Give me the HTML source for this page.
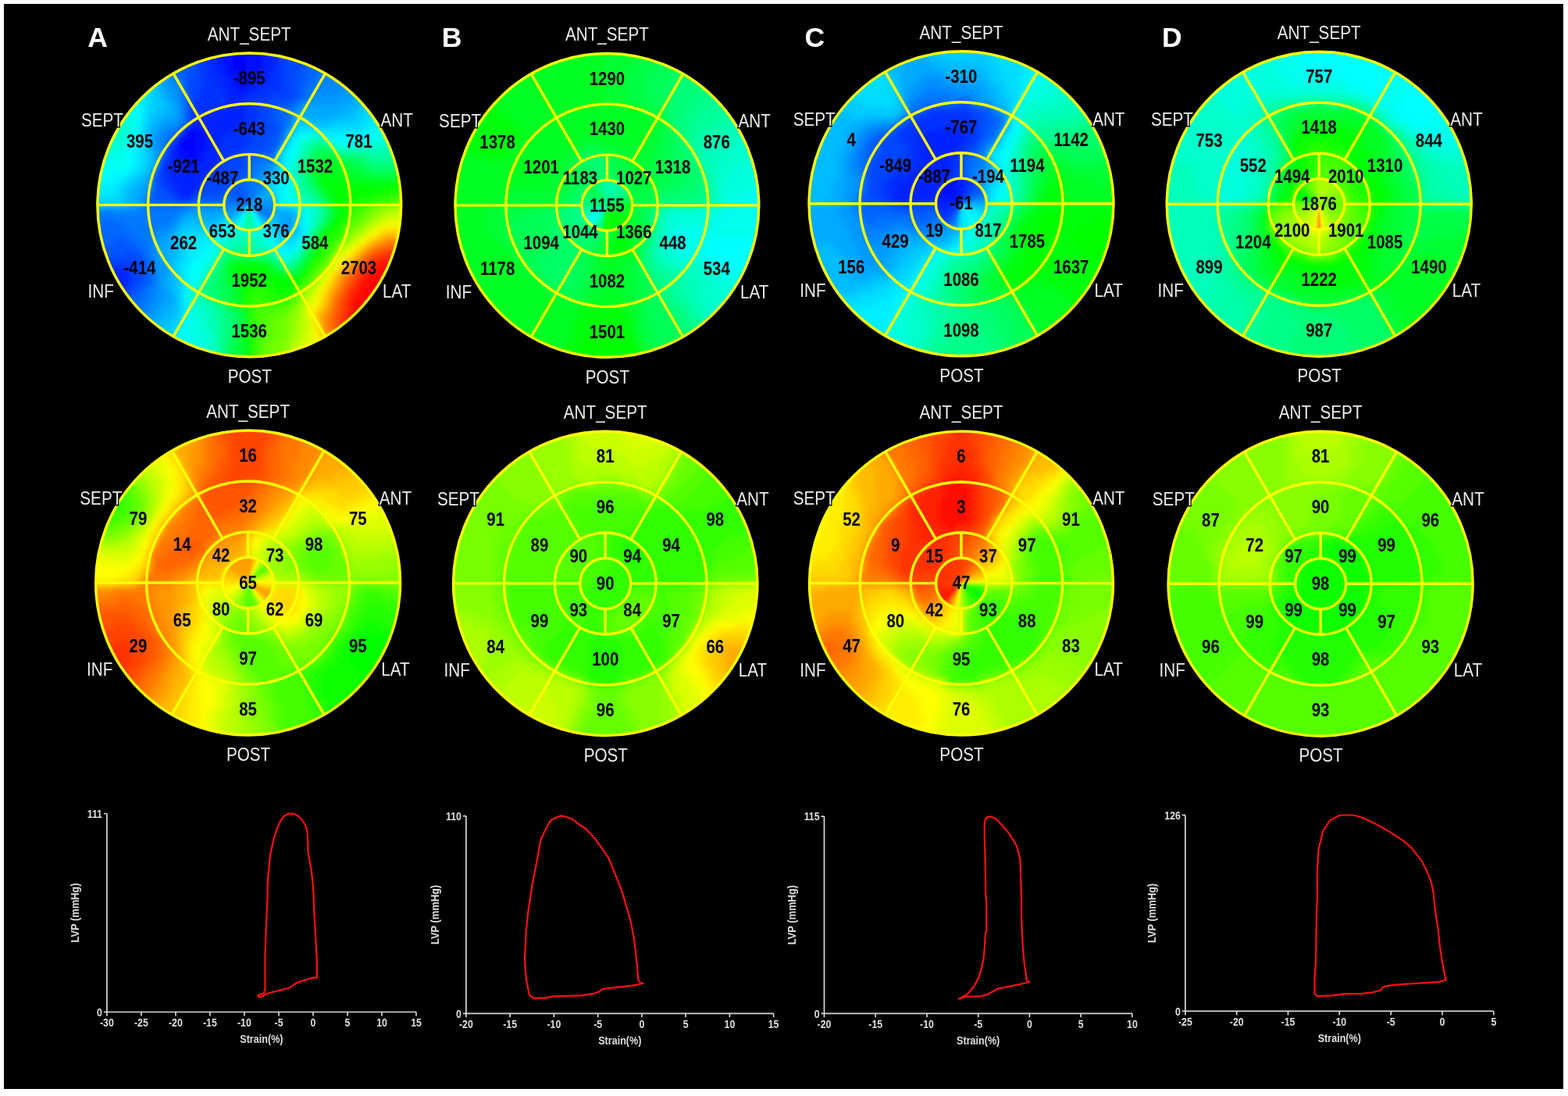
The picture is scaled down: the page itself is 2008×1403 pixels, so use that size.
<!DOCTYPE html><html><head><meta charset="utf-8"><title>Bullseye</title><style>html,body{margin:0;padding:0;background:#fff;}svg{display:block;}</style></head><body>
<svg width="2008" height="1403" viewBox="0 0 2008 1403">
<defs><filter id="bl" x="-10%" y="-10%" width="120%" height="120%"><feGaussianBlur stdDeviation="4"/></filter><filter id="bl2"><feGaussianBlur stdDeviation="1.2"/></filter></defs>
<rect x="0" y="0" width="2008" height="1403" fill="#fff"/>
<rect x="5" y="5" width="1997" height="1389" fill="#000"/>
<g fill="none"><clipPath id="cA1"><circle cx="319.25" cy="262.40" r="194.40"/></clipPath><g clip-path="url(#cA1)"><g filter="url(#bl)" stroke-width="9"><path stroke="#02f" d="M274 61h8M338 61h24M266 69h16M338 69h16M266 77h16M338 77h16M274 85h16M338 85h16M274 93h16M330 93h16M282 101h16M330 101h16M282 109h16M322 109h16M290 117h16M314 117h16M290 125h24M290 133h24M274 141h40M258 149h56M242 157h72M258 165h48M226 173h8M266 173h24M266 181h16M218 189h8M266 189h16M218 197h8M258 197h24M218 205h16M258 205h24M218 213h24M250 213h24M218 221h48M218 229h40M226 237h32M226 245h24M234 253h8M130 349h32M138 357h24M138 365h24M146 373h8"/><path stroke="#01f" d="M282 61h8M314 61h24M282 69h8M314 69h24M282 77h16M314 77h24M290 85h8M314 85h24M290 93h16M314 93h16M298 101h32M298 109h24M306 117h8M234 165h24M234 173h8M250 173h16M226 181h8M250 181h16M226 189h8M250 189h16M226 197h16M250 197h8M234 205h24M242 213h8"/><path stroke="#00f" d="M290 61h24M290 69h24M298 77h16M298 85h16M306 93h8M242 173h8M234 181h16M234 189h16M242 197h8"/><path stroke="#03f" d="M250 69h16M354 69h8M250 77h16M354 77h8M258 85h16M354 85h8M258 93h16M346 93h16M258 101h24M346 101h16M258 109h24M338 109h24M258 117h32M330 117h32M250 125h40M314 125h32M242 133h48M314 133h16M242 141h32M314 141h16M242 149h16M314 149h16M314 157h16M306 165h24M290 173h32M218 181h8M282 181h40M282 189h32M210 197h8M282 197h24M210 205h8M282 205h8M202 213h16M274 213h8M202 221h16M266 221h16M210 229h8M258 229h8M210 237h16M218 245h8M250 245h8M226 253h8M242 253h8M130 341h40M162 349h8M162 357h8M162 365h8M154 373h8"/><path stroke="#04f" d="M362 69h24M362 77h24M250 85h8M362 85h24M250 93h8M362 93h16M242 101h16M362 101h16M242 109h16M362 109h16M242 117h16M362 117h16M242 125h8M346 125h32M330 133h32M330 141h16M330 149h16M330 157h16M330 165h24M322 173h24M322 181h24M210 189h8M314 189h24M306 197h24M202 205h8M290 205h24M282 213h32M282 221h24M202 229h8M266 229h40M202 237h8M258 237h40M210 245h8M258 245h32M218 253h8M250 253h8M226 261h16M162 325h8M130 333h48M170 341h16M170 349h16M170 357h16M170 365h8M162 373h8M154 381h8"/><path stroke="#05f" d="M386 69h8M234 77h16M386 77h8M234 85h16M386 85h8M234 93h16M378 93h16M234 101h8M378 101h16M234 109h8M378 109h8M234 117h8M378 117h8M378 125h8M362 133h16M346 141h8M346 149h8M346 157h16M354 165h8M346 173h16M346 181h8M338 189h16M330 197h24M314 205h8M314 213h8M194 221h8M306 221h16M194 229h8M306 229h8M194 237h8M194 245h16M194 253h24M258 253h32M202 261h24M242 261h8M146 309h16M122 317h48M122 325h40M170 325h16M122 333h8M178 333h8M186 357h8M178 365h8M170 373h8M162 381h8M154 389h8"/><path stroke="#06f" d="M226 77h8M394 77h16M218 85h16M394 85h16M218 93h16M394 93h16M226 101h8M394 101h8M386 109h16M386 117h8M234 125h8M386 125h8M234 133h8M234 141h8M354 141h16M234 149h8M354 149h16M234 157h8M362 157h8M226 165h8M218 173h8M354 181h8M354 189h8M322 205h8M346 205h8M314 229h8M298 237h16M290 245h16M186 253h8M186 261h16M258 261h24M130 285h24M114 293h48M114 301h56M122 309h24M162 309h16M170 317h16M186 333h8M186 341h8M186 349h8M186 365h8M178 373h8M170 381h16M162 389h16M162 397h16"/><path stroke="#07f" d="M210 85h8M410 85h16M210 93h8M410 93h8M426 93h8M402 101h16M402 109h8M394 117h8M394 125h8M378 133h8M370 141h8M370 149h8M362 165h8M210 173h8M210 181h8M330 205h16M322 213h16M322 221h8M314 237h8M306 245h16M290 253h24M250 261h8M282 261h8M130 269h16M178 269h56M122 277h104M114 285h16M154 285h64M162 293h40M170 301h24M178 309h16M186 317h8M186 325h8M194 349h8M194 357h8M194 365h8M186 373h8M186 381h8M178 389h8M178 397h8M170 405h8"/><path stroke="#09f" d="M202 93h8M202 101h16M210 109h8M210 117h16M434 117h24M218 125h8M402 125h48M394 133h40M226 141h8M226 149h8M210 157h16M202 165h8M370 165h8M194 173h8M194 181h8M194 189h8M346 213h8M338 221h8M330 229h8M186 237h8M330 237h8M330 245h8M178 253h8M338 253h8M178 261h8M298 261h48M114 269h8M242 269h48M330 269h24M226 285h8M362 285h16M218 293h8M370 293h8M202 301h16M202 309h8M202 333h8M202 341h16M202 349h16M202 357h8M202 365h8M202 373h16M202 381h16M202 389h8M194 397h8M186 405h16M186 413h8"/><path stroke="#08f" d="M418 93h8M218 101h8M418 101h32M218 109h16M410 109h48M226 117h8M402 117h32M226 125h8M226 133h8M386 133h8M378 141h8M226 157h8M370 157h8M210 165h16M202 173h8M362 173h8M202 181h8M362 181h8M202 189h8M202 197h8M338 213h8M330 221h8M322 229h8M322 237h8M186 245h8M322 245h8M314 253h24M290 261h8M122 269h8M146 269h32M234 269h8M114 277h8M226 277h8M218 285h8M202 293h16M194 301h8M194 309h8M194 317h8M194 325h8M194 333h8M194 341h8M194 373h8M194 381h8M186 389h16M186 397h8M178 405h8M178 413h8"/><path stroke="#0df" d="M194 101h8M186 117h8M186 125h8M186 133h8M186 141h8M474 141h16M466 149h16M458 157h16M178 165h8M378 165h24M418 165h48M178 173h8M370 173h8M178 181h8M178 189h8M362 189h8M178 197h8M178 205h8M178 213h8M170 221h8M354 221h8M162 229h8M154 237h8M346 237h8M114 245h8M146 245h8M346 245h8M114 253h40M378 269h8M282 285h8M298 285h24M378 285h8M274 293h8M346 293h8M234 301h40M234 309h16M354 309h24M234 317h8M234 325h8M234 333h8M226 341h8M226 349h8M234 397h8M210 437h8"/><path stroke="#0fe" d="M178 109h8M170 117h16M162 125h16M162 133h8M162 141h8M170 157h8M170 165h8M394 173h8M482 173h16M162 181h8M378 181h8M418 181h8M458 181h16M162 189h8M122 197h16M146 197h16M122 205h40M370 205h8M122 213h40M370 229h8M362 245h16M370 253h8M370 261h16M386 269h8M386 277h8M290 293h8M330 293h8M282 301h8M338 301h8M274 309h8M346 317h8M378 317h8M266 325h8M370 325h8M258 333h8M258 341h8M250 349h8M250 357h8M234 405h8M242 413h8M234 421h16M234 429h16M226 437h24M234 445h8"/><path stroke="#0ff" d="M186 109h8M170 133h8M170 141h8M170 149h8M490 157h8M482 165h16M170 173h8M386 173h8M466 173h16M170 181h8M426 181h32M370 189h8M162 197h8M370 197h8M162 205h8M162 213h8M362 213h8M114 221h48M362 221h8M122 229h24M362 229h8M362 237h8M362 253h8M362 261h8M386 285h8M282 293h8M274 301h8M386 301h8M346 309h8M266 317h8M258 325h8M354 325h16M250 333h8M242 341h16M242 349h8M242 357h8M242 365h8M234 381h8M234 413h8M226 421h8M226 429h8M226 445h8"/><path stroke="#0bf" d="M194 109h8M202 117h8M202 125h8M466 125h8M210 133h8M458 133h8M202 141h16M450 141h8M194 149h16M434 149h16M194 157h8M394 157h32M186 165h8M186 173h8M186 181h8M186 189h8M354 197h8M354 213h8M186 221h8M178 229h8M162 237h16M338 237h8M162 245h8M162 253h8M346 253h8M114 261h8M154 261h8M370 269h8M282 277h8M314 277h16M346 277h8M378 277h8M234 285h24M266 285h16M330 285h16M226 293h8M354 293h8M226 317h8M218 325h8M218 333h8M218 357h8M218 365h8M218 373h8M218 397h8M210 405h16M202 413h16M194 421h16M194 429h8"/><path stroke="#0af" d="M202 109h8M458 117h8M210 125h8M450 125h16M218 133h8M434 133h24M218 141h8M386 141h64M210 149h16M378 149h56M202 157h8M194 165h8M194 197h8M194 205h8M194 213h8M346 221h8M186 229h8M338 229h8M178 237h8M170 245h16M338 245h8M170 253h8M162 261h16M346 261h8M290 269h40M354 269h16M234 277h48M330 277h16M354 277h24M258 285h8M354 285h8M362 293h8M218 301h8M362 301h8M210 309h16M202 317h24M202 325h16M210 333h8M218 349h8M210 357h8M210 365h8M218 381h8M210 389h16M202 397h16M202 405h8M194 413h8M186 421h8"/><path stroke="#0cf" d="M194 117h8M194 125h8M194 133h16M466 133h16M194 141h8M458 141h16M186 149h8M450 149h16M186 157h8M378 157h16M426 157h32M402 165h16M186 197h8M186 205h8M354 205h8M186 213h8M178 221h8M170 229h8M346 229h8M154 245h8M154 253h8M122 261h32M290 277h24M322 285h8M346 285h8M234 293h40M378 293h8M226 301h8M354 301h8M370 301h16M226 309h8M226 325h8M226 333h8M218 341h8M226 357h8M226 365h8M226 373h8M226 381h8M226 389h8M226 397h8M226 405h8M218 413h16M210 421h16M202 429h24"/><path stroke="#0ef" d="M178 125h8M178 133h8M178 141h8M178 149h8M482 149h8M178 157h8M474 157h16M466 165h16M378 173h8M410 173h56M370 181h8M170 189h8M170 197h8M362 197h8M170 205h8M362 205h8M170 213h8M162 221h8M114 229h8M146 229h16M354 229h8M114 237h40M354 237h8M122 245h24M354 245h8M354 253h8M354 261h8M290 285h8M306 293h24M338 293h8M386 293h8M346 301h8M250 309h24M378 309h8M242 317h24M354 317h24M242 325h16M242 333h8M234 341h8M234 349h8M234 357h8M234 365h8M234 373h8M234 389h8M218 437h8"/><path stroke="#0fd" d="M154 141h8M146 149h24M162 157h8M162 165h8M162 173h8M402 173h8M498 173h8M154 181h8M386 181h8M474 181h24M130 189h32M378 189h8M434 189h16M138 197h8M378 197h8M370 213h8M370 237h8M378 253h8M394 269h8M394 277h8M394 285h8M298 293h8M290 301h8M330 301h8M282 309h8M338 309h8M386 309h8M274 317h8M274 325h8M266 333h8M362 333h8M266 341h8M258 349h8M250 365h8M242 373h8M242 389h8M242 397h8M242 405h16M250 413h8M250 421h8M250 429h16M250 437h16M242 445h24M242 453h24"/><path stroke="#0fc" d="M138 157h24M138 165h24M130 173h32M130 181h24M498 181h8M426 189h8M450 189h32M378 205h8M370 221h8M402 269h8M394 293h8M298 301h8M314 301h16M290 309h8M330 309h8M282 317h8M338 317h8M274 333h8M258 357h8M250 373h8M242 381h8M250 389h8M250 397h16M258 405h8M258 413h8M258 421h8M266 429h8M266 437h8M266 445h8M266 453h8M266 461h16"/><path stroke="#0fb" d="M394 181h8M386 189h8M482 189h32M378 213h8M386 261h16M402 277h8M306 301h8M298 309h8M322 309h8M290 317h8M330 317h8M378 325h8M370 333h8M258 389h8M266 397h8M266 405h8M266 413h8M266 421h8M274 445h8M274 453h8"/><path stroke="#0f9" d="M402 181h16M394 189h8M458 197h16M506 197h8M482 205h16M386 237h8M386 245h8M410 269h8M394 301h8M306 317h16M386 317h8M322 325h8M354 333h8M258 381h8M274 397h8"/><path stroke="#0f7" d="M402 189h8M394 197h8M466 205h8M386 213h8M474 213h24M386 221h8M394 237h8M402 293h8M274 341h8M274 349h8M266 357h8M266 365h8M258 373h16M266 381h8M290 405h8M290 421h8M290 429h8"/><path stroke="#0f6" d="M410 189h16M394 205h8M458 205h8M466 213h8M498 213h24M410 261h8M410 285h8M394 309h8M290 325h16M386 325h8M282 333h8M346 333h8M274 357h8M274 365h8M274 373h8M274 381h8M282 389h8M290 397h8M298 405h8M298 413h8M298 421h8M290 437h8"/><path stroke="#0fa" d="M386 197h8M474 197h32M378 221h8M378 229h8M378 237h8M378 245h8M386 253h16M402 261h8M402 285h8M306 309h16M298 317h8M322 317h8M330 325h8M346 325h8M362 341h8M250 381h8M266 389h8M274 405h8M274 413h8M274 421h8M274 429h8M274 437h8"/><path stroke="#0f5" d="M402 197h8M434 205h24M458 213h8M474 221h32M394 229h8M402 245h8M418 269h8M282 341h8M354 341h8M282 349h8M282 357h8M282 365h8M282 373h8M282 381h8M298 397h8M298 429h8M290 445h8M290 453h8M290 461h8"/><path stroke="#0f4" d="M410 197h24M402 205h8M394 213h8M450 213h8M394 221h8M466 221h8M506 221h16M410 253h8M418 277h8M394 317h8M290 333h8M338 333h8M386 333h8M378 341h8M370 349h8M290 365h8M290 373h8M290 381h8M290 389h8M306 405h8M306 413h8M298 437h8M298 445h8M298 453h8M298 461h8"/><path stroke="#0f8" d="M434 197h24M386 205h8M474 205h8M498 205h16M386 229h8M394 245h8M402 253h8M410 277h8M282 325h8M306 325h16M338 325h8M378 333h8M370 341h8M266 349h8M258 365h8M274 389h8M282 397h8M282 405h8M282 413h16M282 421h8M282 429h8M282 437h8M282 445h8M282 453h8M282 461h8"/><path stroke="#0f3" d="M410 205h24M402 213h8M442 213h8M442 221h24M490 229h8M402 237h8M418 261h8M402 301h8M298 333h8M346 341h8M290 357h8M298 373h8M298 381h8M298 389h8M306 397h8M306 421h8M306 429h8M306 437h8M306 445h8M306 453h8M306 461h8"/><path stroke="#0f2" d="M410 213h32M402 221h40M402 229h8M442 229h48M498 229h16M410 245h8M418 253h8M426 269h8M418 285h8M410 293h8M394 325h8M306 333h32M290 341h8M290 349h8M354 349h16M378 349h8M298 365h8"/><path stroke="#0f1" d="M410 229h32M514 229h8M410 237h88M418 245h8M426 261h8M426 277h8M402 309h8M394 333h8M298 341h48M386 341h8M298 349h8M346 349h8M298 357h8M362 357h16M306 365h8M306 373h8M306 381h8M306 389h8M314 437h8M314 445h8M314 453h8M314 461h8"/><path stroke="#0f0" d="M498 237h16M426 245h64M426 253h32M434 261h8M434 269h8M434 277h8M426 285h8M418 293h8M402 317h8M306 349h40M386 349h8M306 357h56M378 357h8M354 365h24M314 421h8M314 429h8"/><path stroke="#1f0" d="M514 237h8M490 245h24M458 253h24M442 261h16M442 269h8M442 277h8M434 285h8M426 293h8M410 301h16M402 325h8M394 341h8M314 365h40M378 365h8M314 373h8M346 373h32M354 381h16M314 397h8M314 405h8M314 413h8"/><path stroke="#3f0" d="M514 245h8M498 253h16M474 261h8M450 269h8M426 309h8M418 317h8M410 333h8M402 341h8M386 365h8M322 381h16M370 381h8M322 389h48M322 397h8M322 405h8M322 413h8M322 421h8"/><path stroke="#2f0" d="M482 253h16M458 261h16M442 285h8M434 293h8M426 301h16M410 309h16M410 317h8M410 325h8M402 333h8M394 349h8M386 357h8M322 373h24M378 373h8M314 381h8M338 381h16M314 389h8M322 429h8M322 437h8M322 445h8M322 453h8M322 461h8"/><path stroke="#5f0" d="M514 253h8M498 261h16M466 269h8M458 277h8M450 285h8M442 293h8M426 325h8M418 333h8M410 341h8M402 349h8M394 365h8M378 381h8M370 389h8M354 397h16M338 405h16M338 413h8M338 421h8M338 429h8M330 453h8M330 461h8"/><path stroke="#4f0" d="M482 261h16M458 269h8M450 277h8M434 309h8M426 317h8M418 325h8M394 357h8M330 397h24M330 405h8M330 413h8M330 421h8M330 429h8M330 437h8M330 445h8"/><path stroke="#8f0" d="M514 261h8M482 269h8M474 277h8M466 285h8M458 293h8M386 373h8M370 405h8M370 413h8M370 421h8M362 445h8M362 453h8M362 461h8"/><path stroke="#7f0" d="M474 269h8M458 285h8M450 293h8M442 301h8M418 341h8M410 349h8M378 389h8M370 397h8M362 413h8M362 421h8M362 429h8M354 437h16M346 445h16M346 453h16M338 461h24"/><path stroke="#9f0" d="M490 269h8M482 277h8M450 301h8M442 309h8M378 397h8M378 405h8M370 429h8M370 437h8"/><path stroke="#af0" d="M498 269h8M514 269h8M474 285h8M466 293h8M434 317h8M386 381h8M386 389h8M378 413h8M378 421h8M378 429h8M370 445h8M370 453h8M370 461h8"/><path stroke="#bf0" d="M506 269h8M490 277h16M458 301h8M450 309h8M394 373h8M386 397h8M386 405h8M386 413h8M386 421h8M378 437h8"/><path stroke="#6f0" d="M466 277h8M402 357h8M354 405h16M346 413h16M346 421h16M346 429h16M338 437h16M338 445h8M338 453h8"/><path stroke="#cf0" d="M506 277h16M482 285h8M442 317h8M402 365h8M394 381h8M386 429h8M386 437h8M378 445h8M378 453h8"/><path stroke="#df0" d="M490 285h8M474 293h8M466 301h8M434 325h8M426 333h8M410 357h8M402 373h8M394 389h8M394 413h8M394 421h8M394 429h8M394 437h8M386 445h8M386 453h16"/><path stroke="#ef0" d="M498 285h24M482 293h8M458 309h8M450 317h8M410 365h8M402 381h8M394 405h8M402 437h8M394 445h8"/><path stroke="#fe0" d="M490 293h32M466 309h8M418 357h8M410 373h8M402 421h8"/><path stroke="#ff0" d="M474 301h8M442 325h8M434 333h8M426 341h8M418 349h8M402 389h8M394 397h8M402 429h8M402 445h8"/><path stroke="#fd0" d="M482 301h8M458 317h8M450 325h8M426 349h8M418 365h8M410 381h8M402 397h8M402 413h8"/><path stroke="#fb0" d="M490 301h32M474 309h8M426 357h8M418 373h8M410 397h8M402 405h8M410 437h8"/><path stroke="#fa0" d="M482 309h8M466 317h8M458 325h8M450 333h8M442 341h8M434 349h8M426 365h8M418 381h8"/><path stroke="#f80" d="M490 309h32M474 317h8M442 349h8M434 357h8M426 373h8M418 397h8M410 421h8M418 437h8"/><path stroke="#f70" d="M482 317h8M466 325h8M458 333h8M450 341h8M434 365h8M426 381h8M418 405h8M418 413h8M418 421h8M418 429h8"/><path stroke="#f60" d="M490 317h8M506 317h16M442 357h8M434 373h8M426 389h8M426 397h8M426 429h8"/><path stroke="#f50" d="M498 317h8M474 325h8M466 333h8M458 341h8M450 349h8M442 365h8M434 381h8M426 405h8M426 413h8M426 421h8"/><path stroke="#f40" d="M482 325h8M450 357h8M434 389h8M434 397h8M434 413h8M434 421h8M434 429h8"/><path stroke="#f30" d="M490 325h24M474 333h8M466 341h8M458 349h8M450 365h8M442 373h8M442 381h8M434 405h8"/><path stroke="#fc0" d="M442 333h8M434 341h8M410 389h8M410 429h8M410 445h8"/><path stroke="#f20" d="M482 333h16M506 333h8M474 341h8M466 349h8M458 357h8M450 373h8M442 389h8M442 397h8M442 405h8M442 413h8M442 421h8"/><path stroke="#f10" d="M498 333h8M482 341h32M474 349h16M466 357h16M458 365h16M458 373h8M450 381h16M450 389h8M450 397h8M450 405h8M450 413h8"/><path stroke="#f00" d="M490 349h16M482 357h24M474 365h24M466 373h24M466 381h24M458 389h24M458 397h16M458 405h8"/><path stroke="#f90" d="M418 389h8M410 405h8M410 413h8"/></g></g></g>
<clipPath id="ccA1"><circle cx="319.25" cy="262.40" r="32.40"/></clipPath><g clip-path="url(#ccA1)"><g filter="url(#bl2)"><path fill="#0090ff" d="M319.2 262.4L354.6 262.8L354.6 260.2Z"/><path fill="#0093ff" d="M319.2 262.4L354.6 260.9L354.4 258.3Z"/><path fill="#0096ff" d="M319.2 262.4L354.5 259.1L354.2 256.5Z"/><path fill="#009aff" d="M319.2 262.4L354.3 257.2L353.8 254.7Z"/><path fill="#009dff" d="M319.2 262.4L354.0 255.4L353.3 252.9Z"/><path fill="#00a0ff" d="M319.2 262.4L353.5 253.6L352.8 251.1Z"/><path fill="#00a3ff" d="M319.2 262.4L353.0 251.8L352.2 249.4Z"/><path fill="#00a6ff" d="M319.2 262.4L352.4 250.1L351.4 247.7Z"/><path fill="#00a9ff" d="M319.2 262.4L351.7 248.3L350.6 246.0Z"/><path fill="#00acff" d="M319.2 262.4L351.0 246.7L349.7 244.4Z"/><path fill="#00abff" d="M319.2 262.4L350.1 245.0L348.7 242.8Z"/><path fill="#00a7ff" d="M319.2 262.4L349.1 243.4L347.7 241.3Z"/><path fill="#00a3ff" d="M319.2 262.4L348.1 241.9L346.5 239.8Z"/><path fill="#009fff" d="M319.2 262.4L347.0 240.4L345.3 238.4Z"/><path fill="#009bff" d="M319.2 262.4L345.8 239.0L344.0 237.1Z"/><path fill="#0097ff" d="M319.2 262.4L344.5 237.6L342.7 235.8Z"/><path fill="#0093ff" d="M319.2 262.4L343.2 236.3L341.2 234.7Z"/><path fill="#008fff" d="M319.2 262.4L341.8 235.1L339.8 233.5Z"/><path fill="#008bff" d="M319.2 262.4L340.4 234.0L338.2 232.5Z"/><path fill="#0087ff" d="M319.2 262.4L338.8 232.9L336.6 231.6Z"/><path fill="#0084ff" d="M319.2 262.4L337.3 231.9L335.0 230.7Z"/><path fill="#0082ff" d="M319.2 262.4L335.7 231.0L333.3 229.9Z"/><path fill="#0080ff" d="M319.2 262.4L334.0 230.2L331.6 229.2Z"/><path fill="#007dff" d="M319.2 262.4L332.3 229.5L329.8 228.6Z"/><path fill="#007bff" d="M319.2 262.4L330.5 228.8L328.1 228.1Z"/><path fill="#0079ff" d="M319.2 262.4L328.8 228.3L326.2 227.7Z"/><path fill="#0077ff" d="M319.2 262.4L327.0 227.9L324.4 227.4Z"/><path fill="#0075ff" d="M319.2 262.4L325.2 227.5L322.6 227.2Z"/><path fill="#0073ff" d="M319.2 262.4L323.3 227.2L320.7 227.0Z"/><path fill="#0071ff" d="M319.2 262.4L321.5 227.1L318.9 227.0Z"/><path fill="#006fff" d="M319.2 262.4L319.6 227.0L317.0 227.1Z"/><path fill="#006dff" d="M319.2 262.4L317.8 227.0L315.2 227.2Z"/><path fill="#006bff" d="M319.2 262.4L315.9 227.2L313.3 227.5Z"/><path fill="#0069ff" d="M319.2 262.4L314.1 227.4L311.5 227.9Z"/><path fill="#0067ff" d="M319.2 262.4L312.3 227.7L309.7 228.3Z"/><path fill="#0065ff" d="M319.2 262.4L310.4 228.1L308.0 228.8Z"/><path fill="#0063ff" d="M319.2 262.4L308.7 228.6L306.2 229.5Z"/><path fill="#0061ff" d="M319.2 262.4L306.9 229.2L304.5 230.2Z"/><path fill="#005fff" d="M319.2 262.4L305.2 229.9L302.8 231.0Z"/><path fill="#005dff" d="M319.2 262.4L303.5 230.7L301.2 231.9Z"/><path fill="#005bff" d="M319.2 262.4L301.9 231.6L299.7 232.9Z"/><path fill="#0059ff" d="M319.2 262.4L300.3 232.5L298.1 234.0Z"/><path fill="#0057ff" d="M319.2 262.4L298.7 233.5L296.7 235.1Z"/><path fill="#0055ff" d="M319.2 262.4L297.3 234.7L295.3 236.3Z"/><path fill="#0053ff" d="M319.2 262.4L295.8 235.8L294.0 237.6Z"/><path fill="#0053ff" d="M319.2 262.4L294.5 237.1L292.7 239.0Z"/><path fill="#0056ff" d="M319.2 262.4L293.2 238.4L291.5 240.4Z"/><path fill="#0058ff" d="M319.2 262.4L292.0 239.8L290.4 241.9Z"/><path fill="#005bff" d="M319.2 262.4L290.8 241.3L289.4 243.4Z"/><path fill="#005eff" d="M319.2 262.4L289.8 242.8L288.4 245.0Z"/><path fill="#0061ff" d="M319.2 262.4L288.8 244.4L287.5 246.7Z"/><path fill="#0063ff" d="M319.2 262.4L287.9 246.0L286.8 248.3Z"/><path fill="#0066ff" d="M319.2 262.4L287.1 247.7L286.1 250.1Z"/><path fill="#0069ff" d="M319.2 262.4L286.3 249.4L285.5 251.8Z"/><path fill="#006bff" d="M319.2 262.4L285.7 251.1L285.0 253.6Z"/><path fill="#006eff" d="M319.2 262.4L285.2 252.9L284.5 255.4Z"/><path fill="#0071ff" d="M319.2 262.4L284.7 254.7L284.2 257.2Z"/><path fill="#0074ff" d="M319.2 262.4L284.3 256.5L284.0 259.1Z"/><path fill="#0076ff" d="M319.2 262.4L284.1 258.3L283.9 260.9Z"/><path fill="#0079ff" d="M319.2 262.4L283.9 260.2L283.9 262.8Z"/><path fill="#007dff" d="M319.2 262.4L283.9 262.0L283.9 264.6Z"/><path fill="#0081ff" d="M319.2 262.4L283.9 263.9L284.1 266.5Z"/><path fill="#0085ff" d="M319.2 262.4L284.0 265.7L284.3 268.3Z"/><path fill="#008aff" d="M319.2 262.4L284.2 267.6L284.7 270.1Z"/><path fill="#008eff" d="M319.2 262.4L284.5 269.4L285.2 271.9Z"/><path fill="#0092ff" d="M319.2 262.4L285.0 271.2L285.7 273.7Z"/><path fill="#0097ff" d="M319.2 262.4L285.5 273.0L286.3 275.4Z"/><path fill="#009bff" d="M319.2 262.4L286.1 274.7L287.1 277.1Z"/><path fill="#00a0ff" d="M319.2 262.4L286.8 276.5L287.9 278.8Z"/><path fill="#00a4ff" d="M319.2 262.4L287.5 278.1L288.8 280.4Z"/><path fill="#00a8ff" d="M319.2 262.4L288.4 279.8L289.8 282.0Z"/><path fill="#00adff" d="M319.2 262.4L289.4 281.4L290.8 283.5Z"/><path fill="#00b5ff" d="M319.2 262.4L290.4 282.9L292.0 285.0Z"/><path fill="#00bdff" d="M319.2 262.4L291.5 284.4L293.2 286.4Z"/><path fill="#00c6ff" d="M319.2 262.4L292.7 285.8L294.5 287.7Z"/><path fill="#00ceff" d="M319.2 262.4L294.0 287.2L295.8 289.0Z"/><path fill="#00d7ff" d="M319.2 262.4L295.3 288.5L297.3 290.1Z"/><path fill="#00dfff" d="M319.2 262.4L296.7 289.7L298.7 291.3Z"/><path fill="#00e8ff" d="M319.2 262.4L298.1 290.8L300.3 292.3Z"/><path fill="#00f1ff" d="M319.2 262.4L299.7 291.9L301.9 293.2Z"/><path fill="#00fbff" d="M319.2 262.4L301.2 292.9L303.5 294.1Z"/><path fill="#00fff7" d="M319.2 262.4L302.8 293.8L305.2 294.9Z"/><path fill="#00ffeb" d="M319.2 262.4L304.5 294.6L306.9 295.6Z"/><path fill="#00ffde" d="M319.2 262.4L306.2 295.3L308.7 296.2Z"/><path fill="#00ffd2" d="M319.2 262.4L308.0 296.0L310.4 296.7Z"/><path fill="#00ffc6" d="M319.2 262.4L309.7 296.5L312.3 297.1Z"/><path fill="#00ffba" d="M319.2 262.4L311.5 296.9L314.1 297.4Z"/><path fill="#00ffad" d="M319.2 262.4L313.3 297.3L315.9 297.6Z"/><path fill="#00ffa1" d="M319.2 262.4L315.2 297.6L317.8 297.8Z"/><path fill="#00ff95" d="M319.2 262.4L317.0 297.7L319.6 297.8Z"/><path fill="#00ff95" d="M319.2 262.4L318.9 297.8L321.5 297.7Z"/><path fill="#00ffa1" d="M319.2 262.4L320.7 297.8L323.3 297.6Z"/><path fill="#00ffad" d="M319.2 262.4L322.6 297.6L325.2 297.3Z"/><path fill="#00ffba" d="M319.2 262.4L324.4 297.4L327.0 296.9Z"/><path fill="#00ffc6" d="M319.2 262.4L326.2 297.1L328.8 296.5Z"/><path fill="#00ffd2" d="M319.2 262.4L328.1 296.7L330.5 296.0Z"/><path fill="#00ffde" d="M319.2 262.4L329.8 296.2L332.3 295.3Z"/><path fill="#00ffeb" d="M319.2 262.4L331.6 295.6L334.0 294.6Z"/><path fill="#00fff7" d="M319.2 262.4L333.3 294.9L335.7 293.8Z"/><path fill="#00fbff" d="M319.2 262.4L335.0 294.1L337.3 292.9Z"/><path fill="#00efff" d="M319.2 262.4L336.6 293.2L338.8 291.9Z"/><path fill="#00e2ff" d="M319.2 262.4L338.2 292.3L340.4 290.8Z"/><path fill="#00d6ff" d="M319.2 262.4L339.8 291.3L341.8 289.7Z"/><path fill="#00caff" d="M319.2 262.4L341.2 290.1L343.2 288.5Z"/><path fill="#00beff" d="M319.2 262.4L342.7 289.0L344.5 287.2Z"/><path fill="#00b1ff" d="M319.2 262.4L344.0 287.7L345.8 285.8Z"/><path fill="#00a5ff" d="M319.2 262.4L345.3 286.4L347.0 284.4Z"/><path fill="#0099ff" d="M319.2 262.4L346.5 285.0L348.1 282.9Z"/><path fill="#008dff" d="M319.2 262.4L347.7 283.5L349.1 281.4Z"/><path fill="#0081ff" d="M319.2 262.4L348.7 282.0L350.1 279.8Z"/><path fill="#007bff" d="M319.2 262.4L349.7 280.4L351.0 278.1Z"/><path fill="#007dff" d="M319.2 262.4L350.6 278.8L351.7 276.5Z"/><path fill="#0080ff" d="M319.2 262.4L351.4 277.1L352.4 274.7Z"/><path fill="#0082ff" d="M319.2 262.4L352.2 275.4L353.0 273.0Z"/><path fill="#0084ff" d="M319.2 262.4L352.8 273.7L353.5 271.2Z"/><path fill="#0086ff" d="M319.2 262.4L353.3 271.9L354.0 269.4Z"/><path fill="#0088ff" d="M319.2 262.4L353.8 270.1L354.3 267.6Z"/><path fill="#008aff" d="M319.2 262.4L354.2 268.3L354.5 265.7Z"/><path fill="#008cff" d="M319.2 262.4L354.4 266.5L354.6 263.9Z"/><path fill="#008eff" d="M319.2 262.4L354.6 264.6L354.6 262.0Z"/></g></g>
<g fill="none" stroke="#ffff00" stroke-width="3.4"><circle cx="319.25" cy="262.40" r="194.40"/><circle cx="319.25" cy="262.40" r="129.60"/><circle cx="319.25" cy="262.40" r="64.80"/><circle cx="319.25" cy="262.40" r="32.40"/><path d="M124.85 262.40H286.85M351.65 262.40H513.65M319.25 197.60V230.00M319.25 294.80V327.20M351.65 206.28L416.45 94.04M286.85 206.28L222.05 94.04M286.85 318.52L222.05 430.76M351.65 318.52L416.45 430.76"/></g>
<g font-family="Liberation Sans, Arial, sans-serif" font-weight="bold" font-size="23.5" fill="#000" text-anchor="middle"><text transform="translate(319.2 108.0) scale(0.87 1)">-895</text><text transform="translate(179.0 189.0) scale(0.87 1)">395</text><text transform="translate(459.5 189.0) scale(0.87 1)">781</text><text transform="translate(179.0 351.0) scale(0.87 1)">-414</text><text transform="translate(459.5 351.0) scale(0.87 1)">2703</text><text transform="translate(319.2 432.0) scale(0.87 1)">1536</text><text transform="translate(319.2 172.8) scale(0.87 1)">-643</text><text transform="translate(235.1 221.4) scale(0.87 1)">-921</text><text transform="translate(403.4 221.4) scale(0.87 1)">1532</text><text transform="translate(235.1 318.6) scale(0.87 1)">262</text><text transform="translate(403.4 318.6) scale(0.87 1)">584</text><text transform="translate(319.2 367.2) scale(0.87 1)">1952</text><text transform="translate(284.9 235.6) scale(0.87 1)">-487</text><text transform="translate(353.6 235.6) scale(0.87 1)">330</text><text transform="translate(284.9 304.4) scale(0.87 1)">653</text><text transform="translate(353.6 304.4) scale(0.87 1)">376</text><text transform="translate(319.2 270.0) scale(0.87 1)">218</text></g>
<g font-family="Liberation Sans, Arial, sans-serif" font-size="23.5" fill="#ececec" text-anchor="middle" stroke="#000" stroke-width="3" paint-order="stroke"><text transform="translate(319.2 51.6) scale(0.88 1)">ANT_SEPT</text><text transform="translate(319.8 490.1) scale(0.88 1)">POST</text><text transform="translate(130.9 162.2) scale(0.88 1)">SEPT</text><text transform="translate(508.1 162.2) scale(0.88 1)">ANT</text><text transform="translate(129.2 381.4) scale(0.88 1)">INF</text><text transform="translate(508.1 381.2) scale(0.88 1)">LAT</text></g>
<g fill="none"><clipPath id="cB1"><circle cx="777.40" cy="262.90" r="194.40"/></clipPath><g clip-path="url(#cB1)"><g filter="url(#bl)" stroke-width="9"><path stroke="#0f2" d="M733 62h40M701 70h72M685 78h88M669 86h104M661 94h112M645 102h128M637 110h136M629 118h144M629 126h144M637 134h152M645 142h176M653 150h176M661 158h176M669 166h160M669 174h160M661 182h80M773 182h48M581 190h8M653 190h80M581 198h24M653 198h72M581 206h48M637 206h80M573 214h144M573 222h136M573 230h128M573 238h128M573 246h72M573 254h64M573 262h56M573 270h48M573 278h48M573 286h48M797 286h8M573 294h48M789 294h24M573 302h56M781 302h8M797 302h16M573 310h64M805 310h8M581 318h64M805 318h8M581 326h72M773 326h8M789 326h24M581 334h80M773 334h32M589 342h80M773 342h24M589 350h80M773 350h24M597 358h88M773 358h16M597 366h96M773 366h16M605 374h96M773 374h16M605 382h120M757 382h40M613 390h184M621 398h120M805 398h8M629 406h112M805 406h8M637 414h96M645 422h88M653 430h80M813 430h8M669 438h56M813 438h8M685 446h40M701 454h16M821 454h8M821 462h8"/><path stroke="#0f3" d="M773 62h40M773 70h40M773 78h40M773 86h40M773 94h32M773 102h32M773 110h32M773 118h32M773 126h32M789 134h32M821 142h8M829 150h16M837 158h16M829 166h16M829 174h16M741 182h32M821 182h24M733 190h16M765 190h72M725 198h16M789 198h48M717 206h16M797 206h40M717 214h16M805 214h24M709 222h16M805 222h24M701 230h24M813 230h24M701 238h16M821 238h8M645 246h72M637 254h72M629 262h72M621 270h24M805 270h8M621 278h24M797 278h16M621 286h24M789 286h8M805 286h16M621 294h24M781 294h8M813 294h8M629 302h16M813 302h8M637 310h16M773 310h8M813 310h8M645 318h16M773 318h8M653 326h8M757 326h16M661 334h8M757 334h16M805 334h16M669 342h8M757 342h16M797 342h16M669 350h16M757 350h16M797 350h16M685 358h8M757 358h16M789 358h24M693 366h8M757 366h16M789 366h24M701 374h8M749 374h24M789 374h24M749 382h8M797 382h16M797 390h16M813 398h8M813 406h8M813 414h8M813 422h8M821 438h8M821 446h8"/><path stroke="#0f4" d="M813 62h8M813 70h24M813 78h24M813 86h24M805 94h24M805 102h24M805 110h24M805 118h24M805 126h24M821 134h16M829 142h16M845 150h8M845 166h16M845 174h8M845 182h8M749 190h16M837 190h16M741 198h8M773 198h16M837 198h16M733 206h8M781 206h16M837 206h16M781 214h24M829 214h24M725 222h8M789 222h16M829 222h24M725 230h8M789 230h24M837 230h16M717 238h16M797 238h24M829 238h16M717 246h16M805 246h32M709 254h16M805 254h32M701 262h16M797 262h32M645 270h40M797 270h8M813 270h8M645 278h24M789 278h8M813 278h8M645 286h8M781 286h8M821 286h8M645 294h8M821 294h8M645 302h16M773 302h8M821 302h8M653 310h8M765 310h8M661 318h8M765 318h8M813 318h8M661 326h8M749 326h8M813 326h8M669 334h8M749 334h8M749 342h8M813 342h8M749 350h8M813 350h16M749 358h8M813 358h16M741 366h16M813 366h16M709 374h8M741 374h8M813 374h16M725 382h24M813 382h16M813 390h16M821 398h8M821 406h8M821 414h8M821 422h16M821 430h16M829 438h8M829 446h8M829 454h8"/><path stroke="#0f5" d="M837 70h16M837 78h32M837 86h32M829 94h32M829 102h32M829 110h24M829 118h24M829 126h24M837 134h16M845 142h8M853 158h8M853 174h16M853 182h16M853 190h16M749 198h24M853 198h16M741 206h8M853 206h16M733 214h16M853 214h24M733 222h16M781 222h8M853 222h24M733 230h16M781 230h8M853 230h24M733 238h16M845 238h24M733 246h8M797 246h8M837 246h16M725 254h8M797 254h8M837 254h8M717 262h8M789 262h8M829 262h8M685 270h24M789 270h8M821 270h8M669 278h40M781 278h8M821 278h8M653 286h56M653 294h48M773 294h8M829 294h8M661 302h40M765 302h8M661 310h40M821 310h8M669 318h32M757 318h8M669 326h32M741 326h8M677 334h16M733 334h16M677 342h16M733 342h16M685 350h8M733 350h16M693 358h8M733 358h16M701 366h40M829 366h8M717 374h24M829 374h8M829 382h8M829 390h24M829 398h24M829 406h32M829 414h32M837 422h32M837 430h40M837 438h32M837 446h16M837 454h16"/><path stroke="#0f6" d="M869 86h16M861 94h32M861 102h16M853 110h16M853 118h16M853 126h8M853 134h8M853 142h8M853 150h8M861 166h8M869 182h8M869 190h8M869 198h16M749 206h8M773 206h8M869 206h16M749 214h16M773 214h8M877 214h16M749 222h32M877 222h16M749 230h32M877 230h24M749 238h8M781 238h16M869 238h24M741 246h8M781 246h16M853 246h24M733 254h16M781 254h16M845 254h8M725 262h8M781 262h8M837 262h8M709 270h8M781 270h8M829 270h8M709 278h8M773 278h8M829 278h8M709 286h8M773 286h8M829 286h8M701 294h16M765 294h8M701 302h24M757 302h8M701 310h64M701 318h56M821 318h8M701 326h40M821 326h8M693 334h40M693 342h40M693 350h40M701 358h32M837 374h8M837 382h8M869 438h16M853 446h16"/><path stroke="#0f7" d="M877 102h32M869 110h40M869 118h32M861 126h32M861 134h24M861 142h16M861 150h16M861 158h8M869 166h8M869 174h8M877 190h8M885 198h8M757 206h16M885 206h8M765 214h8M893 214h8M893 222h8M757 238h24M893 238h8M749 246h32M877 246h32M765 254h16M853 254h40M733 262h16M773 262h8M717 270h16M773 270h8M837 270h8M717 278h16M765 278h8M717 286h24M765 286h8M717 294h48M725 302h32M829 302h8M821 334h8M821 342h8M829 350h8M829 358h8M837 366h8M845 382h8M853 390h8M853 398h16M861 406h16M861 414h16M869 422h16M877 430h16"/><path stroke="#0f8" d="M909 110h8M901 118h24M893 126h24M885 134h24M877 142h24M877 150h16M869 158h16M877 166h8M877 174h8M877 182h8M749 254h16M893 254h16M749 262h24M845 262h48M733 270h16M757 270h16M733 278h16M757 278h8M741 286h24M829 310h8M829 318h8M829 334h8M829 342h8M837 350h8M837 358h16M845 366h8M845 374h16M853 382h8M861 390h8M869 398h8M877 406h8M877 414h16M885 422h16M893 430h8"/><path stroke="#0f1" d="M621 126h8M613 134h24M613 142h32M605 150h48M597 158h64M597 166h72M589 174h80M589 182h72M589 190h64M605 198h48M629 206h8M789 302h8M781 310h24M781 318h24M781 326h8M741 398h64M741 406h64M733 414h24M797 414h16M733 422h24M797 422h16M733 430h16M805 430h8M725 438h24M805 438h8M725 446h16M813 446h8M717 454h24M813 454h8M725 462h8M813 462h8"/><path stroke="#0f9" d="M917 126h16M909 134h32M901 142h40M893 150h40M885 158h32M885 166h16M885 174h8M885 182h8M885 190h8M901 230h8M901 238h8M893 262h16M749 270h8M749 278h8M837 278h8M837 286h8M837 294h8M829 326h8M837 342h8M845 350h16M853 358h16M853 366h16M861 374h8M861 382h16M869 390h16M877 398h8M885 406h8M893 414h8"/><path stroke="#0fa" d="M933 150h16M917 158h40M901 166h32M893 174h24M893 182h16M893 190h8M893 198h8M893 206h8M901 214h8M901 222h8M909 238h8M909 246h8M845 270h8M837 302h8M837 310h8M837 334h8M845 342h16M861 350h16M869 358h8M869 366h8M869 374h16M877 382h8M885 390h8M885 398h8M893 406h8M901 422h8"/><path stroke="#0fb" d="M933 166h24M917 174h32M909 182h32M901 190h32M901 198h24M901 206h16M909 214h8M909 222h8M909 230h8M909 254h8M909 262h8M845 278h8M845 286h8M845 294h8M837 318h8M837 326h8M845 334h8M861 342h8M877 342h16M877 350h16M877 358h24M877 366h24M885 374h8M885 382h16M893 390h8M893 398h8M901 406h8M901 414h16"/><path stroke="#0fc" d="M949 174h16M941 182h24M933 190h40M925 198h40M917 206h40M917 214h24M917 222h16M917 230h16M917 238h8M917 246h8M917 254h8M917 262h8M853 270h48M853 278h8M845 302h8M845 310h8M845 318h8M845 326h16M853 334h16M885 334h8M869 342h8M893 342h8M893 350h16M901 358h16M901 366h16M893 374h32M901 382h24M901 390h24M901 398h32M909 406h16"/><path stroke="#0fd" d="M965 198h8M957 206h16M941 214h40M933 222h48M933 230h48M925 238h48M925 246h32M925 254h16M925 262h8M901 270h24M861 278h56M853 286h56M853 294h16M853 302h8M853 310h8M853 318h16M861 326h16M869 334h16M893 334h8M901 342h16M909 350h16M917 358h16M917 366h32M925 374h24M925 382h24M925 390h16"/><path stroke="#0fe" d="M973 238h8M957 246h24M941 254h40M933 262h48M925 270h56M917 278h64M909 286h72M869 294h112M861 302h120M861 310h48M965 310h16M869 318h40M877 326h32M901 334h16M917 342h16M925 350h16M933 358h24M949 366h8"/><path stroke="#0ff" d="M909 310h56M909 318h64M909 326h64M917 334h56M933 342h32M941 350h24"/><path stroke="#0f0" d="M757 414h40M757 422h40M749 430h56M749 438h56M741 446h72M741 454h72M733 462h80"/></g></g></g>
<clipPath id="ccB1"><circle cx="777.40" cy="262.90" r="32.40"/></clipPath><g clip-path="url(#ccB1)"><g filter="url(#bl2)"><path fill="#00ff2d" d="M777.4 262.9L812.8 263.3L812.7 260.7Z"/><path fill="#00ff34" d="M777.4 262.9L812.8 261.4L812.6 258.8Z"/><path fill="#00ff3c" d="M777.4 262.9L812.6 259.6L812.3 257.0Z"/><path fill="#00ff43" d="M777.4 262.9L812.4 257.7L811.9 255.2Z"/><path fill="#00ff4a" d="M777.4 262.9L812.1 255.9L811.5 253.4Z"/><path fill="#00ff52" d="M777.4 262.9L811.7 254.1L811.0 251.6Z"/><path fill="#00ff59" d="M777.4 262.9L811.2 252.3L810.3 249.9Z"/><path fill="#00ff61" d="M777.4 262.9L810.6 250.6L809.6 248.2Z"/><path fill="#00ff68" d="M777.4 262.9L809.9 248.8L808.8 246.5Z"/><path fill="#00ff70" d="M777.4 262.9L809.1 247.2L807.9 244.9Z"/><path fill="#00ff77" d="M777.4 262.9L808.2 245.5L806.9 243.3Z"/><path fill="#00ff7f" d="M777.4 262.9L807.3 243.9L805.8 241.8Z"/><path fill="#00ff86" d="M777.4 262.9L806.3 242.4L804.7 240.3Z"/><path fill="#00ff8e" d="M777.4 262.9L805.1 240.9L803.5 238.9Z"/><path fill="#00ff95" d="M777.4 262.9L804.0 239.5L802.2 237.6Z"/><path fill="#00ff9a" d="M777.4 262.9L802.7 238.1L800.8 236.3Z"/><path fill="#00ff9b" d="M777.4 262.9L801.4 236.8L799.4 235.2Z"/><path fill="#00ff9c" d="M777.4 262.9L800.0 235.6L797.9 234.0Z"/><path fill="#00ff9e" d="M777.4 262.9L798.5 234.5L796.4 233.0Z"/><path fill="#00ff9f" d="M777.4 262.9L797.0 233.4L794.8 232.1Z"/><path fill="#00ffa0" d="M777.4 262.9L795.4 232.4L793.1 231.2Z"/><path fill="#00ffa2" d="M777.4 262.9L793.8 231.5L791.5 230.4Z"/><path fill="#00ffa3" d="M777.4 262.9L792.1 230.7L789.7 229.7Z"/><path fill="#00ffa5" d="M777.4 262.9L790.4 230.0L788.0 229.1Z"/><path fill="#00ffa6" d="M777.4 262.9L788.7 229.3L786.2 228.6Z"/><path fill="#00ffa7" d="M777.4 262.9L786.9 228.8L784.4 228.2Z"/><path fill="#00ffa9" d="M777.4 262.9L785.1 228.4L782.6 227.9Z"/><path fill="#00ffaa" d="M777.4 262.9L783.3 228.0L780.7 227.7Z"/><path fill="#00ffab" d="M777.4 262.9L781.5 227.7L778.9 227.5Z"/><path fill="#00ffad" d="M777.4 262.9L779.6 227.6L777.0 227.5Z"/><path fill="#00ffaa" d="M777.4 262.9L777.8 227.5L775.2 227.6Z"/><path fill="#00ffa4" d="M777.4 262.9L775.9 227.5L773.3 227.7Z"/><path fill="#00ff9e" d="M777.4 262.9L774.1 227.7L771.5 228.0Z"/><path fill="#00ff98" d="M777.4 262.9L772.2 227.9L769.7 228.4Z"/><path fill="#00ff92" d="M777.4 262.9L770.4 228.2L767.9 228.8Z"/><path fill="#00ff8c" d="M777.4 262.9L768.6 228.6L766.1 229.3Z"/><path fill="#00ff86" d="M777.4 262.9L766.8 229.1L764.4 230.0Z"/><path fill="#00ff80" d="M777.4 262.9L765.1 229.7L762.7 230.7Z"/><path fill="#00ff79" d="M777.4 262.9L763.3 230.4L761.0 231.5Z"/><path fill="#00ff73" d="M777.4 262.9L761.7 231.2L759.4 232.4Z"/><path fill="#00ff6d" d="M777.4 262.9L760.0 232.1L757.8 233.4Z"/><path fill="#00ff67" d="M777.4 262.9L758.4 233.0L756.3 234.5Z"/><path fill="#00ff61" d="M777.4 262.9L756.9 234.0L754.8 235.6Z"/><path fill="#00ff5b" d="M777.4 262.9L755.4 235.2L753.4 236.8Z"/><path fill="#00ff55" d="M777.4 262.9L754.0 236.3L752.1 238.1Z"/><path fill="#00ff53" d="M777.4 262.9L752.6 237.6L750.8 239.5Z"/><path fill="#00ff56" d="M777.4 262.9L751.3 238.9L749.7 240.9Z"/><path fill="#00ff58" d="M777.4 262.9L750.1 240.3L748.5 242.4Z"/><path fill="#00ff5b" d="M777.4 262.9L749.0 241.8L747.5 243.9Z"/><path fill="#00ff5e" d="M777.4 262.9L747.9 243.3L746.6 245.5Z"/><path fill="#00ff61" d="M777.4 262.9L746.9 244.9L745.7 247.2Z"/><path fill="#00ff63" d="M777.4 262.9L746.0 246.5L744.9 248.8Z"/><path fill="#00ff66" d="M777.4 262.9L745.2 248.2L744.2 250.6Z"/><path fill="#00ff69" d="M777.4 262.9L744.5 249.9L743.6 252.3Z"/><path fill="#00ff6b" d="M777.4 262.9L743.8 251.6L743.1 254.1Z"/><path fill="#00ff6e" d="M777.4 262.9L743.3 253.4L742.7 255.9Z"/><path fill="#00ff71" d="M777.4 262.9L742.9 255.2L742.4 257.7Z"/><path fill="#00ff74" d="M777.4 262.9L742.5 257.0L742.2 259.6Z"/><path fill="#00ff76" d="M777.4 262.9L742.2 258.8L742.0 261.4Z"/><path fill="#00ff79" d="M777.4 262.9L742.1 260.7L742.0 263.3Z"/><path fill="#00ff7e" d="M777.4 262.9L742.0 262.5L742.1 265.1Z"/><path fill="#00ff87" d="M777.4 262.9L742.0 264.4L742.2 267.0Z"/><path fill="#00ff8f" d="M777.4 262.9L742.2 266.2L742.5 268.8Z"/><path fill="#00ff97" d="M777.4 262.9L742.4 268.1L742.9 270.6Z"/><path fill="#00ff9f" d="M777.4 262.9L742.7 269.9L743.3 272.4Z"/><path fill="#00ffa7" d="M777.4 262.9L743.1 271.7L743.8 274.2Z"/><path fill="#00ffaf" d="M777.4 262.9L743.6 273.5L744.5 275.9Z"/><path fill="#00ffb8" d="M777.4 262.9L744.2 275.2L745.2 277.6Z"/><path fill="#00ffc0" d="M777.4 262.9L744.9 277.0L746.0 279.3Z"/><path fill="#00ffc8" d="M777.4 262.9L745.7 278.6L746.9 280.9Z"/><path fill="#00ffd0" d="M777.4 262.9L746.6 280.3L747.9 282.5Z"/><path fill="#00ffd8" d="M777.4 262.9L747.5 281.9L749.0 284.0Z"/><path fill="#00ffe0" d="M777.4 262.9L748.5 283.4L750.1 285.5Z"/><path fill="#00ffe9" d="M777.4 262.9L749.7 284.9L751.3 286.9Z"/><path fill="#00fff1" d="M777.4 262.9L750.8 286.3L752.6 288.2Z"/><path fill="#00ffef" d="M777.4 262.9L752.1 287.7L754.0 289.5Z"/><path fill="#00ffe2" d="M777.4 262.9L753.4 289.0L755.4 290.6Z"/><path fill="#00ffd6" d="M777.4 262.9L754.8 290.2L756.9 291.8Z"/><path fill="#00ffca" d="M777.4 262.9L756.3 291.3L758.4 292.8Z"/><path fill="#00ffbe" d="M777.4 262.9L757.8 292.4L760.0 293.7Z"/><path fill="#00ffb1" d="M777.4 262.9L759.4 293.4L761.7 294.6Z"/><path fill="#00ffa5" d="M777.4 262.9L761.0 294.3L763.3 295.4Z"/><path fill="#00ff99" d="M777.4 262.9L762.7 295.1L765.1 296.1Z"/><path fill="#00ff8b" d="M777.4 262.9L764.4 295.8L766.8 296.7Z"/><path fill="#00ff72" d="M777.4 262.9L766.1 296.5L768.6 297.2Z"/><path fill="#00ff5a" d="M777.4 262.9L767.9 297.0L770.4 297.6Z"/><path fill="#00ff41" d="M777.4 262.9L769.7 297.4L772.2 297.9Z"/><path fill="#00ff29" d="M777.4 262.9L771.5 297.8L774.1 298.1Z"/><path fill="#00ff10" d="M777.4 262.9L773.3 298.1L775.9 298.3Z"/><path fill="#08ff00" d="M777.4 262.9L775.2 298.2L777.8 298.3Z"/><path fill="#13ff00" d="M777.4 262.9L777.0 298.3L779.6 298.2Z"/><path fill="#10ff00" d="M777.4 262.9L778.9 298.3L781.5 298.1Z"/><path fill="#0eff00" d="M777.4 262.9L780.7 298.1L783.3 297.8Z"/><path fill="#0bff00" d="M777.4 262.9L782.6 297.9L785.1 297.4Z"/><path fill="#08ff00" d="M777.4 262.9L784.4 297.6L786.9 297.0Z"/><path fill="#05ff00" d="M777.4 262.9L786.2 297.2L788.7 296.5Z"/><path fill="#03ff00" d="M777.4 262.9L788.0 296.7L790.4 295.8Z"/><path fill="#00ff00" d="M777.4 262.9L789.7 296.1L792.1 295.1Z"/><path fill="#00ff03" d="M777.4 262.9L791.5 295.4L793.8 294.3Z"/><path fill="#00ff05" d="M777.4 262.9L793.1 294.6L795.4 293.4Z"/><path fill="#00ff08" d="M777.4 262.9L794.8 293.7L797.0 292.4Z"/><path fill="#00ff0b" d="M777.4 262.9L796.4 292.8L798.5 291.3Z"/><path fill="#00ff0e" d="M777.4 262.9L797.9 291.8L800.0 290.2Z"/><path fill="#00ff10" d="M777.4 262.9L799.4 290.6L801.4 289.0Z"/><path fill="#00ff13" d="M777.4 262.9L800.8 289.5L802.7 287.7Z"/><path fill="#00ff15" d="M777.4 262.9L802.2 288.2L804.0 286.3Z"/><path fill="#00ff16" d="M777.4 262.9L803.5 286.9L805.1 284.9Z"/><path fill="#00ff18" d="M777.4 262.9L804.7 285.5L806.3 283.4Z"/><path fill="#00ff19" d="M777.4 262.9L805.8 284.0L807.3 281.9Z"/><path fill="#00ff1b" d="M777.4 262.9L806.9 282.5L808.2 280.3Z"/><path fill="#00ff1c" d="M777.4 262.9L807.9 280.9L809.1 278.6Z"/><path fill="#00ff1d" d="M777.4 262.9L808.8 279.3L809.9 277.0Z"/><path fill="#00ff1f" d="M777.4 262.9L809.6 277.6L810.6 275.2Z"/><path fill="#00ff20" d="M777.4 262.9L810.3 275.9L811.2 273.5Z"/><path fill="#00ff21" d="M777.4 262.9L811.0 274.2L811.7 271.7Z"/><path fill="#00ff23" d="M777.4 262.9L811.5 272.4L812.1 269.9Z"/><path fill="#00ff24" d="M777.4 262.9L811.9 270.6L812.4 268.1Z"/><path fill="#00ff25" d="M777.4 262.9L812.3 268.8L812.6 266.2Z"/><path fill="#00ff27" d="M777.4 262.9L812.6 267.0L812.8 264.4Z"/><path fill="#00ff28" d="M777.4 262.9L812.7 265.1L812.8 262.5Z"/></g></g>
<g fill="none" stroke="#ffff00" stroke-width="3.4"><circle cx="777.40" cy="262.90" r="194.40"/><circle cx="777.40" cy="262.90" r="129.60"/><circle cx="777.40" cy="262.90" r="64.80"/><circle cx="777.40" cy="262.90" r="32.40"/><path d="M583.00 262.90H745.00M809.80 262.90H971.80M777.40 198.10V230.50M777.40 295.30V327.70M809.80 206.78L874.60 94.54M745.00 206.78L680.20 94.54M745.00 319.02L680.20 431.26M809.80 319.02L874.60 431.26"/></g>
<g font-family="Liberation Sans, Arial, sans-serif" font-weight="bold" font-size="23.5" fill="#000" text-anchor="middle"><text transform="translate(777.4 108.5) scale(0.87 1)">1290</text><text transform="translate(637.1 189.5) scale(0.87 1)">1378</text><text transform="translate(917.7 189.5) scale(0.87 1)">876</text><text transform="translate(637.1 351.5) scale(0.87 1)">1178</text><text transform="translate(917.7 351.5) scale(0.87 1)">534</text><text transform="translate(777.4 432.5) scale(0.87 1)">1501</text><text transform="translate(777.4 173.3) scale(0.87 1)">1430</text><text transform="translate(693.2 221.9) scale(0.87 1)">1201</text><text transform="translate(861.6 221.9) scale(0.87 1)">1318</text><text transform="translate(693.2 319.1) scale(0.87 1)">1094</text><text transform="translate(861.6 319.1) scale(0.87 1)">448</text><text transform="translate(777.4 367.7) scale(0.87 1)">1082</text><text transform="translate(743.0 236.1) scale(0.87 1)">1183</text><text transform="translate(811.8 236.1) scale(0.87 1)">1027</text><text transform="translate(743.0 304.9) scale(0.87 1)">1044</text><text transform="translate(811.8 304.9) scale(0.87 1)">1366</text><text transform="translate(777.4 270.5) scale(0.87 1)">1155</text></g>
<g font-family="Liberation Sans, Arial, sans-serif" font-size="23.5" fill="#ececec" text-anchor="middle" stroke="#000" stroke-width="3" paint-order="stroke"><text transform="translate(777.4 52.1) scale(0.88 1)">ANT_SEPT</text><text transform="translate(777.9 490.6) scale(0.88 1)">POST</text><text transform="translate(589.1 162.7) scale(0.88 1)">SEPT</text><text transform="translate(966.2 162.7) scale(0.88 1)">ANT</text><text transform="translate(587.4 381.9) scale(0.88 1)">INF</text><text transform="translate(966.2 381.7) scale(0.88 1)">LAT</text></g>
<g fill="none"><clipPath id="cC1"><circle cx="1231.00" cy="260.80" r="195.00"/></clipPath><g clip-path="url(#cC1)"><g filter="url(#bl)" stroke-width="9"><path stroke="#0bf" d="M1186 59h8M1178 67h16M1138 75h8M1186 75h24M1122 83h24M1194 83h64M1122 91h32M1210 91h56M1138 99h16M1258 99h8M1146 107h8M1266 107h8M1146 115h8M1266 115h16M1274 123h8M1274 131h16M1154 139h8M1282 139h8M1058 147h32M1146 147h8M1050 155h56M1050 163h40M1042 171h40M1042 179h40M1034 187h48M1034 195h40M1034 203h40M1034 211h40M1026 219h48M1026 227h48M1266 227h8M1026 235h40M1026 243h40M1258 243h8M1026 251h40M1034 259h24M1258 267h8M1250 275h8M1242 283h8M1234 291h8M1218 299h8M1178 307h8M1210 307h8M1034 315h32M1162 315h24M1194 315h16M1034 323h40M1154 323h16M1034 331h48M1146 331h16M1042 339h40M1146 339h8M1042 347h40M1138 347h8M1050 355h40M1114 355h24M1050 363h64M1058 371h40M1058 379h16"/><path stroke="#0cf" d="M1194 59h80M1194 67h80M1210 75h64M1258 83h16M1114 91h8M1266 91h16M1098 99h16M1266 99h16M1138 107h8M1274 107h16M1282 115h8M1074 123h16M1146 123h8M1282 123h16M1066 131h40M1146 131h8M1290 131h8M1066 139h88M1290 139h8M1090 147h56M1290 147h8M1274 219h8M1274 227h8M1266 235h8M1258 251h8M1226 299h8M1218 307h8M1186 315h8M1210 315h8M1170 323h24M1162 331h16M1154 339h16M1146 347h16M1138 355h16M1114 363h24M1098 371h24M1074 379h24M1066 387h16"/><path stroke="#0af" d="M1162 67h16M1146 75h40M1146 83h48M1154 91h56M1154 99h24M1210 99h48M1154 107h16M1242 107h24M1154 115h8M1258 115h8M1154 123h8M1258 123h16M1266 131h8M1274 139h8M1106 155h40M1090 163h16M1082 171h16M1082 179h8M1082 187h8M1074 195h16M1074 203h8M1074 211h8M1266 211h8M1074 219h8M1266 219h8M1074 227h8M1066 235h16M1258 235h8M1066 243h16M1066 251h16M1026 259h8M1058 259h24M1258 259h8M1026 267h48M1250 267h8M1026 275h48M1242 275h8M1026 283h56M1234 283h8M1026 291h56M1226 291h8M1026 299h64M1210 299h8M1026 307h64M1154 307h24M1194 307h16M1066 315h32M1146 315h16M1074 323h24M1138 323h16M1082 331h16M1130 331h16M1082 339h24M1130 339h16M1082 347h56M1090 355h24"/><path stroke="#0df" d="M1274 67h32M1274 75h48M1274 83h40M1282 91h32M1114 99h24M1282 99h24M1090 107h48M1290 107h16M1082 115h64M1290 115h16M1090 123h56M1298 123h8M1106 131h40M1298 131h8M1290 155h8M1290 163h8M1282 171h8M1274 187h8M1266 195h8M1266 203h8M1274 235h8M1266 243h8M1266 251h8M1250 283h8M1226 307h8M1218 315h8M1178 331h16M1170 339h16M1162 347h16M1154 355h16M1138 363h24M1122 371h24M1098 379h40M1082 387h40M1074 395h24"/><path stroke="#0ef" d="M1314 83h24M1314 91h16M1306 99h16M1306 107h16M1306 115h8M1306 123h8M1290 171h8M1282 179h8M1282 187h8M1274 195h8M1274 203h8M1274 211h8M1282 227h8M1274 243h8M1266 259h8M1210 323h8M1170 355h8M1162 363h8M1146 371h24M1138 379h16M1122 387h32M1098 395h48M1082 403h64M1090 411h48M1098 419h40M1106 427h32"/><path stroke="#0fe" d="M1330 91h8M1322 99h40M1322 107h16M1314 115h16M1298 139h8M1298 171h8M1290 187h8M1290 195h8M1282 211h8M1282 219h8M1282 251h8M1274 259h8M1242 291h8M1234 307h8M1202 323h8M1226 323h8M1194 331h8M1186 339h8M1178 347h8M1170 363h8M1138 443h8"/><path stroke="#0ff" d="M1338 91h8M1298 155h8M1298 163h8M1290 179h8M1282 195h8M1282 203h8M1282 235h8M1282 243h8M1274 251h8M1234 299h8M1226 315h8M1194 323h8M1218 323h8M1154 379h8M1154 387h8M1146 395h8M1138 411h8M1122 435h16M1130 443h8"/><path stroke="#09f" d="M1178 99h32M1170 107h16M1202 107h40M1162 115h16M1226 115h32M1162 123h8M1250 123h8M1154 131h8M1250 131h16M1154 147h8M1146 155h8M1106 163h16M1098 171h8M1090 179h8M1090 187h8M1082 203h8M1082 211h8M1082 219h8M1258 219h8M1082 227h16M1258 227h8M1082 235h16M1250 235h8M1082 243h16M1082 251h16M1082 259h8M1250 259h8M1074 267h16M1074 275h24M1234 275h8M1082 283h16M1226 283h8M1082 291h24M1210 291h16M1090 299h16M1146 299h32M1194 299h16M1090 307h16M1130 307h24M1186 307h8M1098 315h48M1098 323h40M1098 331h32M1106 339h24"/><path stroke="#08f" d="M1186 107h16M1178 115h48M1170 123h16M1218 123h32M1162 131h8M1242 131h8M1282 147h8M1122 163h16M1282 163h8M1106 171h8M1098 179h8M1274 179h8M1098 187h8M1266 187h8M1090 195h8M1258 195h8M1090 203h8M1258 203h8M1090 211h8M1258 211h8M1090 219h16M1250 219h8M1098 227h8M1250 227h8M1098 235h8M1098 243h8M1250 251h8M1090 259h8M1090 267h8M1242 267h8M1226 275h8M1098 283h8M1218 283h8M1138 291h32M1194 291h16M1114 299h32M1178 299h16M1106 307h24"/><path stroke="#0fd" d="M1338 107h32M1330 115h24M1314 123h32M1306 131h24M1306 139h8M1298 147h8M1306 163h8M1298 179h8M1290 203h8M1290 211h8M1290 251h8M1282 259h16M1242 299h8M1242 307h8M1234 315h8M1202 331h8M1194 339h8M1186 347h8M1178 355h16M1178 363h8M1170 371h16M1162 379h8M1162 387h8M1154 395h8M1146 403h16M1146 411h16M1138 419h24M1138 427h24M1138 435h24M1146 443h16M1146 451h16"/><path stroke="#0fc" d="M1354 115h24M1346 123h24M1330 131h32M1314 139h32M1306 147h16M1306 155h8M1306 171h8M1298 187h8M1290 219h8M1290 227h8M1290 235h8M1290 243h8M1266 267h8M1258 275h8M1258 283h8M1250 291h8M1250 299h8M1250 307h8M1242 315h16M1234 323h16M1202 339h8M1194 347h8M1194 355h8M1186 363h8M1186 371h8M1170 379h16M1170 387h8M1162 395h16M1162 403h16M1162 411h24M1162 419h24M1162 427h24M1162 435h16M1162 443h16M1162 451h16"/><path stroke="#07f" d="M1186 123h32M1170 131h56M1162 139h16M1274 147h8M1282 155h8M1138 163h8M1114 171h8M1274 171h8M1106 179h8M1266 179h8M1258 187h8M1098 195h8M1098 203h8M1250 203h8M1098 211h8M1242 211h16M1242 219h8M1242 227h8M1250 243h8M1242 251h8M1234 259h16M1226 267h16M1218 275h8M1122 283h48M1194 283h24M1106 291h32M1178 291h16M1106 299h8"/><path stroke="#0fb" d="M1370 123h16M1362 131h32M1346 139h40M1322 147h48M1314 155h16M1306 179h8M1298 195h8M1298 203h8M1298 211h8M1274 267h8M1266 275h8M1258 291h8M1258 299h8M1258 307h8M1258 315h8M1210 331h8M1202 347h8M1194 363h8M1194 371h8M1186 379h8M1178 387h16M1178 395h16M1178 403h16M1186 411h8M1186 419h8M1186 427h8M1178 435h8M1178 443h8M1170 459h8"/><path stroke="#04f" d="M1226 131h16M1186 139h64M1170 147h16M1242 147h16M1162 155h8M1250 155h8M1146 163h16M1250 163h8M1138 171h16M1250 171h8M1130 179h24M1250 179h8M1130 187h32M1242 187h8M1130 195h32M1234 195h8M1122 203h40M1114 211h40M1114 219h32M1226 219h8M1114 227h24M1226 227h8M1114 235h16M1218 235h16M1114 243h16M1218 243h8M1114 251h16M1210 251h16M1122 259h16M1202 259h8M1162 267h8"/><path stroke="#06f" d="M1178 139h8M1266 139h8M1162 147h8M1266 147h8M1274 155h8M1266 163h16M1122 171h16M1266 171h8M1114 179h8M1258 179h8M1106 187h8M1106 195h8M1250 195h8M1106 203h8M1234 203h16M1106 211h8M1234 211h8M1234 219h8M1234 227h8M1242 235h8M1242 243h8M1234 251h8M1098 259h8M1226 259h8M1098 267h48M1218 267h8M1098 275h72M1186 275h32M1106 283h16M1170 283h24M1170 291h8"/><path stroke="#05f" d="M1250 139h16M1258 147h8M1154 155h8M1258 155h16M1258 163h8M1258 171h8M1122 179h8M1114 187h16M1250 187h8M1114 195h16M1242 195h8M1114 203h8M1106 219h8M1106 227h8M1106 235h8M1234 235h8M1106 243h8M1226 243h16M1098 251h16M1226 251h8M1106 259h16M1210 259h16M1146 267h16M1170 267h48M1170 275h16"/><path stroke="#0fa" d="M1386 139h16M1370 147h24M1330 155h48M1314 163h16M1306 187h8M1298 219h8M1298 227h8M1298 235h8M1298 243h8M1298 251h8M1282 267h8M1274 275h8M1266 283h8M1266 291h8M1266 299h8M1266 307h8M1218 331h16M1210 339h8M1210 347h8M1202 355h8M1202 363h8M1194 379h8M1194 387h8M1194 395h24M1194 403h16M1194 411h16M1194 419h8M1194 427h8M1186 435h8M1186 443h8M1178 451h8M1178 459h8"/><path stroke="#03f" d="M1186 147h56M1170 155h80M1162 163h48M1226 163h24M1154 171h32M1234 171h16M1154 179h24M1234 179h16M1162 187h16M1226 187h16M1162 195h16M1226 195h8M1162 203h16M1218 203h16M1154 211h24M1218 211h16M1146 219h24M1218 219h8M1138 227h24M1218 227h8M1130 235h16M1210 235h8M1130 243h16M1202 243h16M1130 251h16M1202 251h8M1138 259h8M1178 259h24"/><path stroke="#0f9" d="M1394 147h8M1378 155h16M1330 163h48M1314 171h24M1346 171h8M1306 195h8M1306 203h8M1298 259h8M1290 267h8M1282 275h8M1274 283h8M1274 291h8M1274 299h8M1250 323h8M1234 331h16M1218 339h16M1210 355h8M1210 363h8M1202 371h8M1202 379h8M1202 387h8M1218 395h8M1210 403h16M1210 411h16M1202 419h24M1202 427h16M1194 435h24M1194 443h16M1186 451h16M1186 459h16"/><path stroke="#0f8" d="M1394 155h8M1378 163h16M1338 171h8M1354 171h24M1314 179h8M1330 179h24M1306 211h8M1306 219h8M1306 227h8M1306 235h8M1306 243h8M1306 251h8M1290 275h8M1282 283h8M1282 291h8M1258 323h8M1250 331h8M1234 339h16M1218 347h16M1218 355h8M1218 363h8M1210 371h8M1210 379h8M1210 387h16M1226 395h16M1226 403h24M1226 411h24M1226 419h32M1218 427h40M1218 435h48M1210 443h56M1202 451h72M1202 459h72M1210 467h40"/><path stroke="#0f7" d="M1402 155h8M1394 163h16M1378 171h16M1322 179h8M1354 179h32M1314 187h8M1338 187h8M1314 195h8M1314 203h8M1314 211h8M1314 219h8M1306 259h8M1258 331h8M1250 339h8M1234 347h16M1226 355h16M1226 363h8M1218 371h16M1218 379h16M1226 387h8M1242 395h24M1250 403h24M1250 411h24M1258 419h16M1258 427h24M1266 435h16M1266 443h16M1274 451h8M1274 459h16"/><path stroke="#02f" d="M1210 163h16M1186 171h48M1178 179h56M1178 187h48M1178 195h48M1178 203h40M1178 211h40M1170 219h48M1162 227h56M1146 235h64M1146 243h56M1146 251h56M1146 259h32"/><path stroke="#0f6" d="M1394 171h24M1386 179h32M1322 187h8M1346 187h72M1314 227h8M1314 235h8M1314 243h8M1298 267h8M1274 307h8M1266 315h8M1266 323h8M1266 331h8M1258 339h8M1250 347h8M1242 355h8M1234 363h16M1234 371h8M1234 379h8M1234 387h16M1266 387h16M1266 395h24M1274 403h16M1274 411h24M1274 419h24M1282 427h16M1282 435h16M1282 443h24M1282 451h16"/><path stroke="#0f5" d="M1330 187h8M1418 187h8M1322 195h8M1346 195h80M1322 203h8M1370 203h40M1322 211h8M1322 219h8M1322 227h8M1314 251h8M1314 259h8M1282 299h8M1274 315h8M1274 323h8M1266 339h8M1258 347h8M1250 355h8M1250 363h8M1242 371h16M1242 379h16M1282 379h8M1250 387h16M1282 387h24M1290 395h16M1290 403h24M1298 411h16M1298 419h24M1298 427h32M1298 435h32M1306 443h16M1298 451h16"/><path stroke="#0f4" d="M1330 195h16M1330 203h8M1346 203h24M1410 203h16M1330 211h8M1370 211h48M1330 219h8M1322 235h8M1322 243h8M1306 267h8M1298 275h8M1290 283h8M1290 291h8M1282 307h8M1282 315h8M1282 323h8M1274 331h8M1266 347h8M1258 355h8M1258 363h8M1258 371h8M1258 379h16M1290 379h8M1330 435h8M1322 443h8"/><path stroke="#0f3" d="M1338 203h8M1338 211h32M1418 211h16M1338 219h8M1362 219h72M1330 227h8M1378 227h56M1330 235h8M1402 235h16M1322 251h8M1314 267h8M1306 275h8M1298 283h8M1290 299h8M1290 307h8M1290 315h8M1282 331h8M1274 339h8M1274 347h8M1266 355h16M1266 363h16M1266 371h24M1274 379h8M1298 379h8M1306 387h8M1306 395h16M1314 403h8M1314 411h16M1322 419h8M1330 427h24M1338 435h8"/><path stroke="#0f2" d="M1346 219h16M1338 227h40M1338 235h8M1362 235h40M1418 235h16M1330 243h8M1362 243h72M1330 251h8M1362 251h72M1322 259h8M1370 259h64M1322 267h8M1314 275h8M1306 283h8M1298 291h8M1298 299h8M1298 307h8M1298 315h8M1290 323h16M1290 331h8M1282 339h8M1282 347h8M1282 363h8M1322 363h16M1290 371h64M1306 379h56M1314 387h56M1322 395h56M1322 403h56M1330 411h40M1330 419h32"/><path stroke="#0f1" d="M1346 235h16M1338 243h24M1338 251h24M1330 259h40M1330 267h104M1322 275h16M1354 275h80M1314 283h16M1362 283h40M1306 291h24M1362 291h16M1306 299h16M1362 299h8M1306 307h16M1354 307h16M1306 315h16M1346 315h32M1306 323h16M1346 323h40M1298 331h16M1338 331h56M1290 339h24M1338 339h64M1290 347h16M1330 347h80M1282 355h24M1322 355h96M1290 363h32M1338 363h72M1354 371h56M1362 379h40M1370 387h24M1378 395h8"/><path stroke="#0f0" d="M1338 275h16M1330 283h32M1402 283h32M1330 291h32M1378 291h56M1322 299h40M1370 299h64M1322 307h32M1370 307h64M1322 315h24M1378 315h56M1322 323h24M1386 323h40M1314 331h24M1394 331h32M1314 339h24M1402 339h24M1306 347h24M1410 347h8M1306 355h16"/></g></g></g>
<clipPath id="ccC1"><circle cx="1231.00" cy="260.80" r="32.50"/></clipPath><g clip-path="url(#ccC1)"><g filter="url(#bl2)"><path fill="#00aaff" d="M1231.0 260.8L1266.5 261.2L1266.4 258.6Z"/><path fill="#00a3ff" d="M1231.0 260.8L1266.5 259.3L1266.3 256.7Z"/><path fill="#009cff" d="M1231.0 260.8L1266.3 257.5L1266.0 254.9Z"/><path fill="#0094ff" d="M1231.0 260.8L1266.1 255.6L1265.6 253.1Z"/><path fill="#008dff" d="M1231.0 260.8L1265.8 253.8L1265.2 251.3Z"/><path fill="#0086ff" d="M1231.0 260.8L1265.4 252.0L1264.6 249.5Z"/><path fill="#007fff" d="M1231.0 260.8L1264.9 250.2L1264.0 247.7Z"/><path fill="#0078ff" d="M1231.0 260.8L1264.3 248.4L1263.3 246.0Z"/><path fill="#0071ff" d="M1231.0 260.8L1263.6 246.7L1262.5 244.4Z"/><path fill="#006aff" d="M1231.0 260.8L1262.8 245.0L1261.6 242.7Z"/><path fill="#0064ff" d="M1231.0 260.8L1261.9 243.4L1260.6 241.2Z"/><path fill="#0060ff" d="M1231.0 260.8L1261.0 241.8L1259.5 239.6Z"/><path fill="#005cff" d="M1231.0 260.8L1259.9 240.2L1258.4 238.2Z"/><path fill="#0058ff" d="M1231.0 260.8L1258.8 238.7L1257.1 236.8Z"/><path fill="#0054ff" d="M1231.0 260.8L1257.6 237.3L1255.8 235.4Z"/><path fill="#0050ff" d="M1231.0 260.8L1256.4 236.0L1254.5 234.2Z"/><path fill="#004bff" d="M1231.0 260.8L1255.0 234.7L1253.1 233.0Z"/><path fill="#0047ff" d="M1231.0 260.8L1253.6 233.4L1251.6 231.9Z"/><path fill="#0043ff" d="M1231.0 260.8L1252.2 232.3L1250.0 230.8Z"/><path fill="#003fff" d="M1231.0 260.8L1250.6 231.2L1248.4 229.9Z"/><path fill="#003cff" d="M1231.0 260.8L1249.1 230.2L1246.8 229.0Z"/><path fill="#0039ff" d="M1231.0 260.8L1247.4 229.3L1245.1 228.2Z"/><path fill="#0036ff" d="M1231.0 260.8L1245.8 228.5L1243.4 227.5Z"/><path fill="#0032ff" d="M1231.0 260.8L1244.1 227.8L1241.6 226.9Z"/><path fill="#002fff" d="M1231.0 260.8L1242.3 227.2L1239.8 226.4Z"/><path fill="#002cff" d="M1231.0 260.8L1240.5 226.6L1238.0 226.0Z"/><path fill="#0029ff" d="M1231.0 260.8L1238.7 226.2L1236.2 225.7Z"/><path fill="#0026ff" d="M1231.0 260.8L1236.9 225.8L1234.3 225.5Z"/><path fill="#0023ff" d="M1231.0 260.8L1235.1 225.5L1232.5 225.3Z"/><path fill="#0020ff" d="M1231.0 260.8L1233.2 225.4L1230.6 225.3Z"/><path fill="#001eff" d="M1231.0 260.8L1231.4 225.3L1228.8 225.4Z"/><path fill="#001dff" d="M1231.0 260.8L1229.5 225.3L1226.9 225.5Z"/><path fill="#001bff" d="M1231.0 260.8L1227.7 225.5L1225.1 225.8Z"/><path fill="#001aff" d="M1231.0 260.8L1225.8 225.7L1223.3 226.2Z"/><path fill="#0018ff" d="M1231.0 260.8L1224.0 226.0L1221.5 226.6Z"/><path fill="#0017ff" d="M1231.0 260.8L1222.2 226.4L1219.7 227.2Z"/><path fill="#0016ff" d="M1231.0 260.8L1220.4 226.9L1217.9 227.8Z"/><path fill="#0014ff" d="M1231.0 260.8L1218.6 227.5L1216.2 228.5Z"/><path fill="#0013ff" d="M1231.0 260.8L1216.9 228.2L1214.6 229.3Z"/><path fill="#0012ff" d="M1231.0 260.8L1215.2 229.0L1212.9 230.2Z"/><path fill="#0010ff" d="M1231.0 260.8L1213.6 229.9L1211.4 231.2Z"/><path fill="#000fff" d="M1231.0 260.8L1212.0 230.8L1209.8 232.3Z"/><path fill="#000eff" d="M1231.0 260.8L1210.4 231.9L1208.4 233.4Z"/><path fill="#000cff" d="M1231.0 260.8L1208.9 233.0L1207.0 234.7Z"/><path fill="#000bff" d="M1231.0 260.8L1207.5 234.2L1205.6 236.0Z"/><path fill="#000bff" d="M1231.0 260.8L1206.2 235.4L1204.4 237.3Z"/><path fill="#000cff" d="M1231.0 260.8L1204.9 236.8L1203.2 238.7Z"/><path fill="#000eff" d="M1231.0 260.8L1203.6 238.2L1202.1 240.2Z"/><path fill="#000fff" d="M1231.0 260.8L1202.5 239.6L1201.0 241.8Z"/><path fill="#0010ff" d="M1231.0 260.8L1201.4 241.2L1200.1 243.4Z"/><path fill="#0012ff" d="M1231.0 260.8L1200.4 242.7L1199.2 245.0Z"/><path fill="#0013ff" d="M1231.0 260.8L1199.5 244.4L1198.4 246.7Z"/><path fill="#0014ff" d="M1231.0 260.8L1198.7 246.0L1197.7 248.4Z"/><path fill="#0016ff" d="M1231.0 260.8L1198.0 247.7L1197.1 250.2Z"/><path fill="#0017ff" d="M1231.0 260.8L1197.4 249.5L1196.6 252.0Z"/><path fill="#0018ff" d="M1231.0 260.8L1196.8 251.3L1196.2 253.8Z"/><path fill="#001aff" d="M1231.0 260.8L1196.4 253.1L1195.9 255.6Z"/><path fill="#001bff" d="M1231.0 260.8L1196.0 254.9L1195.7 257.5Z"/><path fill="#001dff" d="M1231.0 260.8L1195.7 256.7L1195.5 259.3Z"/><path fill="#001eff" d="M1231.0 260.8L1195.6 258.6L1195.5 261.2Z"/><path fill="#0020ff" d="M1231.0 260.8L1195.5 260.4L1195.6 263.0Z"/><path fill="#0022ff" d="M1231.0 260.8L1195.5 262.3L1195.7 264.9Z"/><path fill="#0024ff" d="M1231.0 260.8L1195.7 264.1L1196.0 266.7Z"/><path fill="#0026ff" d="M1231.0 260.8L1195.9 266.0L1196.4 268.5Z"/><path fill="#0028ff" d="M1231.0 260.8L1196.2 267.8L1196.8 270.3Z"/><path fill="#002aff" d="M1231.0 260.8L1196.6 269.6L1197.4 272.1Z"/><path fill="#002cff" d="M1231.0 260.8L1197.1 271.4L1198.0 273.9Z"/><path fill="#002eff" d="M1231.0 260.8L1197.7 273.2L1198.7 275.6Z"/><path fill="#0030ff" d="M1231.0 260.8L1198.4 274.9L1199.5 277.2Z"/><path fill="#0032ff" d="M1231.0 260.8L1199.2 276.6L1200.4 278.9Z"/><path fill="#0034ff" d="M1231.0 260.8L1200.1 278.2L1201.4 280.4Z"/><path fill="#0036ff" d="M1231.0 260.8L1201.0 279.8L1202.5 282.0Z"/><path fill="#0038ff" d="M1231.0 260.8L1202.1 281.4L1203.6 283.4Z"/><path fill="#003aff" d="M1231.0 260.8L1203.2 282.9L1204.9 284.8Z"/><path fill="#003cff" d="M1231.0 260.8L1204.4 284.3L1206.2 286.2Z"/><path fill="#0041ff" d="M1231.0 260.8L1205.6 285.6L1207.5 287.4Z"/><path fill="#0048ff" d="M1231.0 260.8L1207.0 286.9L1208.9 288.6Z"/><path fill="#0050ff" d="M1231.0 260.8L1208.4 288.2L1210.4 289.7Z"/><path fill="#0057ff" d="M1231.0 260.8L1209.8 289.3L1212.0 290.8Z"/><path fill="#005eff" d="M1231.0 260.8L1211.4 290.4L1213.6 291.7Z"/><path fill="#0066ff" d="M1231.0 260.8L1212.9 291.4L1215.2 292.6Z"/><path fill="#006dff" d="M1231.0 260.8L1214.6 292.3L1216.9 293.4Z"/><path fill="#0074ff" d="M1231.0 260.8L1216.2 293.1L1218.6 294.1Z"/><path fill="#007dff" d="M1231.0 260.8L1217.9 293.8L1220.4 294.7Z"/><path fill="#008cff" d="M1231.0 260.8L1219.7 294.4L1222.2 295.2Z"/><path fill="#009cff" d="M1231.0 260.8L1221.5 295.0L1224.0 295.6Z"/><path fill="#00abff" d="M1231.0 260.8L1223.3 295.4L1225.8 295.9Z"/><path fill="#00baff" d="M1231.0 260.8L1225.1 295.8L1227.7 296.1Z"/><path fill="#00c9ff" d="M1231.0 260.8L1226.9 296.1L1229.5 296.3Z"/><path fill="#00d9ff" d="M1231.0 260.8L1228.8 296.2L1231.4 296.3Z"/><path fill="#00e2ff" d="M1231.0 260.8L1230.6 296.3L1233.2 296.2Z"/><path fill="#00e5ff" d="M1231.0 260.8L1232.5 296.3L1235.1 296.1Z"/><path fill="#00e8ff" d="M1231.0 260.8L1234.3 296.1L1236.9 295.8Z"/><path fill="#00ebff" d="M1231.0 260.8L1236.2 295.9L1238.7 295.4Z"/><path fill="#00eeff" d="M1231.0 260.8L1238.0 295.6L1240.5 295.0Z"/><path fill="#00f1ff" d="M1231.0 260.8L1239.8 295.2L1242.3 294.4Z"/><path fill="#00f4ff" d="M1231.0 260.8L1241.6 294.7L1244.1 293.8Z"/><path fill="#00f7ff" d="M1231.0 260.8L1243.4 294.1L1245.8 293.1Z"/><path fill="#00faff" d="M1231.0 260.8L1245.1 293.4L1247.4 292.3Z"/><path fill="#00fdff" d="M1231.0 260.8L1246.8 292.6L1249.1 291.4Z"/><path fill="#00feff" d="M1231.0 260.8L1248.4 291.7L1250.6 290.4Z"/><path fill="#00fcff" d="M1231.0 260.8L1250.0 290.8L1252.2 289.3Z"/><path fill="#00faff" d="M1231.0 260.8L1251.6 289.7L1253.6 288.2Z"/><path fill="#00f8ff" d="M1231.0 260.8L1253.1 288.6L1255.0 286.9Z"/><path fill="#00f6ff" d="M1231.0 260.8L1254.5 287.4L1256.4 285.6Z"/><path fill="#00f4ff" d="M1231.0 260.8L1255.8 286.2L1257.6 284.3Z"/><path fill="#00f2ff" d="M1231.0 260.8L1257.1 284.8L1258.8 282.9Z"/><path fill="#00f0ff" d="M1231.0 260.8L1258.4 283.4L1259.9 281.4Z"/><path fill="#00eeff" d="M1231.0 260.8L1259.5 282.0L1261.0 279.8Z"/><path fill="#00ecff" d="M1231.0 260.8L1260.6 280.4L1261.9 278.2Z"/><path fill="#00e8ff" d="M1231.0 260.8L1261.6 278.9L1262.8 276.6Z"/><path fill="#00e1ff" d="M1231.0 260.8L1262.5 277.2L1263.6 274.9Z"/><path fill="#00dbff" d="M1231.0 260.8L1263.3 275.6L1264.3 273.2Z"/><path fill="#00d5ff" d="M1231.0 260.8L1264.0 273.9L1264.9 271.4Z"/><path fill="#00cfff" d="M1231.0 260.8L1264.6 272.1L1265.4 269.6Z"/><path fill="#00c9ff" d="M1231.0 260.8L1265.2 270.3L1265.8 267.8Z"/><path fill="#00c3ff" d="M1231.0 260.8L1265.6 268.5L1266.1 266.0Z"/><path fill="#00bdff" d="M1231.0 260.8L1266.0 266.7L1266.3 264.1Z"/><path fill="#00b7ff" d="M1231.0 260.8L1266.3 264.9L1266.5 262.3Z"/><path fill="#00b0ff" d="M1231.0 260.8L1266.4 263.0L1266.5 260.4Z"/></g></g>
<g fill="none" stroke="#ffff00" stroke-width="3.4"><circle cx="1231.00" cy="260.80" r="195.00"/><circle cx="1231.00" cy="260.80" r="130.00"/><circle cx="1231.00" cy="260.80" r="65.00"/><circle cx="1231.00" cy="260.80" r="32.50"/><path d="M1036.00 260.80H1198.50M1263.50 260.80H1426.00M1231.00 195.80V228.30M1231.00 293.30V325.80M1263.50 204.51L1328.50 91.93M1198.50 204.51L1133.50 91.93M1198.50 317.09L1133.50 429.67M1263.50 317.09L1328.50 429.67"/></g>
<g font-family="Liberation Sans, Arial, sans-serif" font-weight="bold" font-size="23.5" fill="#000" text-anchor="middle"><text transform="translate(1231.0 105.9) scale(0.87 1)">-310</text><text transform="translate(1090.3 187.2) scale(0.87 1)">4</text><text transform="translate(1371.7 187.2) scale(0.87 1)">1142</text><text transform="translate(1090.3 349.7) scale(0.87 1)">156</text><text transform="translate(1371.7 349.7) scale(0.87 1)">1637</text><text transform="translate(1231.0 430.9) scale(0.87 1)">1098</text><text transform="translate(1231.0 170.9) scale(0.87 1)">-767</text><text transform="translate(1146.6 219.7) scale(0.87 1)">-849</text><text transform="translate(1315.4 219.7) scale(0.87 1)">1194</text><text transform="translate(1146.6 317.2) scale(0.87 1)">429</text><text transform="translate(1315.4 317.2) scale(0.87 1)">1785</text><text transform="translate(1231.0 365.9) scale(0.87 1)">1086</text><text transform="translate(1196.5 233.9) scale(0.87 1)">-887</text><text transform="translate(1265.5 233.9) scale(0.87 1)">-194</text><text transform="translate(1196.5 302.9) scale(0.87 1)">19</text><text transform="translate(1265.5 302.9) scale(0.87 1)">817</text><text transform="translate(1231.0 268.4) scale(0.87 1)">-61</text></g>
<g font-family="Liberation Sans, Arial, sans-serif" font-size="23.5" fill="#ececec" text-anchor="middle" stroke="#000" stroke-width="3" paint-order="stroke"><text transform="translate(1231.0 50.0) scale(0.88 1)">ANT_SEPT</text><text transform="translate(1231.5 488.5) scale(0.88 1)">POST</text><text transform="translate(1042.7 160.6) scale(0.88 1)">SEPT</text><text transform="translate(1419.8 160.6) scale(0.88 1)">ANT</text><text transform="translate(1041.0 379.8) scale(0.88 1)">INF</text><text transform="translate(1419.8 379.6) scale(0.88 1)">LAT</text></g>
<g fill="none"><clipPath id="cD1"><circle cx="1689.20" cy="261.20" r="195.00"/></clipPath><g clip-path="url(#cD1)"><g filter="url(#bl)" stroke-width="9"><path stroke="#0fe" d="M1644 60h8M1628 68h32M1628 76h32M1636 84h32M1636 92h64M1788 92h8M1644 100h72M1780 100h24M1652 108h24M1692 108h40M1780 108h24M1724 116h24M1772 116h32M1748 124h48M1764 132h32M1772 140h16M1780 148h16M1844 148h16M1788 156h16M1828 156h40M1804 164h64M1820 172h56M1836 180h40"/><path stroke="#0ff" d="M1652 60h88M1660 68h104M1660 76h120M1668 84h128M1700 92h88M1796 92h16M1716 100h64M1804 100h16M1732 108h48M1804 108h24M1748 116h24M1804 116h32M1796 124h48M1796 132h56M1788 140h72M1796 148h48M1804 156h24"/><path stroke="#0fd" d="M1612 68h16M1596 76h32M1580 84h56M1572 92h64M1556 100h88M1548 108h104M1676 108h16M1548 116h176M1556 124h48M1732 124h16M1564 132h32M1756 132h8M1572 140h24M1764 140h8M1580 148h8M1772 148h8M1780 156h8M1796 164h8M1804 172h16M1588 180h8M1820 180h16M1580 188h16M1828 188h56M1580 196h16M1844 196h24M1572 204h24M1572 212h24M1564 220h32M1564 228h32M1564 236h32M1564 244h32M1556 252h40M1564 260h16"/><path stroke="#0fc" d="M1540 116h8M1532 124h24M1604 124h128M1524 132h40M1596 132h24M1748 132h8M1524 140h48M1596 140h16M1516 148h64M1588 148h24M1508 156h96M1508 164h96M1788 164h8M1500 172h104M1500 180h88M1596 180h16M1812 180h8M1492 188h88M1596 188h16M1820 188h8M1492 196h88M1596 196h16M1828 196h16M1868 196h16M1508 204h64M1596 204h16M1844 204h32M1524 212h48M1596 212h16M1532 220h32M1596 220h16M1532 228h32M1596 228h16M1532 236h32M1596 236h16M1532 244h32M1596 244h16M1540 252h16M1596 252h8M1556 260h8M1580 260h16"/><path stroke="#0fb" d="M1620 132h16M1740 132h8M1612 140h8M1756 140h8M1612 148h8M1764 148h8M1604 156h8M1772 156h8M1604 164h8M1604 172h8M1796 172h8M1612 180h8M1804 180h8M1612 188h8M1812 188h8M1612 196h16M1820 196h8M1492 204h16M1612 204h16M1828 204h16M1876 204h16M1492 212h32M1612 212h16M1836 212h56M1484 220h48M1612 220h8M1844 220h48M1484 228h48M1612 228h8M1852 228h40M1484 236h48M1612 236h8M1852 236h40M1484 244h48M1612 244h8M1860 244h32M1484 252h56M1604 252h8M1876 252h8M1484 260h72M1596 260h8M1484 268h72M1484 276h80M1484 284h72M1484 292h72M1484 300h80M1484 308h80M1492 316h64M1492 324h64M1492 332h64M1500 340h56M1500 348h64M1508 356h48M1508 364h48M1516 372h32M1516 380h32M1524 388h16"/><path stroke="#0fa" d="M1636 132h40M1700 132h16M1732 132h8M1620 140h8M1748 140h8M1612 156h8M1612 164h8M1780 164h8M1612 172h16M1620 180h8M1620 188h8M1804 188h8M1628 196h8M1812 196h8M1820 204h8M1820 212h16M1620 220h8M1828 220h16M1620 228h8M1828 228h24M1620 236h8M1828 236h24M1828 244h32M1612 252h8M1836 252h40M1884 252h8M1604 260h8M1860 260h40M1556 268h8M1556 284h8M1556 292h8M1556 316h16M1556 324h16M1556 332h16M1556 340h16M1564 348h8M1556 356h16M1556 364h24M1548 372h32M1548 380h40M1540 388h56M1532 396h64M1540 404h56M1548 412h48M1556 420h32M1564 428h24"/><path stroke="#0f6" d="M1676 132h8M1628 148h8M1628 156h8M1788 188h8M1644 196h8M1644 204h8M1796 204h8M1796 212h16M1804 220h8M1812 236h8M1620 260h8M1876 268h16M1596 276h8M1596 284h8M1596 292h8M1596 300h8M1596 308h8M1588 316h8M1588 324h8M1580 332h16M1716 388h48M1676 396h88M1708 404h64M1716 412h56M1724 420h48M1724 428h56M1732 436h48M1732 444h40M1740 452h32M1740 460h8"/><path stroke="#0f5" d="M1684 132h16M1644 140h16M1636 148h16M1636 156h8M1636 164h8M1636 172h8M1788 196h8M1788 204h8M1788 212h8M1796 220h8M1796 228h16M1804 236h8M1812 244h8M1812 252h8M1812 260h8M1604 268h8M1812 268h64M1604 276h8M1884 276h8M1596 316h16M1596 324h8M1596 332h8M1588 340h16M1596 348h8M1620 372h8M1636 380h8M1740 380h16M1772 412h8M1772 420h8M1780 428h8M1780 436h8M1772 444h8"/><path stroke="#0f9" d="M1716 132h16M1628 140h8M1620 148h8M1620 164h8M1628 172h8M1788 172h8M1628 180h8M1796 180h8M1628 188h8M1804 196h8M1628 204h8M1812 204h8M1628 212h8M1812 212h8M1628 220h8M1812 220h16M1820 228h8M1820 236h8M1620 244h8M1820 244h8M1820 252h16M1828 260h32M1564 268h24M1564 276h16M1564 284h8M1564 292h8M1564 300h8M1564 308h8M1572 332h8M1572 340h8M1572 348h8M1572 356h16M1580 364h16M1580 372h32M1588 380h32M1596 388h16M1596 396h24M1596 404h24M1596 412h24M1588 420h24M1588 428h24M1580 436h32M1596 444h16"/><path stroke="#0f8" d="M1636 140h8M1740 140h8M1756 148h8M1620 156h8M1764 156h8M1628 164h8M1772 164h8M1636 180h8M1636 188h8M1796 188h8M1636 196h8M1636 204h8M1804 204h8M1628 228h8M1812 228h8M1620 252h8M1612 260h8M1820 260h8M1588 268h8M1892 268h8M1580 276h8M1572 284h16M1572 292h16M1572 300h16M1572 308h8M1572 316h8M1580 340h8M1580 348h8M1588 356h8M1596 364h8M1612 372h8M1620 380h16M1612 388h40M1620 396h32M1620 404h40M1620 412h40M1612 420h48M1612 428h48M1612 436h40M1612 444h40M1612 452h40M1628 460h16"/><path stroke="#0f4" d="M1660 140h56M1732 140h8M1652 148h8M1748 148h8M1644 156h8M1644 164h8M1780 180h8M1780 188h8M1780 196h8M1780 204h8M1780 212h8M1788 220h8M1788 228h8M1628 236h8M1796 236h8M1796 244h16M1796 252h16M1804 260h8M1612 268h8M1796 268h16M1796 276h88M1604 284h8M1796 284h96M1604 292h8M1796 292h96M1604 300h8M1796 300h72M1604 308h8M1796 308h32M1796 316h8M1604 324h8M1796 324h8M1604 332h8M1604 340h8M1604 348h8M1604 356h16M1612 364h16M1628 372h16M1644 380h16M1756 380h8M1660 388h56M1764 388h8M1764 396h8M1780 444h8"/><path stroke="#0f3" d="M1716 140h16M1660 148h88M1652 156h16M1740 156h24M1652 164h8M1764 164h8M1644 172h8M1772 172h8M1644 180h8M1772 180h8M1772 188h8M1772 196h8M1652 204h8M1772 204h8M1772 212h8M1636 220h8M1780 220h8M1636 228h8M1780 228h8M1636 236h8M1780 236h16M1628 244h8M1788 244h8M1628 252h8M1788 252h8M1788 260h16M1780 268h16M1612 276h8M1780 276h16M1780 284h16M1612 292h8M1772 292h24M1612 300h8M1772 300h24M1868 300h24M1612 308h8M1772 308h24M1828 308h64M1612 316h8M1772 316h24M1804 316h88M1612 324h8M1772 324h24M1804 324h80M1612 332h8M1772 332h40M1844 332h40M1612 340h8M1772 340h32M1852 340h32M1612 348h16M1772 348h24M1868 348h8M1620 356h8M1636 356h8M1628 364h24M1644 372h16M1756 372h24M1660 380h24M1724 380h16M1764 380h24M1772 388h16M1772 396h16M1772 404h24M1780 412h16M1780 420h16M1788 428h16M1788 436h16"/><path stroke="#0f2" d="M1668 156h72M1660 164h8M1724 164h40M1652 172h8M1740 172h32M1748 180h24M1644 188h8M1748 188h24M1756 196h16M1756 204h16M1644 212h8M1764 212h8M1644 220h8M1764 220h16M1644 228h8M1772 228h8M1644 236h8M1772 236h8M1636 244h8M1780 244h8M1636 252h8M1780 252h8M1780 260h8M1772 268h8M1772 276h8M1612 284h8M1764 284h16M1764 292h8M1764 300h8M1756 308h16M1620 316h8M1756 316h16M1620 324h8M1756 324h16M1620 332h8M1756 332h16M1812 332h32M1620 340h16M1756 340h16M1804 340h48M1628 348h32M1756 348h16M1796 348h72M1628 356h8M1644 356h32M1756 356h120M1652 364h32M1740 364h128M1660 372h96M1780 372h88M1684 380h40M1788 380h72M1788 388h64M1788 396h56M1796 404h40M1796 412h32M1796 420h24M1804 428h8"/><path stroke="#0f1" d="M1668 164h56M1660 172h8M1724 172h16M1652 180h8M1732 180h16M1652 188h8M1732 188h16M1732 196h24M1740 204h16M1652 212h8M1748 212h16M1652 220h8M1756 220h8M1652 228h8M1756 228h16M1652 236h8M1764 236h8M1644 244h8M1772 244h8M1644 252h8M1772 252h8M1628 260h8M1772 260h8M1620 268h8M1764 268h8M1620 276h8M1764 276h8M1620 292h8M1756 292h8M1620 300h8M1756 300h8M1620 308h8M1748 308h8M1748 316h8M1628 324h8M1740 324h16M1628 332h8M1732 332h24M1636 340h32M1724 340h32M1660 348h96M1676 356h80M1684 364h56"/><path stroke="#0f0" d="M1668 172h56M1660 180h8M1716 180h16M1724 188h8M1652 196h8M1724 196h8M1660 204h8M1732 204h8M1660 212h8M1732 212h16M1660 220h8M1740 220h16M1660 228h8M1748 228h8M1660 236h8M1748 236h16M1652 244h8M1756 244h16M1756 252h16M1636 260h8M1764 260h8M1756 276h8M1620 284h8M1756 284h8M1748 300h8M1628 308h8M1740 308h8M1628 316h8M1740 316h8M1636 324h8M1732 324h8M1636 332h24M1716 332h16M1668 340h56"/><path stroke="#0f7" d="M1780 172h8M1788 180h8M1796 196h8M1636 212h8M1596 268h8M1588 276h8M1588 284h8M1588 292h8M1588 300h8M1580 308h16M1580 316h8M1572 324h16M1588 348h8M1596 356h8M1604 364h8M1652 388h8M1652 396h24M1660 404h48M1660 412h56M1660 420h64M1660 428h64M1652 436h80M1652 444h80M1652 452h88M1644 460h96M1684 468h16"/><path stroke="#1f0" d="M1668 180h48M1660 188h16M1700 188h24M1660 196h8M1716 196h8M1668 204h8M1724 204h8M1668 212h8M1668 220h8M1668 228h8M1748 244h8M1652 252h8M1644 260h8M1756 260h8M1756 268h8M1748 284h8M1748 292h8M1628 300h8M1740 300h8M1636 316h8M1732 316h8M1644 324h8M1724 324h8M1660 332h16M1708 332h8"/><path stroke="#2f0" d="M1676 188h24M1668 196h48M1676 204h8M1676 212h8M1676 220h8M1732 220h8M1676 228h8M1732 228h16M1732 236h16M1732 244h16M1740 252h16M1652 260h8M1740 260h16M1636 308h8M1732 308h8M1644 316h8M1724 316h8M1652 324h8M1716 324h8M1676 332h32"/><path stroke="#3f0" d="M1684 204h8M1684 212h8M1724 212h8M1684 220h8M1724 220h8M1724 228h8M1724 236h8M1724 244h8M1724 252h16M1732 260h8M1748 268h8M1660 324h8M1708 324h8"/><path stroke="#4f0" d="M1692 204h32M1700 212h24M1708 220h16M1684 228h8M1708 228h16M1708 236h16M1716 244h8M1724 260h8M1628 268h8M1740 268h8M1740 276h16M1668 324h8"/><path stroke="#5f0" d="M1692 212h8M1692 220h16M1692 228h16M1732 268h8M1732 276h8M1732 284h16M1740 292h8"/><path stroke="#6f0" d="M1668 236h8M1660 244h8M1636 268h8M1724 268h8M1628 276h8M1724 276h8M1724 284h8M1724 292h16M1724 300h16M1724 308h8"/><path stroke="#7f0" d="M1676 236h16M1700 236h8M1668 244h8M1644 268h8M1636 276h8M1716 276h8M1628 284h8M1716 284h8M1628 292h8M1716 292h8M1716 300h8M1716 308h8M1716 316h8"/><path stroke="#8f0" d="M1692 236h8M1676 244h8M1700 244h16M1660 252h8M1716 252h8M1652 268h8M1644 276h8M1636 284h8M1636 292h8M1636 300h8M1708 300h8M1644 308h8M1708 308h8M1652 316h8M1700 316h16M1692 324h16"/><path stroke="#9f0" d="M1684 244h16M1668 252h16M1708 252h8M1660 260h8M1716 260h8M1652 276h8M1644 284h16M1644 292h8M1708 292h8M1644 300h16M1700 300h8M1652 308h8M1700 308h8M1660 316h16M1692 316h8M1676 324h16"/><path stroke="#af0" d="M1684 252h24M1668 260h8M1708 260h8M1660 268h8M1716 268h8M1660 284h8M1652 292h16M1700 292h8M1660 300h8M1692 300h8M1660 308h16M1692 308h8M1676 316h16"/><path stroke="#bf0" d="M1676 260h32M1668 268h8M1708 268h8M1660 276h8M1668 292h8M1668 300h16M1676 308h16"/><path stroke="#cf0" d="M1676 268h32M1708 276h8M1708 284h8M1684 300h8"/><path stroke="#df0" d="M1668 276h40M1668 284h8"/><path stroke="#ef0" d="M1676 284h32"/><path stroke="#ff0" d="M1676 292h24"/></g></g></g>
<clipPath id="ccD1"><circle cx="1689.20" cy="261.20" r="32.50"/></clipPath><g clip-path="url(#ccD1)"><g filter="url(#bl2)"><path fill="#68ff00" d="M1689.2 261.2L1724.7 261.6L1724.6 259.0Z"/><path fill="#6bff00" d="M1689.2 261.2L1724.7 259.7L1724.5 257.1Z"/><path fill="#6eff00" d="M1689.2 261.2L1724.5 257.9L1724.2 255.3Z"/><path fill="#72ff00" d="M1689.2 261.2L1724.3 256.0L1723.8 253.5Z"/><path fill="#75ff00" d="M1689.2 261.2L1724.0 254.2L1723.4 251.7Z"/><path fill="#79ff00" d="M1689.2 261.2L1723.6 252.4L1722.8 249.9Z"/><path fill="#7cff00" d="M1689.2 261.2L1723.1 250.6L1722.2 248.1Z"/><path fill="#80ff00" d="M1689.2 261.2L1722.5 248.8L1721.5 246.4Z"/><path fill="#83ff00" d="M1689.2 261.2L1721.8 247.1L1720.7 244.8Z"/><path fill="#86ff00" d="M1689.2 261.2L1721.0 245.4L1719.8 243.1Z"/><path fill="#8aff00" d="M1689.2 261.2L1720.1 243.8L1718.8 241.6Z"/><path fill="#8dff00" d="M1689.2 261.2L1719.2 242.2L1717.7 240.0Z"/><path fill="#91ff00" d="M1689.2 261.2L1718.1 240.6L1716.6 238.6Z"/><path fill="#94ff00" d="M1689.2 261.2L1717.0 239.1L1715.3 237.2Z"/><path fill="#97ff00" d="M1689.2 261.2L1715.8 237.7L1714.0 235.8Z"/><path fill="#9aff00" d="M1689.2 261.2L1714.6 236.4L1712.7 234.6Z"/><path fill="#9dff00" d="M1689.2 261.2L1713.2 235.1L1711.3 233.4Z"/><path fill="#9fff00" d="M1689.2 261.2L1711.8 233.8L1709.8 232.3Z"/><path fill="#a2ff00" d="M1689.2 261.2L1710.4 232.7L1708.2 231.2Z"/><path fill="#a4ff00" d="M1689.2 261.2L1708.8 231.6L1706.6 230.3Z"/><path fill="#a6ff00" d="M1689.2 261.2L1707.3 230.6L1705.0 229.4Z"/><path fill="#a9ff00" d="M1689.2 261.2L1705.6 229.7L1703.3 228.6Z"/><path fill="#abff00" d="M1689.2 261.2L1704.0 228.9L1701.6 227.9Z"/><path fill="#adff00" d="M1689.2 261.2L1702.3 228.2L1699.8 227.3Z"/><path fill="#adff00" d="M1689.2 261.2L1700.5 227.6L1698.0 226.8Z"/><path fill="#adff00" d="M1689.2 261.2L1698.7 227.0L1696.2 226.4Z"/><path fill="#adff00" d="M1689.2 261.2L1696.9 226.6L1694.4 226.1Z"/><path fill="#adff00" d="M1689.2 261.2L1695.1 226.2L1692.5 225.9Z"/><path fill="#adff00" d="M1689.2 261.2L1693.3 225.9L1690.7 225.7Z"/><path fill="#adff00" d="M1689.2 261.2L1691.4 225.8L1688.8 225.7Z"/><path fill="#a9ff00" d="M1689.2 261.2L1689.6 225.7L1687.0 225.8Z"/><path fill="#a1ff00" d="M1689.2 261.2L1687.7 225.7L1685.1 225.9Z"/><path fill="#99ff00" d="M1689.2 261.2L1685.9 225.9L1683.3 226.2Z"/><path fill="#91ff00" d="M1689.2 261.2L1684.0 226.1L1681.5 226.6Z"/><path fill="#89ff00" d="M1689.2 261.2L1682.2 226.4L1679.7 227.0Z"/><path fill="#81ff00" d="M1689.2 261.2L1680.4 226.8L1677.9 227.6Z"/><path fill="#78ff00" d="M1689.2 261.2L1678.6 227.3L1676.1 228.2Z"/><path fill="#70ff00" d="M1689.2 261.2L1676.8 227.9L1674.4 228.9Z"/><path fill="#68ff00" d="M1689.2 261.2L1675.1 228.6L1672.8 229.7Z"/><path fill="#60ff00" d="M1689.2 261.2L1673.4 229.4L1671.1 230.6Z"/><path fill="#58ff00" d="M1689.2 261.2L1671.8 230.3L1669.6 231.6Z"/><path fill="#50ff00" d="M1689.2 261.2L1670.2 231.2L1668.0 232.7Z"/><path fill="#47ff00" d="M1689.2 261.2L1668.6 232.3L1666.6 233.8Z"/><path fill="#3fff00" d="M1689.2 261.2L1667.1 233.4L1665.2 235.1Z"/><path fill="#37ff00" d="M1689.2 261.2L1665.7 234.6L1663.8 236.4Z"/><path fill="#2eff00" d="M1689.2 261.2L1664.4 235.8L1662.6 237.7Z"/><path fill="#24ff00" d="M1689.2 261.2L1663.1 237.2L1661.4 239.1Z"/><path fill="#1bff00" d="M1689.2 261.2L1661.8 238.6L1660.3 240.6Z"/><path fill="#11ff00" d="M1689.2 261.2L1660.7 240.0L1659.2 242.2Z"/><path fill="#07ff00" d="M1689.2 261.2L1659.6 241.6L1658.3 243.8Z"/><path fill="#00ff03" d="M1689.2 261.2L1658.6 243.1L1657.4 245.4Z"/><path fill="#00ff0d" d="M1689.2 261.2L1657.7 244.8L1656.6 247.1Z"/><path fill="#00ff16" d="M1689.2 261.2L1656.9 246.4L1655.9 248.8Z"/><path fill="#00ff1b" d="M1689.2 261.2L1656.2 248.1L1655.3 250.6Z"/><path fill="#00ff07" d="M1689.2 261.2L1655.6 249.9L1654.8 252.4Z"/><path fill="#0cff00" d="M1689.2 261.2L1655.0 251.7L1654.4 254.2Z"/><path fill="#20ff00" d="M1689.2 261.2L1654.6 253.5L1654.1 256.0Z"/><path fill="#34ff00" d="M1689.2 261.2L1654.2 255.3L1653.9 257.9Z"/><path fill="#48ff00" d="M1689.2 261.2L1653.9 257.1L1653.7 259.7Z"/><path fill="#5cff00" d="M1689.2 261.2L1653.8 259.0L1653.7 261.6Z"/><path fill="#69ff00" d="M1689.2 261.2L1653.7 260.8L1653.8 263.4Z"/><path fill="#6eff00" d="M1689.2 261.2L1653.7 262.7L1653.9 265.3Z"/><path fill="#74ff00" d="M1689.2 261.2L1653.9 264.5L1654.2 267.1Z"/><path fill="#79ff00" d="M1689.2 261.2L1654.1 266.4L1654.6 268.9Z"/><path fill="#7eff00" d="M1689.2 261.2L1654.4 268.2L1655.0 270.7Z"/><path fill="#84ff00" d="M1689.2 261.2L1654.8 270.0L1655.6 272.5Z"/><path fill="#89ff00" d="M1689.2 261.2L1655.3 271.8L1656.2 274.3Z"/><path fill="#8fff00" d="M1689.2 261.2L1655.9 273.6L1656.9 276.0Z"/><path fill="#94ff00" d="M1689.2 261.2L1656.6 275.3L1657.7 277.6Z"/><path fill="#9aff00" d="M1689.2 261.2L1657.4 277.0L1658.6 279.3Z"/><path fill="#9fff00" d="M1689.2 261.2L1658.3 278.6L1659.6 280.8Z"/><path fill="#a5ff00" d="M1689.2 261.2L1659.2 280.2L1660.7 282.4Z"/><path fill="#aaff00" d="M1689.2 261.2L1660.3 281.8L1661.8 283.8Z"/><path fill="#afff00" d="M1689.2 261.2L1661.4 283.3L1663.1 285.2Z"/><path fill="#b5ff00" d="M1689.2 261.2L1662.6 284.7L1664.4 286.6Z"/><path fill="#b9ff00" d="M1689.2 261.2L1663.8 286.0L1665.7 287.8Z"/><path fill="#bdff00" d="M1689.2 261.2L1665.2 287.3L1667.1 289.0Z"/><path fill="#c1ff00" d="M1689.2 261.2L1666.6 288.6L1668.6 290.1Z"/><path fill="#c5ff00" d="M1689.2 261.2L1668.0 289.7L1670.2 291.2Z"/><path fill="#c8ff00" d="M1689.2 261.2L1669.6 290.8L1671.8 292.1Z"/><path fill="#ccff00" d="M1689.2 261.2L1671.1 291.8L1673.4 293.0Z"/><path fill="#d0ff00" d="M1689.2 261.2L1672.8 292.7L1675.1 293.8Z"/><path fill="#d3ff00" d="M1689.2 261.2L1674.4 293.5L1676.8 294.5Z"/><path fill="#d7ff00" d="M1689.2 261.2L1676.1 294.2L1678.6 295.1Z"/><path fill="#dbff00" d="M1689.2 261.2L1677.9 294.8L1680.4 295.6Z"/><path fill="#dfff00" d="M1689.2 261.2L1679.7 295.4L1682.2 296.0Z"/><path fill="#f2ff00" d="M1689.2 261.2L1681.5 295.8L1684.0 296.3Z"/><path fill="#ffe900" d="M1689.2 261.2L1683.3 296.2L1685.9 296.5Z"/><path fill="#ffc400" d="M1689.2 261.2L1685.1 296.5L1687.7 296.7Z"/><path fill="#ff9300" d="M1689.2 261.2L1687.0 296.6L1689.6 296.7Z"/><path fill="#ff9300" d="M1689.2 261.2L1688.8 296.7L1691.4 296.6Z"/><path fill="#ffc400" d="M1689.2 261.2L1690.7 296.7L1693.3 296.5Z"/><path fill="#ffe900" d="M1689.2 261.2L1692.5 296.5L1695.1 296.2Z"/><path fill="#f2ff00" d="M1689.2 261.2L1694.4 296.3L1696.9 295.8Z"/><path fill="#ddff00" d="M1689.2 261.2L1696.2 296.0L1698.7 295.4Z"/><path fill="#d5ff00" d="M1689.2 261.2L1698.0 295.6L1700.5 294.8Z"/><path fill="#ceff00" d="M1689.2 261.2L1699.8 295.1L1702.3 294.2Z"/><path fill="#c6ff00" d="M1689.2 261.2L1701.6 294.5L1704.0 293.5Z"/><path fill="#bfff00" d="M1689.2 261.2L1703.3 293.8L1705.6 292.7Z"/><path fill="#b8ff00" d="M1689.2 261.2L1705.0 293.0L1707.3 291.8Z"/><path fill="#b0ff00" d="M1689.2 261.2L1706.6 292.1L1708.8 290.8Z"/><path fill="#a9ff00" d="M1689.2 261.2L1708.2 291.2L1710.4 289.7Z"/><path fill="#a1ff00" d="M1689.2 261.2L1709.8 290.1L1711.8 288.6Z"/><path fill="#9aff00" d="M1689.2 261.2L1711.3 289.0L1713.2 287.3Z"/><path fill="#93ff00" d="M1689.2 261.2L1712.7 287.8L1714.6 286.0Z"/><path fill="#8dff00" d="M1689.2 261.2L1714.0 286.6L1715.8 284.7Z"/><path fill="#8bff00" d="M1689.2 261.2L1715.3 285.2L1717.0 283.3Z"/><path fill="#88ff00" d="M1689.2 261.2L1716.6 283.8L1718.1 281.8Z"/><path fill="#85ff00" d="M1689.2 261.2L1717.7 282.4L1719.2 280.2Z"/><path fill="#83ff00" d="M1689.2 261.2L1718.8 280.8L1720.1 278.6Z"/><path fill="#80ff00" d="M1689.2 261.2L1719.8 279.3L1721.0 277.0Z"/><path fill="#7dff00" d="M1689.2 261.2L1720.7 277.6L1721.8 275.3Z"/><path fill="#7aff00" d="M1689.2 261.2L1721.5 276.0L1722.5 273.6Z"/><path fill="#78ff00" d="M1689.2 261.2L1722.2 274.3L1723.1 271.8Z"/><path fill="#75ff00" d="M1689.2 261.2L1722.8 272.5L1723.6 270.0Z"/><path fill="#72ff00" d="M1689.2 261.2L1723.4 270.7L1724.0 268.2Z"/><path fill="#70ff00" d="M1689.2 261.2L1723.8 268.9L1724.3 266.4Z"/><path fill="#6dff00" d="M1689.2 261.2L1724.2 267.1L1724.5 264.5Z"/><path fill="#6aff00" d="M1689.2 261.2L1724.5 265.3L1724.7 262.7Z"/><path fill="#67ff00" d="M1689.2 261.2L1724.6 263.4L1724.7 260.8Z"/></g></g>
<g fill="none" stroke="#ffff00" stroke-width="3.4"><circle cx="1689.20" cy="261.20" r="195.00"/><circle cx="1689.20" cy="261.20" r="130.00"/><circle cx="1689.20" cy="261.20" r="65.00"/><circle cx="1689.20" cy="261.20" r="32.50"/><path d="M1494.20 261.20H1656.70M1721.70 261.20H1884.20M1689.20 196.20V228.70M1689.20 293.70V326.20M1721.70 204.91L1786.70 92.33M1656.70 204.91L1591.70 92.33M1656.70 317.49L1591.70 430.07M1721.70 317.49L1786.70 430.07"/></g>
<g font-family="Liberation Sans, Arial, sans-serif" font-weight="bold" font-size="23.5" fill="#000" text-anchor="middle"><text transform="translate(1689.2 106.3) scale(0.87 1)">757</text><text transform="translate(1548.5 187.6) scale(0.87 1)">753</text><text transform="translate(1829.9 187.6) scale(0.87 1)">844</text><text transform="translate(1548.5 350.1) scale(0.87 1)">899</text><text transform="translate(1829.9 350.1) scale(0.87 1)">1490</text><text transform="translate(1689.2 431.3) scale(0.87 1)">987</text><text transform="translate(1689.2 171.3) scale(0.87 1)">1418</text><text transform="translate(1604.8 220.1) scale(0.87 1)">552</text><text transform="translate(1773.6 220.1) scale(0.87 1)">1310</text><text transform="translate(1604.8 317.6) scale(0.87 1)">1204</text><text transform="translate(1773.6 317.6) scale(0.87 1)">1085</text><text transform="translate(1689.2 366.3) scale(0.87 1)">1222</text><text transform="translate(1654.7 234.3) scale(0.87 1)">1494</text><text transform="translate(1723.7 234.3) scale(0.87 1)">2010</text><text transform="translate(1654.7 303.3) scale(0.87 1)">2100</text><text transform="translate(1723.7 303.3) scale(0.87 1)">1901</text><text transform="translate(1689.2 268.8) scale(0.87 1)">1876</text></g>
<g font-family="Liberation Sans, Arial, sans-serif" font-size="23.5" fill="#ececec" text-anchor="middle" stroke="#000" stroke-width="3" paint-order="stroke"><text transform="translate(1689.2 50.4) scale(0.88 1)">ANT_SEPT</text><text transform="translate(1689.7 488.9) scale(0.88 1)">POST</text><text transform="translate(1500.9 161.0) scale(0.88 1)">SEPT</text><text transform="translate(1878.0 161.0) scale(0.88 1)">ANT</text><text transform="translate(1499.2 380.2) scale(0.88 1)">INF</text><text transform="translate(1878.0 380.0) scale(0.88 1)">LAT</text></g>
<g fill="none"><clipPath id="cA2"><circle cx="317.60" cy="746.00" r="195.00"/></clipPath><g clip-path="url(#cA2)"><g filter="url(#bl)" stroke-width="9"><path stroke="#f60" d="M272 545h8M360 545h8M272 553h8M360 553h8M272 561h8M352 561h16M272 569h16M352 569h8M272 577h16M344 577h16M272 585h16M344 585h16M272 593h8M344 593h16M272 601h8M344 601h16M264 609h8M344 609h16M256 617h16M328 617h8M344 617h8M256 625h8M328 625h8M320 633h8M312 641h16M248 649h16M304 649h16M248 657h16M288 657h24M248 665h56M240 673h40M240 681h40M232 689h40M224 697h16M256 697h8M216 705h16M248 705h16M208 713h48M200 721h40M200 729h24M152 769h16M120 777h64M112 785h16M168 785h24M176 793h16M184 801h16M192 809h8M200 817h8M200 825h8M200 833h8M200 841h8M192 849h8M184 857h16M184 865h8M176 873h8M168 881h16M168 889h8"/><path stroke="#f50" d="M280 545h8M352 545h8M280 553h8M344 553h16M280 561h16M344 561h8M288 569h8M336 569h16M288 577h8M336 577h8M288 585h8M336 585h8M280 593h16M336 593h8M280 601h16M336 601h8M272 609h16M328 609h16M272 617h16M312 617h16M336 617h8M264 625h64M256 633h64M256 641h56M264 649h40M264 657h24M240 697h16M232 705h16M128 785h40M120 793h56M120 801h24M168 801h16M176 809h16M184 817h16M184 825h16M184 833h16M184 841h16M184 849h8M176 857h8M168 865h16M160 873h16M160 881h8"/><path stroke="#f40" d="M288 545h64M288 553h56M296 561h48M296 569h40M296 577h40M296 585h40M296 593h40M296 601h40M288 609h40M288 617h24M144 801h24M120 809h56M120 817h64M128 825h16M168 825h16M168 833h16M168 841h16M168 849h16M160 857h16M160 865h8M152 873h8"/><path stroke="#fa0" d="M240 553h8M224 561h24M224 569h24M224 577h16M416 577h8M432 577h8M224 585h16M416 585h32M232 593h8M408 593h40M232 601h8M400 601h40M400 609h24M392 617h8M368 633h16M360 641h16M352 649h8M344 657h8M336 665h8M328 673h8M320 681h8M312 689h8M304 697h8M288 705h24M264 713h40M256 721h40M256 729h8M248 737h8M176 745h8M232 745h8M224 753h16M112 761h8M224 761h16M224 769h16M224 777h8M224 785h8M224 793h8M224 801h8M224 809h8M224 817h8M224 825h8M224 833h8M224 841h8M224 849h8M224 857h8M216 865h16M216 873h8M216 881h8M208 889h8M200 897h16M192 905h16"/><path stroke="#f90" d="M248 553h8M248 561h8M248 569h8M408 569h16M240 577h16M408 577h8M424 577h8M240 585h16M408 585h8M240 593h16M400 593h8M240 601h8M240 609h8M392 609h8M240 617h8M384 617h8M360 625h8M376 625h8M248 633h8M352 633h16M344 641h16M344 649h8M336 657h8M328 665h8M320 673h8M312 681h8M288 689h24M272 697h32M264 705h24M248 729h8M240 737h8M224 745h8M120 753h24M200 753h24M200 761h24M200 769h24M208 777h16M208 785h16M208 793h16M216 801h8M216 809h8M216 817h8M216 825h8M216 849h8M216 857h8M208 865h8M208 873h8M200 881h16M200 889h8M192 897h8M184 905h8"/><path stroke="#f80" d="M256 553h8M256 561h8M392 561h16M256 569h8M384 569h24M256 577h8M384 577h24M256 585h8M384 585h24M256 593h8M376 593h24M248 601h8M376 601h24M248 609h8M376 609h16M248 617h8M368 617h16M344 625h16M368 625h8M344 633h8M336 641h8M232 649h8M328 649h16M224 657h8M328 657h8M216 665h16M320 665h8M208 673h16M312 673h8M208 681h8M296 681h16M200 689h8M280 689h8M240 729h8M224 737h16M216 745h8M144 753h32M184 753h16M120 761h24M192 761h8M112 769h8M192 769h8M192 777h16M192 785h16M200 793h8M200 801h16M200 809h16M208 817h8M216 833h8M216 841h8M208 849h8M208 857h8M200 865h8M200 873h8M192 881h8M184 889h16M184 897h8"/><path stroke="#f70" d="M264 553h8M368 553h24M264 561h8M368 561h24M264 569h8M360 569h24M264 577h8M360 577h24M264 585h8M360 585h24M264 593h8M360 593h16M256 601h16M360 601h16M256 609h8M360 609h16M352 617h16M248 625h8M336 625h8M328 633h16M240 641h16M328 641h8M240 649h8M320 649h8M232 657h16M312 657h16M232 665h16M304 665h16M224 673h16M280 673h32M216 681h24M280 681h16M208 689h24M272 689h8M200 697h24M264 697h8M192 705h24M192 713h16M256 713h8M192 721h8M240 721h16M192 729h8M224 729h16M184 737h40M184 745h32M176 753h8M144 761h48M120 769h32M168 769h24M112 777h8M184 777h8M192 793h8M208 825h8M208 833h8M208 841h8M200 849h8M200 857h8M192 865h8M184 873h16M184 881h8M176 889h8M176 897h8"/><path stroke="#fb0" d="M208 569h16M208 577h8M448 593h8M440 601h24M424 609h32M400 617h40M240 625h8M384 625h16M240 633h8M232 641h8M224 649h8M360 649h16M352 657h16M344 665h8M336 673h8M328 681h8M312 697h8M312 705h8M304 713h8M184 729h8M264 729h24M256 737h24M240 745h8M112 753h8M240 753h8M240 761h8M240 769h8M232 777h8M232 785h8M232 793h8M232 801h8M232 849h8M232 857h8M232 865h8M224 873h16M224 881h16M216 889h16M216 897h16M208 905h16M192 913h32"/><path stroke="#fc0" d="M200 577h8M456 609h16M440 617h40M400 625h72M232 633h8M384 633h8M432 633h24M216 657h8M208 665h8M352 665h8M344 673h8M200 681h8M192 697h8M312 713h8M184 721h8M176 737h8M280 737h8M168 745h8M248 745h32M248 753h8M248 761h8M248 769h8M368 769h8M240 777h8M368 777h8M240 785h8M240 793h8M240 801h8M232 809h8M232 817h8M232 825h8M232 833h8M232 841h8M240 857h8M240 865h8M240 873h8M208 921h16"/><path stroke="#fd0" d="M216 577h8M224 593h8M232 609h8M232 617h8M232 625h8M472 625h16M392 633h40M456 633h24M224 641h8M416 641h48M216 649h8M432 649h16M360 665h8M200 673h8M352 673h8M336 681h8M192 689h8M184 713h8M296 721h8M176 729h8M288 729h8M168 737h8M112 745h8M152 745h16M280 745h8M352 753h32M344 761h40M344 769h24M248 777h8M352 777h16M248 785h8M360 785h8M248 793h8M248 801h8M240 809h8M240 817h8M232 889h8M232 897h8M224 905h16M224 913h16M224 921h16M224 929h16"/><path stroke="#ef0" d="M184 585h8M200 585h8M200 593h16M208 601h8M208 609h8M216 617h8M208 633h8M208 641h8M488 641h8M384 649h8M480 649h24M200 657h8M376 657h8M464 657h24M368 665h8M416 665h8M448 665h24M360 673h8M176 697h8M328 697h8M176 705h8M320 705h8M112 713h24M168 713h8M120 721h48M312 721h8M312 729h8M304 737h8M288 745h16M272 753h16M336 753h8M384 753h8M264 761h8M336 761h8M256 769h8M336 769h8M392 769h8M384 785h8M264 793h8M344 793h8M264 801h8M360 801h16M264 809h8M264 817h8M256 825h16M256 833h8M256 841h8M272 873h16M272 881h16M272 889h8M272 897h8M272 905h8M264 913h8M264 921h8M264 929h8M256 937h8"/><path stroke="#fe0" d="M192 585h8M216 585h8M216 593h8M224 601h8M224 609h8M224 617h8M224 625h8M224 633h8M480 633h8M216 641h8M376 641h8M392 641h24M464 641h16M408 649h24M448 649h16M208 657h8M424 657h24M200 665h8M192 681h8M344 681h8M320 689h8M184 705h8M176 721h8M304 721h8M168 729h8M296 729h8M112 737h8M152 737h16M288 737h8M120 745h32M376 769h8M256 777h8M344 777h8M376 777h8M256 785h8M352 785h8M368 785h16M256 793h8M248 809h8M248 817h8M240 825h8M240 833h8M240 841h8M240 849h8M248 857h8M248 865h8M248 873h8M240 881h16M240 889h16M240 897h16M240 905h16M240 913h16M240 921h16M240 929h16M240 937h8"/><path stroke="#ff0" d="M208 585h8M216 601h8M216 609h8M216 625h8M216 633h8M384 641h8M480 641h8M208 649h8M376 649h8M464 649h16M368 657h8M416 657h8M448 657h16M424 665h24M192 673h8M184 689h8M328 689h8M184 697h8M320 697h8M176 713h8M112 721h8M168 721h8M112 729h56M304 729h8M120 737h32M296 737h8M256 753h16M344 753h8M256 761h8M384 761h8M384 769h8M336 777h8M384 777h8M344 785h8M352 793h32M256 801h8M256 809h8M256 817h8M248 825h8M248 833h8M248 841h8M248 849h8M256 865h8M256 873h16M256 881h16M256 889h16M256 897h16M256 905h16M256 913h8M256 921h8M256 929h8M248 937h8"/><path stroke="#cf0" d="M176 593h8M192 601h8M192 609h8M200 617h8M200 625h8M200 633h8M200 641h8M392 657h24M384 665h16M184 673h8M376 673h8M368 681h8M440 681h72M344 689h16M456 689h40M168 697h8M336 697h8M128 705h40M336 705h8M328 713h8M328 721h8M328 729h8M328 737h24M304 753h24M288 761h16M312 761h16M400 761h8M280 769h8M320 769h8M400 769h8M272 777h8M400 777h8M264 785h8M328 785h8M336 793h8M392 793h8M344 801h8M384 801h8M360 809h16M256 849h8M264 857h8M272 865h8M288 889h8M288 897h8M288 905h8M280 913h8M280 921h8M280 929h8M280 937h16M272 945h24"/><path stroke="#df0" d="M184 593h16M200 601h8M200 609h8M208 617h8M208 625h8M200 649h8M392 649h16M384 657h8M488 657h16M192 665h8M376 665h8M472 665h40M368 673h8M424 673h88M184 681h8M352 681h16M176 689h8M336 689h8M112 705h16M168 705h8M328 705h8M136 713h32M320 713h8M320 721h8M320 729h8M312 737h16M304 745h48M288 753h16M328 753h8M392 753h8M272 761h16M328 761h8M392 761h8M264 769h16M328 769h8M264 777h8M328 777h8M392 777h8M336 785h8M392 785h8M384 793h8M272 801h8M352 801h8M376 801h8M272 809h8M272 817h8M256 857h8M264 865h8M288 881h8M280 889h8M280 897h8M280 905h8M272 913h8M272 921h8M272 929h8M264 937h16M264 945h8"/><path stroke="#af0" d="M168 601h8M176 609h8M184 617h8M192 633h8M192 641h8M192 649h8M184 665h8M176 673h8M400 673h24M168 681h8M384 681h8M160 689h8M376 689h8M432 689h8M128 697h24M352 697h16M440 697h8M504 697h16M344 705h16M440 705h24M472 705h48M344 713h8M448 713h40M336 721h8M352 737h8M384 745h8M408 753h16M416 761h8M296 769h16M416 769h8M288 777h8M312 777h8M416 777h8M280 785h8M320 785h8M408 785h8M328 793h8M400 793h8M392 801h8M384 809h8M360 817h16M272 825h8M272 833h8M272 841h16M280 849h8M288 857h8M296 865h8M296 873h8M304 881h8M304 889h8M304 897h8M304 913h8M304 921h8M304 929h8M304 937h16M312 945h8"/><path stroke="#bf0" d="M176 601h16M184 609h8M192 617h8M192 625h8M192 657h8M400 665h16M384 673h16M176 681h8M376 681h8M432 681h8M168 689h8M360 689h16M440 689h16M496 689h24M120 697h8M152 697h16M344 697h8M448 697h56M464 705h8M336 713h8M336 729h8M352 745h32M400 753h8M304 761h8M408 761h8M288 769h8M312 769h8M408 769h8M280 777h8M320 777h8M408 777h8M272 785h8M400 785h8M272 793h8M336 801h8M352 809h8M376 809h8M264 833h8M264 841h8M264 849h16M272 857h16M280 865h16M288 873h8M296 881h8M296 889h8M296 897h8M296 905h8M288 913h16M288 921h16M288 929h16M296 937h8M296 945h16"/><path stroke="#8f0" d="M160 609h8M168 617h8M176 625h8M184 633h8M184 641h8M184 649h8M184 657h8M176 665h8M168 673h8M160 681h8M400 681h32M120 689h32M392 689h8M376 697h8M368 705h8M360 713h16M360 721h16M360 729h24M496 729h24M384 737h8M448 737h80M400 745h8M448 745h8M488 745h40M440 769h8M432 777h8M296 785h8M424 785h16M288 793h8M416 793h16M288 801h8M320 801h8M408 801h16M280 809h8M328 809h8M344 809h8M400 809h16M392 817h16M360 825h32M288 833h8M296 849h8M304 857h8M304 865h8M312 873h8M320 881h8M320 889h8M320 897h8M320 905h8M320 913h16M320 921h16M328 929h8M328 937h16M336 945h8"/><path stroke="#9f0" d="M168 609h8M176 617h8M184 625h8M392 681h8M152 689h8M384 689h8M368 697h8M360 705h8M352 713h8M440 713h8M488 713h32M344 721h16M448 721h72M344 729h16M448 729h48M360 737h24M392 745h8M424 753h24M424 761h24M424 769h16M296 777h16M424 777h8M288 785h8M416 785h8M280 793h8M320 793h8M408 793h8M280 801h8M328 801h8M400 801h8M392 809h8M280 817h8M376 817h16M280 825h8M280 833h8M288 841h8M288 849h8M296 857h8M304 873h8M312 881h8M312 889h8M312 897h8M304 905h16M312 913h8M312 921h8M312 929h16M320 937h8M320 945h16"/><path stroke="#5f0" d="M152 617h8M160 625h8M168 641h8M168 649h8M168 657h8M160 665h8M128 673h24M400 705h24M392 713h32M392 721h32M400 729h16M456 753h8M488 753h16M448 761h8M504 761h16M448 769h8M512 769h8M512 777h8M440 785h8M440 793h8M432 801h8M304 817h32M304 825h40M312 833h40M312 841h40M320 849h40M320 857h64M328 865h40M336 873h16M344 881h8M344 889h8M344 897h8M352 905h8M352 913h8M352 921h8M352 929h8M360 937h8M360 945h8"/><path stroke="#6f0" d="M160 617h8M168 625h8M168 633h8M176 641h8M176 649h8M168 665h8M152 673h8M120 681h24M416 689h8M400 697h32M384 705h16M424 705h16M384 713h8M424 713h16M384 721h8M424 721h24M384 729h16M416 729h32M400 737h40M448 753h8M504 753h16M520 761h8M440 777h8M304 801h16M296 809h24M424 809h8M296 817h8M336 817h8M416 817h8M296 825h8M344 825h16M416 825h8M304 833h8M352 833h16M408 833h8M304 841h8M352 841h24M312 849h8M360 849h40M312 857h8M320 865h8M328 873h8M336 881h8M336 889h8M336 897h8M344 905h8M344 913h8M344 921h8M352 937h8M352 945h8"/><path stroke="#4f0" d="M152 625h8M160 633h8M160 641h8M160 649h8M152 657h16M128 665h32M120 673h8M464 753h24M456 761h8M488 761h16M456 769h8M504 769h8M448 777h8M448 785h8M512 785h8M440 801h8M432 809h8M424 817h8M416 833h8M408 841h8M384 857h8M368 865h16M352 873h40M352 881h40M352 889h40M352 897h40M360 905h32M360 913h40M360 921h40M360 929h32M368 937h24M368 945h8"/><path stroke="#3f0" d="M144 633h16M152 641h8M144 649h16M128 657h24M464 761h24M464 769h40M456 777h16M488 777h24M456 785h8M448 793h8M512 793h8M448 801h8M440 809h8M432 817h8M424 825h8M416 841h8M400 849h16M392 857h8M384 865h16M392 889h8M392 897h16M392 905h16M400 913h16M400 921h16M392 929h24M392 937h8"/><path stroke="#7f0" d="M176 633h8M176 657h8M160 673h8M144 681h16M400 689h16M424 689h8M384 697h16M432 697h8M376 705h8M376 713h8M376 721h8M392 737h8M440 737h8M408 745h40M456 745h32M520 753h8M304 785h16M296 793h24M432 793h8M296 801h8M424 801h8M288 809h8M320 809h8M336 809h8M416 809h8M288 817h8M344 817h16M408 817h8M288 825h8M392 825h24M296 833h8M368 833h40M296 841h8M376 841h32M304 849h8M312 865h8M320 873h8M328 881h8M328 889h8M328 897h8M328 905h16M336 913h8M336 921h8M336 929h16M344 937h8M344 945h8"/><path stroke="#2f0" d="M136 641h16M136 649h8M472 777h16M464 785h48M456 793h56M456 801h8M488 801h32M448 809h8M440 817h8M432 825h8M424 833h8M424 841h8M416 849h8M400 857h16M400 865h8M392 873h16M392 881h16M400 889h8M408 897h8M408 905h8M416 921h8"/><path stroke="#1f0" d="M464 801h24M456 809h56M448 817h16M496 817h16M440 825h16M432 833h16M432 841h16M424 849h24M416 857h40M408 865h64M408 873h72M408 881h64M408 889h56M416 897h40M416 905h32M416 913h24M424 921h8"/><path stroke="#0f0" d="M464 817h32M456 825h56M448 833h56M448 841h56M448 849h48M456 857h40M472 865h16"/><path stroke="#f30" d="M144 825h24M128 833h40M136 841h32M136 849h32M144 857h16M152 865h8"/></g></g></g>
<clipPath id="ccA2"><circle cx="317.60" cy="746.00" r="32.50"/></clipPath><g clip-path="url(#ccA2)"><g filter="url(#bl2)"><path fill="#fff900" d="M317.6 746.0L353.1 746.4L353.0 743.8Z"/><path fill="#fbff00" d="M317.6 746.0L353.1 744.5L352.9 741.9Z"/><path fill="#f2ff00" d="M317.6 746.0L352.9 742.7L352.6 740.1Z"/><path fill="#e9ff00" d="M317.6 746.0L352.7 740.8L352.2 738.3Z"/><path fill="#e0ff00" d="M317.6 746.0L352.4 739.0L351.8 736.5Z"/><path fill="#d7ff00" d="M317.6 746.0L352.0 737.2L351.2 734.7Z"/><path fill="#ceff00" d="M317.6 746.0L351.5 735.4L350.6 732.9Z"/><path fill="#bdff00" d="M317.6 746.0L350.9 733.6L349.9 731.2Z"/><path fill="#aaff00" d="M317.6 746.0L350.2 731.9L349.1 729.6Z"/><path fill="#98ff00" d="M317.6 746.0L349.4 730.2L348.2 727.9Z"/><path fill="#86ff00" d="M317.6 746.0L348.5 728.6L347.2 726.4Z"/><path fill="#73ff00" d="M317.6 746.0L347.6 727.0L346.1 724.8Z"/><path fill="#61ff00" d="M317.6 746.0L346.5 725.4L345.0 723.4Z"/><path fill="#54ff00" d="M317.6 746.0L345.4 723.9L343.7 722.0Z"/><path fill="#62ff00" d="M317.6 746.0L344.2 722.5L342.4 720.6Z"/><path fill="#71ff00" d="M317.6 746.0L343.0 721.2L341.1 719.4Z"/><path fill="#7fff00" d="M317.6 746.0L341.6 719.9L339.7 718.2Z"/><path fill="#8dff00" d="M317.6 746.0L340.2 718.6L338.2 717.1Z"/><path fill="#9dff00" d="M317.6 746.0L338.8 717.5L336.6 716.0Z"/><path fill="#b8ff00" d="M317.6 746.0L337.2 716.4L335.0 715.1Z"/><path fill="#d2ff00" d="M317.6 746.0L335.7 715.4L333.4 714.2Z"/><path fill="#edff00" d="M317.6 746.0L334.0 714.5L331.7 713.4Z"/><path fill="#fff700" d="M317.6 746.0L332.4 713.7L330.0 712.7Z"/><path fill="#ffde00" d="M317.6 746.0L330.7 713.0L328.2 712.1Z"/><path fill="#ffd000" d="M317.6 746.0L328.9 712.4L326.4 711.6Z"/><path fill="#ffc100" d="M317.6 746.0L327.1 711.8L324.6 711.2Z"/><path fill="#ffb300" d="M317.6 746.0L325.3 711.4L322.8 710.9Z"/><path fill="#ffa500" d="M317.6 746.0L323.5 711.0L320.9 710.7Z"/><path fill="#ff9900" d="M317.6 746.0L321.7 710.7L319.1 710.5Z"/><path fill="#ff9a00" d="M317.6 746.0L319.8 710.6L317.2 710.5Z"/><path fill="#ff9a00" d="M317.6 746.0L318.0 710.5L315.4 710.6Z"/><path fill="#ff9b00" d="M317.6 746.0L316.1 710.5L313.5 710.7Z"/><path fill="#ff9c00" d="M317.6 746.0L314.3 710.7L311.7 711.0Z"/><path fill="#ff9c00" d="M317.6 746.0L312.4 710.9L309.9 711.4Z"/><path fill="#ff9d00" d="M317.6 746.0L310.6 711.2L308.1 711.8Z"/><path fill="#ff9d00" d="M317.6 746.0L308.8 711.6L306.3 712.4Z"/><path fill="#ff9e00" d="M317.6 746.0L307.0 712.1L304.5 713.0Z"/><path fill="#ff9f00" d="M317.6 746.0L305.2 712.7L302.8 713.7Z"/><path fill="#ff9f00" d="M317.6 746.0L303.5 713.4L301.2 714.5Z"/><path fill="#ffa000" d="M317.6 746.0L301.8 714.2L299.5 715.4Z"/><path fill="#ffa000" d="M317.6 746.0L300.2 715.1L298.0 716.4Z"/><path fill="#ffa100" d="M317.6 746.0L298.6 716.0L296.4 717.5Z"/><path fill="#ffa200" d="M317.6 746.0L297.0 717.1L295.0 718.6Z"/><path fill="#ffa200" d="M317.6 746.0L295.5 718.2L293.6 719.9Z"/><path fill="#ffa300" d="M317.6 746.0L294.1 719.4L292.2 721.2Z"/><path fill="#ffa500" d="M317.6 746.0L292.8 720.6L291.0 722.5Z"/><path fill="#ffa900" d="M317.6 746.0L291.5 722.0L289.8 723.9Z"/><path fill="#ffad00" d="M317.6 746.0L290.2 723.4L288.7 725.4Z"/><path fill="#ffb100" d="M317.6 746.0L289.1 724.8L287.6 727.0Z"/><path fill="#ffb600" d="M317.6 746.0L288.0 726.4L286.7 728.6Z"/><path fill="#ffba00" d="M317.6 746.0L287.0 727.9L285.8 730.2Z"/><path fill="#ffbe00" d="M317.6 746.0L286.1 729.6L285.0 731.9Z"/><path fill="#ffc200" d="M317.6 746.0L285.3 731.2L284.3 733.6Z"/><path fill="#ffc600" d="M317.6 746.0L284.6 732.9L283.7 735.4Z"/><path fill="#ffca00" d="M317.6 746.0L284.0 734.7L283.2 737.2Z"/><path fill="#ffce00" d="M317.6 746.0L283.4 736.5L282.8 739.0Z"/><path fill="#ffd200" d="M317.6 746.0L283.0 738.3L282.5 740.8Z"/><path fill="#ffd600" d="M317.6 746.0L282.6 740.1L282.3 742.7Z"/><path fill="#ffda00" d="M317.6 746.0L282.3 741.9L282.1 744.5Z"/><path fill="#ffde00" d="M317.6 746.0L282.2 743.8L282.1 746.4Z"/><path fill="#ffe300" d="M317.6 746.0L282.1 745.6L282.2 748.2Z"/><path fill="#ffe700" d="M317.6 746.0L282.1 747.5L282.3 750.1Z"/><path fill="#ffec00" d="M317.6 746.0L282.3 749.3L282.6 751.9Z"/><path fill="#fff000" d="M317.6 746.0L282.5 751.2L283.0 753.7Z"/><path fill="#fff500" d="M317.6 746.0L282.8 753.0L283.4 755.5Z"/><path fill="#fffa00" d="M317.6 746.0L283.2 754.8L284.0 757.3Z"/><path fill="#fffe00" d="M317.6 746.0L283.7 756.6L284.6 759.1Z"/><path fill="#faff00" d="M317.6 746.0L284.3 758.4L285.3 760.8Z"/><path fill="#f4ff00" d="M317.6 746.0L285.0 760.1L286.1 762.4Z"/><path fill="#eeff00" d="M317.6 746.0L285.8 761.8L287.0 764.1Z"/><path fill="#e8ff00" d="M317.6 746.0L286.7 763.4L288.0 765.6Z"/><path fill="#e1ff00" d="M317.6 746.0L287.6 765.0L289.1 767.2Z"/><path fill="#dbff00" d="M317.6 746.0L288.7 766.6L290.2 768.6Z"/><path fill="#d5ff00" d="M317.6 746.0L289.8 768.1L291.5 770.0Z"/><path fill="#cfff00" d="M317.6 746.0L291.0 769.5L292.8 771.4Z"/><path fill="#c8ff00" d="M317.6 746.0L292.2 770.8L294.1 772.6Z"/><path fill="#c0ff00" d="M317.6 746.0L293.6 772.1L295.5 773.8Z"/><path fill="#b8ff00" d="M317.6 746.0L295.0 773.4L297.0 774.9Z"/><path fill="#afff00" d="M317.6 746.0L296.4 774.5L298.6 776.0Z"/><path fill="#a7ff00" d="M317.6 746.0L298.0 775.6L300.2 776.9Z"/><path fill="#9fff00" d="M317.6 746.0L299.5 776.6L301.8 777.8Z"/><path fill="#97ff00" d="M317.6 746.0L301.2 777.5L303.5 778.6Z"/><path fill="#8fff00" d="M317.6 746.0L302.8 778.3L305.2 779.3Z"/><path fill="#87ff00" d="M317.6 746.0L304.5 779.0L307.0 779.9Z"/><path fill="#7eff00" d="M317.6 746.0L306.3 779.6L308.8 780.4Z"/><path fill="#76ff00" d="M317.6 746.0L308.1 780.2L310.6 780.8Z"/><path fill="#6eff00" d="M317.6 746.0L309.9 780.6L312.4 781.1Z"/><path fill="#66ff00" d="M317.6 746.0L311.7 781.0L314.3 781.3Z"/><path fill="#5eff00" d="M317.6 746.0L313.5 781.3L316.1 781.5Z"/><path fill="#56ff00" d="M317.6 746.0L315.4 781.4L318.0 781.5Z"/><path fill="#53ff00" d="M317.6 746.0L317.2 781.5L319.8 781.4Z"/><path fill="#56ff00" d="M317.6 746.0L319.1 781.5L321.7 781.3Z"/><path fill="#59ff00" d="M317.6 746.0L320.9 781.3L323.5 781.0Z"/><path fill="#5cff00" d="M317.6 746.0L322.8 781.1L325.3 780.6Z"/><path fill="#5fff00" d="M317.6 746.0L324.6 780.8L327.1 780.2Z"/><path fill="#62ff00" d="M317.6 746.0L326.4 780.4L328.9 779.6Z"/><path fill="#65ff00" d="M317.6 746.0L328.2 779.9L330.7 779.0Z"/><path fill="#7aff00" d="M317.6 746.0L330.0 779.3L332.4 778.3Z"/><path fill="#93ff00" d="M317.6 746.0L331.7 778.6L334.0 777.5Z"/><path fill="#abff00" d="M317.6 746.0L333.4 777.8L335.7 776.6Z"/><path fill="#c4ff00" d="M317.6 746.0L335.0 776.9L337.2 775.6Z"/><path fill="#dcff00" d="M317.6 746.0L336.6 776.0L338.8 774.5Z"/><path fill="#f5ff00" d="M317.6 746.0L338.2 774.9L340.2 773.4Z"/><path fill="#fff100" d="M317.6 746.0L339.7 773.8L341.6 772.1Z"/><path fill="#ffd800" d="M317.6 746.0L341.1 772.6L343.0 770.8Z"/><path fill="#ffc700" d="M317.6 746.0L342.4 771.4L344.2 769.5Z"/><path fill="#ffbd00" d="M317.6 746.0L343.7 770.0L345.4 768.1Z"/><path fill="#ffb300" d="M317.6 746.0L345.0 768.6L346.5 766.6Z"/><path fill="#ffa800" d="M317.6 746.0L346.1 767.2L347.6 765.0Z"/><path fill="#ff9e00" d="M317.6 746.0L347.2 765.6L348.5 763.4Z"/><path fill="#ff9d00" d="M317.6 746.0L348.2 764.1L349.4 761.8Z"/><path fill="#ffa500" d="M317.6 746.0L349.1 762.4L350.2 760.1Z"/><path fill="#ffad00" d="M317.6 746.0L349.9 760.8L350.9 758.4Z"/><path fill="#ffb600" d="M317.6 746.0L350.6 759.1L351.5 756.6Z"/><path fill="#ffbe00" d="M317.6 746.0L351.2 757.3L352.0 754.8Z"/><path fill="#ffc700" d="M317.6 746.0L351.8 755.5L352.4 753.0Z"/><path fill="#ffd100" d="M317.6 746.0L352.2 753.7L352.7 751.2Z"/><path fill="#ffdb00" d="M317.6 746.0L352.6 751.9L352.9 749.3Z"/><path fill="#ffe500" d="M317.6 746.0L352.9 750.1L353.1 747.5Z"/><path fill="#fff000" d="M317.6 746.0L353.0 748.2L353.1 745.6Z"/></g></g>
<g fill="none" stroke="#ffff00" stroke-width="3.4"><circle cx="317.60" cy="746.00" r="195.00"/><circle cx="317.60" cy="746.00" r="130.00"/><circle cx="317.60" cy="746.00" r="65.00"/><circle cx="317.60" cy="746.00" r="32.50"/><path d="M122.60 746.00H285.10M350.10 746.00H512.60M317.60 681.00V713.50M317.60 778.50V811.00M350.10 689.71L415.10 577.13M285.10 689.71L220.10 577.13M285.10 802.29L220.10 914.87M350.10 802.29L415.10 914.87"/></g>
<g font-family="Liberation Sans, Arial, sans-serif" font-weight="bold" font-size="23.5" fill="#000" text-anchor="middle"><text transform="translate(317.6 591.1) scale(0.87 1)">16</text><text transform="translate(176.9 672.4) scale(0.87 1)">79</text><text transform="translate(458.3 672.4) scale(0.87 1)">75</text><text transform="translate(176.9 834.9) scale(0.87 1)">29</text><text transform="translate(458.3 834.9) scale(0.87 1)">95</text><text transform="translate(317.6 916.1) scale(0.87 1)">85</text><text transform="translate(317.6 656.1) scale(0.87 1)">32</text><text transform="translate(233.2 704.9) scale(0.87 1)">14</text><text transform="translate(402.0 704.9) scale(0.87 1)">98</text><text transform="translate(233.2 802.4) scale(0.87 1)">65</text><text transform="translate(402.0 802.4) scale(0.87 1)">69</text><text transform="translate(317.6 851.1) scale(0.87 1)">97</text><text transform="translate(283.1 719.1) scale(0.87 1)">42</text><text transform="translate(352.1 719.1) scale(0.87 1)">73</text><text transform="translate(283.1 788.1) scale(0.87 1)">80</text><text transform="translate(352.1 788.1) scale(0.87 1)">62</text><text transform="translate(317.6 753.6) scale(0.87 1)">65</text></g>
<g font-family="Liberation Sans, Arial, sans-serif" font-size="23.5" fill="#ececec" text-anchor="middle" stroke="#000" stroke-width="3" paint-order="stroke"><text transform="translate(317.6 535.2) scale(0.88 1)">ANT_SEPT</text><text transform="translate(318.1 973.7) scale(0.88 1)">POST</text><text transform="translate(129.3 645.8) scale(0.88 1)">SEPT</text><text transform="translate(506.4 645.8) scale(0.88 1)">ANT</text><text transform="translate(127.6 865.0) scale(0.88 1)">INF</text><text transform="translate(506.4 864.8) scale(0.88 1)">LAT</text></g>
<g fill="none"><clipPath id="cB2"><circle cx="775.25" cy="746.90" r="194.70"/></clipPath><g clip-path="url(#cB2)"><g filter="url(#bl)" stroke-width="9"><path stroke="#bf0" d="M730 546h8M730 554h8M738 562h8M738 570h16M858 570h16M738 578h48M850 578h16M738 586h64M842 586h16M746 594h64M826 594h24M786 602h64M810 610h32M818 618h16M922 754h8M914 762h16M914 770h8M914 778h8M906 786h8M898 794h8M890 802h8M578 810h8M578 818h16M586 826h8M858 850h8M666 858h8M658 866h40M650 874h72M634 882h96M626 890h64M706 890h32M634 898h56M706 898h24M658 906h8M714 906h16M714 914h16M714 922h16M866 922h8M714 930h8M714 938h8"/><path stroke="#cf0" d="M738 546h64M738 554h64M746 562h56M842 562h24M754 570h56M826 570h32M786 578h64M802 586h40M810 594h16M930 754h32M970 754h8M930 762h16M922 770h16M922 778h8M914 786h8M906 794h8M898 802h8M890 810h8M882 818h8M866 842h8M858 858h8M858 866h8M858 874h8M858 882h8M690 890h16M858 890h16M690 898h16M866 898h8M642 906h16M666 906h48M866 906h8M650 914h64M874 914h8M666 922h48M874 922h8M682 930h32M698 938h16"/><path stroke="#df0" d="M802 546h24M802 554h48M802 562h40M810 570h16M962 754h8M946 762h32M938 770h40M930 778h32M922 786h24M914 794h8M874 834h8M866 850h8M866 858h8M866 866h16M866 874h16M866 882h24M874 890h16M874 898h24M874 906h24M882 914h16"/><path stroke="#9f0" d="M698 554h24M682 562h40M666 570h64M658 578h72M882 578h8M682 586h48M690 594h40M690 602h40M698 610h40M698 618h48M706 626h24M906 754h8M570 778h16M898 778h8M570 786h40M594 794h32M610 802h24M626 810h16M626 818h24M626 826h32M626 834h40M626 842h48M618 850h32M682 850h8M618 858h16M698 858h8M850 858h8M610 866h16M610 874h8M738 874h8M746 882h8M746 890h8M850 890h8M850 898h16M738 906h8M850 906h16M850 914h16M730 922h8M850 922h16M730 930h8M850 930h16M850 938h8"/><path stroke="#af0" d="M722 554h8M722 562h16M730 570h8M874 570h8M730 578h8M866 578h8M730 586h8M858 586h8M730 594h16M850 594h16M730 602h56M850 602h8M738 610h72M842 610h16M746 618h16M794 618h24M834 618h16M826 626h16M970 746h8M914 754h8M906 762h8M906 770h8M906 778h8M898 786h8M570 794h24M578 802h32M586 810h40M594 818h32M594 826h32M586 834h40M594 842h32M594 850h24M650 850h32M602 858h16M634 858h32M674 858h24M626 866h32M698 866h24M850 866h8M618 874h32M722 874h16M850 874h8M618 882h16M730 882h16M850 882h8M738 890h8M730 898h16M730 906h8M730 914h8M866 914h8M722 930h8M866 930h8M722 938h8M722 946h8"/><path stroke="#7f0" d="M874 578h8M866 586h16M890 586h8M866 594h8M858 602h8M618 610h16M858 610h8M610 618h32M762 618h32M850 618h8M610 626h40M810 626h8M842 626h8M602 634h56M714 634h8M826 634h8M842 634h8M594 642h80M698 642h8M594 650h96M586 658h88M586 666h72M578 674h64M578 682h64M578 690h56M578 698h56M570 706h64M570 714h64M570 722h64M570 730h64M570 738h64M570 746h64M914 746h32M626 754h16M626 762h16M626 770h16M898 770h8M634 778h8M634 786h16M642 794h8M650 802h8M882 810h8M658 818h8M666 826h8M874 826h8M674 834h8M682 842h8M842 858h8M826 866h16M802 874h24M754 882h8M794 882h16M754 890h8M794 890h8M754 898h8M794 898h8M754 906h8M794 906h16M746 914h8M802 914h8M746 922h8M802 922h16M738 930h8M810 930h8M738 938h8M810 938h16M738 946h8M818 946h8"/><path stroke="#8f0" d="M890 578h8M642 586h40M634 594h56M626 602h64M634 610h64M642 618h56M650 626h56M818 626h8M658 634h56M834 634h8M674 642h24M970 738h8M946 746h24M570 754h56M570 762h56M570 770h56M586 778h48M610 786h24M626 794h16M634 802h16M642 810h16M650 818h8M658 826h8M666 834h8M674 842h8M690 850h8M842 866h8M826 874h24M810 882h40M802 890h48M746 898h8M802 898h48M746 906h8M810 906h40M738 914h8M810 914h40M738 922h8M818 922h32M818 930h32M730 938h8M826 938h24M730 946h8M826 946h8"/><path stroke="#6f0" d="M882 586h8M898 586h8M874 594h24M866 602h24M866 610h16M858 618h16M730 626h80M850 626h16M722 634h8M818 634h8M850 634h8M706 642h16M826 642h8M690 650h32M674 658h24M658 666h16M642 674h24M642 682h24M634 690h24M634 698h24M634 706h16M634 714h16M634 722h16M634 730h16M970 730h8M634 738h8M922 738h48M634 746h8M906 746h8M890 754h16M642 762h8M882 762h24M642 770h8M810 770h24M882 770h16M642 778h8M802 778h32M882 778h16M794 786h32M882 786h16M650 794h8M786 794h32M874 794h24M786 802h24M874 802h16M874 810h8M874 818h8M866 826h8M866 834h8M706 858h8M722 866h8M762 882h8M786 882h8M762 890h32M762 898h32M762 906h32M754 914h48M754 922h48M746 930h64M746 938h64M746 946h72"/><path stroke="#5f0" d="M898 594h16M890 602h24M882 610h24M874 618h24M866 626h24M730 634h88M858 634h24M722 642h104M834 642h40M722 650h8M698 658h32M674 666h64M666 674h72M666 682h88M658 690h104M658 698h112M650 706h112M954 706h24M650 714h112M938 714h40M650 722h104M922 722h56M650 730h96M914 730h56M642 738h104M906 738h16M642 746h64M642 754h8M810 754h24M866 754h24M802 762h40M858 762h24M802 770h8M858 770h24M786 778h16M858 778h24M778 786h16M858 786h24M778 794h8M858 794h16M658 802h16M778 802h8M858 802h16M658 810h24M778 810h16M858 810h16M666 818h16M858 818h16M858 826h8M858 834h8M858 842h8M850 850h8M714 858h8M730 866h8M770 882h16"/><path stroke="#4f0" d="M914 602h8M906 610h24M898 618h40M890 626h48M882 634h48M874 642h48M730 650h104M858 650h48M730 658h96M738 666h80M738 674h72M754 682h40M954 682h16M762 690h16M930 690h40M770 698h8M922 698h56M762 706h16M914 706h40M762 714h16M914 714h24M754 722h32M906 722h16M746 730h32M906 730h8M746 738h24M706 746h56M890 746h16M650 754h104M834 754h32M650 762h96M842 762h16M650 770h104M834 770h24M650 778h104M834 778h24M650 786h104M770 786h8M826 786h32M658 794h64M730 794h24M762 794h16M818 794h40M674 802h48M770 802h8M810 802h16M842 802h16M682 810h32M794 810h24M842 810h16M682 818h24M850 818h8M674 826h24M850 826h8M682 834h16M850 834h8M690 842h8M850 842h8M698 850h24M842 850h8M722 858h16M826 858h16M738 866h8M810 866h16M746 874h8"/><path stroke="#3f0" d="M938 626h8M930 634h16M922 642h32M834 650h24M906 650h48M826 658h136M818 666h144M810 674h160M794 682h160M778 690h24M810 690h120M778 698h16M818 698h104M778 706h16M826 706h88M778 714h24M826 714h88M786 722h24M818 722h88M778 730h128M770 738h136M762 746h128M754 754h56M746 762h56M754 770h48M754 778h32M754 786h16M722 794h8M754 794h8M722 802h48M826 802h16M714 810h64M818 810h24M706 818h56M786 818h64M698 826h56M794 826h56M698 834h56M794 834h56M698 842h56M794 842h56M722 850h32M794 850h48M738 858h16M794 858h32M746 866h8M794 866h16M754 874h16M786 874h16"/><path stroke="#2f0" d="M802 690h8M794 698h24M794 706h32M802 714h24M810 722h8M762 818h24M754 826h40M754 834h40M754 842h40M754 850h40M754 858h40M754 866h40M770 874h16"/><path stroke="#ef0" d="M962 778h16M946 786h32M922 794h32M906 802h8M898 810h8M890 818h8M882 826h8M882 834h8M874 842h8M874 850h8M874 858h8M882 866h8M882 874h16M890 882h8M890 890h16M898 898h8M898 906h8"/><path stroke="#ff0" d="M954 794h24M914 802h24M970 802h8M906 810h8M898 818h8M890 826h8M882 842h8M882 850h8M882 858h16M890 866h8M898 874h8M898 882h8M906 890h8M906 898h8"/><path stroke="#fe0" d="M938 802h32M914 810h8M898 826h8M890 834h8M890 842h8M890 850h8M898 858h8M898 866h8M906 874h8M906 882h8M914 890h8"/><path stroke="#fd0" d="M922 810h48M906 818h16M906 826h8M898 834h8M898 842h8M898 850h8M906 858h8M906 866h8M914 874h8M914 882h16"/><path stroke="#fc0" d="M922 818h48M914 826h8M906 834h16M906 842h16M906 850h16M914 858h8M914 866h16M922 874h8"/><path stroke="#fb0" d="M922 826h48M922 834h8M922 842h8M922 850h8M922 858h16M930 866h16M930 874h8"/><path stroke="#fa0" d="M930 834h32M930 842h32M930 850h24M938 858h8"/></g></g></g>

<g fill="none" stroke="#ffff00" stroke-width="3.4"><circle cx="775.25" cy="746.90" r="194.70"/><circle cx="775.25" cy="746.90" r="129.80"/><circle cx="775.25" cy="746.90" r="64.90"/><circle cx="775.25" cy="746.90" r="32.45"/><path d="M580.55 746.90H742.80M807.70 746.90H969.95M775.25 682.00V714.45M775.25 779.35V811.80M807.70 690.69L872.60 578.28M742.80 690.69L677.90 578.28M742.80 803.11L677.90 915.52M807.70 803.11L872.60 915.52"/></g>
<g font-family="Liberation Sans, Arial, sans-serif" font-weight="bold" font-size="23.5" fill="#000" text-anchor="middle"><text transform="translate(775.2 592.3) scale(0.87 1)">81</text><text transform="translate(634.7 673.4) scale(0.87 1)">91</text><text transform="translate(915.8 673.4) scale(0.87 1)">98</text><text transform="translate(634.7 835.6) scale(0.87 1)">84</text><text transform="translate(915.8 835.6) scale(0.87 1)">66</text><text transform="translate(775.2 916.8) scale(0.87 1)">96</text><text transform="translate(775.2 657.2) scale(0.87 1)">96</text><text transform="translate(690.9 705.8) scale(0.87 1)">89</text><text transform="translate(859.6 705.8) scale(0.87 1)">94</text><text transform="translate(690.9 803.2) scale(0.87 1)">99</text><text transform="translate(859.6 803.2) scale(0.87 1)">97</text><text transform="translate(775.2 851.9) scale(0.87 1)">100</text><text transform="translate(740.8 720.1) scale(0.87 1)">90</text><text transform="translate(809.7 720.1) scale(0.87 1)">94</text><text transform="translate(740.8 788.9) scale(0.87 1)">93</text><text transform="translate(809.7 788.9) scale(0.87 1)">84</text><text transform="translate(775.2 754.5) scale(0.87 1)">90</text></g>
<g font-family="Liberation Sans, Arial, sans-serif" font-size="23.5" fill="#ececec" text-anchor="middle" stroke="#000" stroke-width="3" paint-order="stroke"><text transform="translate(775.2 536.1) scale(0.88 1)">ANT_SEPT</text><text transform="translate(775.8 974.6) scale(0.88 1)">POST</text><text transform="translate(587.0 646.7) scale(0.88 1)">SEPT</text><text transform="translate(964.0 646.7) scale(0.88 1)">ANT</text><text transform="translate(585.2 865.9) scale(0.88 1)">INF</text><text transform="translate(964.0 865.7) scale(0.88 1)">LAT</text></g>
<g fill="none"><clipPath id="cC2"><circle cx="1231.00" cy="746.60" r="194.50"/></clipPath><g clip-path="url(#cC2)"><g filter="url(#bl)" stroke-width="9"><path stroke="#f50" d="M1178 546h16M1258 546h16M1170 554h24M1258 554h16M1178 562h16M1258 562h16M1178 570h16M1258 570h16M1178 578h16M1258 578h8M1186 586h8M1258 586h8M1186 594h8M1258 594h8M1186 602h8M1178 610h16M1266 610h8M1178 618h8M1266 618h8M1170 626h8M1266 626h8M1162 634h8M1266 634h16M1154 642h8M1266 642h8M1146 650h8M1266 650h8M1146 658h8M1266 658h8M1138 666h8M1258 666h8M1130 674h16M1258 674h8M1130 682h16M1250 682h8M1130 690h16M1234 690h8M1130 698h8M1234 698h8M1130 706h8M1226 706h8M1130 714h8M1226 714h8M1130 722h8M1218 722h8M1138 730h8M1210 730h8M1146 738h8M1202 738h8M1154 746h16M1194 746h8M1170 754h16"/><path stroke="#f40" d="M1194 546h24M1242 546h16M1194 554h24M1242 554h16M1194 562h24M1242 562h16M1194 570h16M1242 570h16M1194 578h16M1250 578h8M1194 586h16M1250 586h8M1194 594h8M1250 594h8M1194 602h8M1258 602h8M1194 610h8M1258 610h8M1186 618h8M1258 618h8M1178 626h8M1258 626h8M1258 634h8M1258 642h8M1154 650h8M1258 650h8M1154 658h8M1258 658h8M1146 666h16M1146 674h16M1250 674h8M1146 682h16M1226 682h8M1242 682h8M1146 690h16M1218 690h16M1138 698h24M1218 698h16M1138 706h16M1218 706h8M1138 714h16M1210 714h16M1138 722h16M1210 722h8M1146 730h8M1202 730h8M1154 738h48M1170 746h24"/><path stroke="#f30" d="M1218 546h24M1218 554h24M1218 562h24M1210 570h32M1210 578h40M1210 586h40M1202 594h24M1234 594h16M1202 602h16M1242 602h16M1202 610h8M1250 610h8M1194 618h8M1250 618h8M1250 626h8M1170 634h8M1250 634h8M1162 642h16M1250 642h8M1162 650h8M1250 650h8M1162 658h8M1250 658h8M1162 666h8M1250 666h8M1162 674h16M1242 674h8M1162 682h16M1234 682h8M1162 690h16M1202 690h16M1162 698h56M1154 706h64M1154 714h56M1154 722h56M1154 730h48"/><path stroke="#f60" d="M1274 546h8M1154 554h16M1274 554h24M1154 562h24M1274 562h16M1154 570h24M1274 570h16M1162 578h16M1266 578h16M1162 586h24M1266 586h16M1170 594h16M1266 594h16M1170 602h16M1266 602h8M1170 610h8M1162 618h16M1162 626h8M1274 626h8M1282 634h8M1274 642h16M1274 650h8M1138 658h8M1130 666h8M1266 666h8M1122 674h8M1122 682h8M1258 682h8M1114 690h16M1242 690h16M1114 698h16M1242 698h8M1114 706h16M1234 706h8M1114 714h16M1114 722h16M1122 730h16M1130 738h16M1146 746h8M1186 754h16M1170 762h24M1050 826h24M1042 834h32M1050 842h16M1050 850h8"/><path stroke="#f70" d="M1298 554h8M1138 562h16M1290 562h16M1122 570h32M1290 570h16M1130 578h32M1282 578h16M1138 586h24M1282 586h16M1146 594h24M1282 594h8M1146 602h24M1274 602h16M1154 610h16M1274 610h8M1154 618h8M1274 618h8M1282 650h8M1274 658h8M1266 674h8M1258 690h8M1250 698h8M1106 706h8M1242 706h8M1106 714h8M1234 714h16M1106 722h8M1226 722h8M1106 730h16M1218 730h8M1106 738h24M1210 738h8M1138 746h8M1202 746h8M1194 762h8M1170 770h24M1058 810h24M1042 818h48M1042 826h8M1074 826h16M1074 834h16M1066 842h24M1058 850h24M1058 858h16"/><path stroke="#f80" d="M1306 562h16M1306 570h16M1114 578h16M1298 578h16M1298 586h16M1290 594h16M1290 602h8M1282 610h16M1282 618h8M1154 626h8M1282 626h8M1154 634h8M1290 634h8M1258 698h8M1250 706h8M1234 722h8M1226 730h8M1098 738h8M1218 738h8M1098 746h40M1210 746h8M1202 754h8M1194 770h8M1178 778h8M1058 802h32M1042 810h16M1082 810h8M1034 818h8M1090 818h8M1090 826h8M1090 834h8M1090 842h8M1082 850h16M1074 858h16M1066 866h16"/><path stroke="#f90" d="M1322 570h16M1314 578h16M1130 586h8M1314 586h8M1138 594h8M1306 594h16M1138 602h8M1298 602h16M1146 610h8M1298 610h8M1146 618h8M1290 618h8M1146 626h8M1290 626h8M1146 634h8M1138 642h16M1130 650h16M1130 658h8M1122 666h8M1266 698h8M1258 706h8M1250 714h8M1242 722h8M1162 754h8M1202 762h8M1186 778h8M1058 786h32M1178 786h8M1050 794h40M1034 802h24M1090 802h8M1034 810h8M1090 810h8M1098 826h8M1098 834h8M1098 842h8M1098 850h8M1090 858h16M1082 866h24M1066 874h32M1074 882h24M1082 890h8"/><path stroke="#fb0" d="M1330 578h8M1322 586h24M1354 586h8M1090 594h24M1322 594h32M1098 602h24M1314 602h24M1098 610h24M1306 610h8M1098 618h24M1098 626h24M1106 634h16M1106 642h16M1290 642h8M1106 650h16M1106 658h8M1106 666h8M1106 674h8M1106 682h8M1098 690h16M1098 698h8M1098 706h8M1274 706h8M1090 714h16M1266 714h8M1090 722h8M1258 722h8M1090 730h8M1242 730h8M1090 738h8M1026 746h8M1082 746h16M1026 754h32M1098 754h24M1146 754h8M1026 762h16M1210 762h8M1026 770h8M1098 770h8M1098 778h8M1202 778h8M1098 786h8M1194 786h8M1098 794h8M1186 794h8M1098 802h8M1106 818h8M1106 826h8M1114 842h8M1122 850h8M1122 858h8M1122 866h8M1114 874h16M1114 882h8M1106 890h16M1106 898h8M1098 906h8"/><path stroke="#fa0" d="M1338 578h16M1098 586h32M1346 586h8M1114 594h24M1122 602h16M1122 610h24M1122 618h24M1298 618h8M1122 626h24M1122 634h24M1122 642h16M1122 650h8M1114 658h16M1114 666h8M1114 674h8M1114 682h8M1106 698h8M1266 706h8M1258 714h8M1098 722h8M1250 722h8M1098 730h8M1234 730h8M1226 738h8M1218 746h8M1058 754h40M1154 754h8M1210 754h8M1042 762h64M1162 762h8M1034 770h64M1202 770h8M1026 778h72M1194 778h8M1026 786h32M1090 786h8M1186 786h8M1034 794h16M1090 794h8M1098 810h8M1098 818h8M1106 834h8M1106 842h8M1106 850h16M1106 858h16M1106 866h16M1098 874h16M1098 882h16M1090 890h16M1090 898h16"/><path stroke="#f20" d="M1226 594h8M1218 602h24M1210 610h40M1202 618h16M1234 618h16M1186 626h24M1242 626h8M1178 634h32M1242 634h8M1178 642h24M1242 642h8M1170 650h32M1242 650h8M1170 658h32M1242 658h8M1170 666h32M1242 666h8M1178 674h32M1226 674h16M1178 682h48M1178 690h24"/><path stroke="#fc0" d="M1354 594h8M1090 602h8M1338 602h16M1090 610h8M1314 610h24M1090 618h8M1306 618h16M1090 626h8M1298 626h8M1098 634h8M1298 634h8M1098 642h8M1298 642h8M1098 650h8M1290 650h8M1098 658h8M1282 658h8M1098 666h8M1274 666h8M1098 674h8M1090 682h16M1266 682h8M1090 690h8M1266 690h8M1082 698h16M1082 706h16M1082 714h8M1274 714h8M1074 722h16M1266 722h8M1074 730h16M1250 730h8M1026 738h64M1234 738h8M1034 746h48M1226 746h8M1122 754h24M1218 754h8M1106 762h24M1146 762h16M1106 770h8M1162 770h8M1210 770h8M1170 778h8M1210 778h8M1202 786h8M1106 794h8M1194 794h8M1106 802h8M1106 810h8M1114 834h8M1130 858h8M1130 866h8M1130 874h8M1122 882h16M1122 890h16M1114 898h16M1106 906h16"/><path stroke="#fd0" d="M1362 594h8M1082 602h8M1354 602h8M1082 610h8M1338 610h16M1082 618h8M1322 618h16M1082 626h8M1306 626h24M1082 634h16M1306 634h16M1082 642h16M1306 642h8M1082 650h16M1298 650h8M1082 658h16M1290 658h8M1082 666h16M1282 666h8M1074 674h24M1274 674h8M1074 682h16M1074 690h16M1074 698h8M1066 706h16M1058 714h24M1026 722h48M1274 722h8M1026 730h48M1258 730h8M1130 762h16M1114 770h24M1146 770h16M1106 778h16M1162 778h8M1106 786h8M1210 786h8M1202 794h8M1194 802h8M1114 818h8M1114 826h8M1122 842h8M1130 850h8M1138 858h8M1138 866h8M1138 874h16M1138 882h16M1138 890h8M1130 898h16M1122 906h16M1114 914h24"/><path stroke="#ff0" d="M1362 602h8M1074 610h8M1354 610h8M1074 618h8M1346 618h8M1338 626h8M1330 634h8M1322 642h8M1322 650h8M1050 658h8M1306 658h8M1050 666h8M1298 666h8M1034 674h16M1290 674h8M1034 682h16M1282 682h8M1034 690h8M1282 722h8M1274 730h16M1250 738h8M1266 738h8M1218 770h8M1130 786h40M1218 786h8M1122 794h16M1178 794h8M1218 794h8M1114 802h16M1210 802h8M1114 810h8M1122 826h8M1146 858h8M1154 866h8M1154 874h24M1162 882h32M1170 890h32M1178 898h24M1178 906h24M1178 914h16M1186 922h8M1178 930h16M1178 938h16M1178 946h8"/><path stroke="#df0" d="M1370 602h8M1362 610h8M1354 618h8M1346 634h8M1338 642h8M1338 650h8M1330 658h8M1306 666h8M1298 674h8M1290 690h8M1282 706h8M1290 738h8M1266 746h16M1234 754h8M1226 770h8M1226 786h8M1154 794h8M1226 794h8M1138 802h16M1170 802h16M1226 802h8M1130 810h8M1194 810h16M1122 818h8M1194 874h8M1210 890h16M1218 898h24M1210 906h40M1210 914h48M1210 922h48M1210 930h56M1202 938h64M1202 946h72"/><path stroke="#bf0" d="M1370 610h8M1362 618h8M1354 634h8M1346 650h8M1346 658h8M1338 666h8M1298 690h8M1290 706h8M1290 714h8M1258 746h8M1242 754h8M1154 810h24M1146 818h8M1186 818h24M1138 826h8M1218 882h16M1250 890h16M1258 898h16M1266 906h8M1266 914h16M1274 922h8M1274 930h16M1282 938h8"/><path stroke="#9f0" d="M1378 610h8M1370 618h8M1370 626h8M1362 634h8M1362 642h8M1362 650h8M1354 666h8M1346 674h8M1298 706h8M1298 714h8M1258 754h8M1242 762h8M1218 818h8M1154 826h56M1146 834h16M1146 842h8M1338 842h32M1154 850h8M1322 850h56M1162 858h24M1314 858h80M1186 866h8M1282 866h48M1338 866h64M1258 874h8M1354 874h40M1370 882h16"/><path stroke="#ef0" d="M1066 618h8M1066 626h8M1346 626h8M1058 634h8M1338 634h8M1050 642h16M1330 642h8M1050 650h8M1330 650h8M1042 658h8M1314 658h16M1042 666h8M1290 682h8M1282 690h8M1282 698h8M1258 738h8M1274 738h16M1242 746h8M1226 762h8M1138 794h16M1162 794h16M1130 802h8M1186 802h8M1218 802h8M1122 810h8M1218 810h8M1130 834h8M1138 842h8M1146 850h8M1154 858h8M1162 866h16M1178 874h16M1194 882h16M1202 890h8M1202 898h16M1202 906h8M1194 914h16M1194 922h16M1194 930h16M1194 938h8M1186 946h16"/><path stroke="#f10" d="M1218 618h16M1210 626h32M1210 634h32M1202 642h40M1202 650h40M1202 658h40M1202 666h40M1210 674h16"/><path stroke="#fe0" d="M1338 618h8M1074 626h8M1330 626h8M1066 634h16M1322 634h8M1066 642h16M1314 642h8M1058 650h24M1306 650h16M1058 658h24M1298 658h8M1058 666h24M1290 666h8M1050 674h24M1282 674h8M1050 682h24M1274 682h8M1042 690h32M1274 690h8M1034 698h40M1274 698h8M1026 706h40M1026 714h32M1282 714h8M1266 730h8M1242 738h8M1234 746h8M1226 754h8M1218 762h8M1138 770h8M1122 778h40M1218 778h8M1114 786h16M1170 786h8M1114 794h8M1210 794h8M1202 802h8M1122 834h8M1130 842h8M1138 850h8M1146 866h8M1154 882h8M1146 890h24M1146 898h32M1138 906h40M1138 914h40M1122 922h64M1138 930h40M1154 938h24"/><path stroke="#8f0" d="M1378 618h8M1378 626h8M1370 634h8M1370 642h8M1370 650h8M1362 658h8M1362 666h8M1322 674h8M1354 674h8M1314 682h8M1306 690h8M1298 722h8M1298 730h8M1298 738h8M1298 746h8M1250 762h8M1242 770h8M1418 778h16M1402 786h32M1386 794h48M1370 802h56M1354 810h72M1226 818h8M1346 818h80M1210 826h8M1338 826h80M1162 834h40M1338 834h80M1154 842h32M1330 842h8M1370 842h48M1162 850h24M1314 850h8M1378 850h32M1186 858h8M1306 858h8M1394 858h8M1194 866h8"/><path stroke="#7f0" d="M1386 618h8M1386 626h8M1378 634h16M1378 642h16M1378 650h8M1370 658h8M1370 666h8M1330 674h8M1362 674h8M1346 682h8M1314 690h8M1306 698h8M1306 706h8M1306 714h8M1306 722h8M1306 730h8M1426 730h8M1306 738h8M1402 738h32M1306 746h8M1386 746h48M1298 754h8M1370 754h64M1370 762h64M1370 770h64M1362 778h56M1362 786h40M1362 794h24M1354 802h16M1346 810h8M1338 818h8M1218 826h8M1202 834h8M1330 834h8M1186 842h16M1322 842h8M1186 850h16M1194 858h8M1298 858h8"/><path stroke="#cf0" d="M1354 626h8M1346 642h8M1338 658h8M1314 666h8M1330 666h8M1306 674h8M1298 682h8M1290 698h8M1250 746h8M1282 746h16M1234 762h8M1226 778h8M1154 802h16M1138 810h16M1178 810h16M1210 810h8M1226 810h8M1130 818h16M1130 826h8M1202 874h8M1210 882h8M1226 890h24M1242 898h16M1250 906h16M1258 914h8M1258 922h16M1266 930h8M1266 938h16M1274 946h8"/><path stroke="#af0" d="M1362 626h8M1354 642h8M1354 650h8M1354 658h8M1322 666h8M1346 666h8M1314 674h8M1338 674h8M1306 682h8M1298 698h8M1290 722h8M1290 730h8M1250 754h8M1234 770h8M1234 778h8M1154 818h32M1210 818h8M1146 826h8M1138 834h8M1178 866h8M1330 866h8M1266 874h88M1234 882h136M1266 890h112M1274 898h96M1274 906h88M1282 914h72M1282 922h56M1290 930h32M1290 938h16"/><path stroke="#6f0" d="M1394 626h8M1394 634h8M1394 642h16M1386 650h24M1378 658h24M1378 666h8M1370 674h8M1322 682h8M1354 682h16M1314 698h8M1418 698h16M1402 706h32M1386 714h48M1378 722h56M1314 730h8M1370 730h56M1314 738h8M1370 738h32M1314 746h8M1370 746h16M1266 754h32M1306 754h8M1362 754h8M1290 762h16M1362 762h8M1362 770h8M1354 778h8M1234 786h8M1354 786h8M1234 794h8M1354 794h8M1234 802h8M1346 802h8M1234 810h16M1234 818h8M1226 826h8M1330 826h8M1210 834h8M1202 842h8M1202 850h8M1306 850h8M1202 866h8M1274 866h8"/><path stroke="#5f0" d="M1402 658h16M1386 666h32M1378 674h48M1330 682h16M1370 682h56M1322 690h8M1346 690h80M1322 698h8M1362 698h56M1314 706h8M1370 706h32M1314 714h8M1362 714h24M1314 722h16M1362 722h16M1322 730h8M1362 730h8M1322 738h8M1362 738h8M1322 746h8M1362 746h8M1314 754h16M1258 762h32M1306 762h16M1354 762h8M1290 770h16M1354 770h8M1242 778h8M1242 786h8M1242 794h8M1242 802h8M1242 818h8M1234 826h8M1218 834h16M1210 842h8M1210 850h8M1202 858h8M1290 858h8M1210 866h8M1266 866h8M1210 874h8M1250 874h8"/><path stroke="#4f0" d="M1330 690h16M1330 698h32M1322 706h48M1322 714h40M1330 722h32M1330 730h32M1330 738h32M1330 746h32M1330 754h32M1322 762h32M1250 770h40M1306 770h48M1250 778h8M1282 778h72M1250 786h8M1290 786h64M1250 794h8M1314 794h40M1250 802h8M1322 802h24M1250 810h16M1330 810h16M1250 818h8M1330 818h8M1242 826h16M1234 834h16M1322 834h8M1218 842h16M1314 842h8M1218 850h8M1282 850h24M1210 858h16M1258 858h32M1218 866h8M1250 866h16M1218 874h32"/><path stroke="#3f0" d="M1258 778h24M1258 786h32M1258 794h56M1258 802h64M1266 810h64M1258 818h72M1258 826h72M1250 834h72M1234 842h80M1226 850h56M1226 858h32M1226 866h24"/></g></g></g>
<clipPath id="ccC2"><circle cx="1231.00" cy="746.60" r="32.42"/></clipPath><g clip-path="url(#ccC2)"><g filter="url(#bl2)"><path fill="#deff00" d="M1231.0 746.6L1266.4 747.0L1266.3 744.4Z"/><path fill="#fffb00" d="M1231.0 746.6L1266.4 745.1L1266.2 742.5Z"/><path fill="#ffee00" d="M1231.0 746.6L1266.3 743.3L1265.9 740.7Z"/><path fill="#ffe600" d="M1231.0 746.6L1266.0 741.4L1265.6 738.9Z"/><path fill="#ffde00" d="M1231.0 746.6L1265.7 739.6L1265.1 737.1Z"/><path fill="#ffd600" d="M1231.0 746.6L1265.3 737.8L1264.6 735.3Z"/><path fill="#ffcd00" d="M1231.0 746.6L1264.8 736.0L1263.9 733.6Z"/><path fill="#ffc500" d="M1231.0 746.6L1264.2 734.3L1263.2 731.9Z"/><path fill="#ffbc00" d="M1231.0 746.6L1263.5 732.5L1262.4 730.2Z"/><path fill="#ffb400" d="M1231.0 746.6L1262.7 730.9L1261.5 728.6Z"/><path fill="#ffab00" d="M1231.0 746.6L1261.9 729.2L1260.5 727.0Z"/><path fill="#ffa300" d="M1231.0 746.6L1260.9 727.6L1259.4 725.5Z"/><path fill="#ff9a00" d="M1231.0 746.6L1259.9 726.1L1258.3 724.0Z"/><path fill="#ff9100" d="M1231.0 746.6L1258.8 724.6L1257.1 722.6Z"/><path fill="#ff8900" d="M1231.0 746.6L1257.6 723.2L1255.8 721.3Z"/><path fill="#ff8200" d="M1231.0 746.6L1256.3 721.8L1254.4 720.0Z"/><path fill="#ff7b00" d="M1231.0 746.6L1255.0 720.5L1253.0 718.8Z"/><path fill="#ff7500" d="M1231.0 746.6L1253.6 719.3L1251.5 717.7Z"/><path fill="#ff6f00" d="M1231.0 746.6L1252.1 718.2L1250.0 716.7Z"/><path fill="#ff6900" d="M1231.0 746.6L1250.6 717.1L1248.4 715.7Z"/><path fill="#ff6300" d="M1231.0 746.6L1249.0 716.1L1246.7 714.9Z"/><path fill="#ff5d00" d="M1231.0 746.6L1247.4 715.2L1245.1 714.1Z"/><path fill="#ff5700" d="M1231.0 746.6L1245.7 714.4L1243.3 713.4Z"/><path fill="#ff5100" d="M1231.0 746.6L1244.0 713.7L1241.6 712.8Z"/><path fill="#ff4e00" d="M1231.0 746.6L1242.3 713.0L1239.8 712.3Z"/><path fill="#ff4b00" d="M1231.0 746.6L1240.5 712.5L1238.0 711.9Z"/><path fill="#ff4800" d="M1231.0 746.6L1238.7 712.0L1236.2 711.6Z"/><path fill="#ff4500" d="M1231.0 746.6L1236.9 711.7L1234.3 711.3Z"/><path fill="#ff4200" d="M1231.0 746.6L1235.1 711.4L1232.5 711.2Z"/><path fill="#ff3f00" d="M1231.0 746.6L1233.2 711.3L1230.6 711.2Z"/><path fill="#ff3d00" d="M1231.0 746.6L1231.4 711.2L1228.8 711.3Z"/><path fill="#ff3c00" d="M1231.0 746.6L1229.5 711.2L1226.9 711.4Z"/><path fill="#ff3c00" d="M1231.0 746.6L1227.7 711.3L1225.1 711.7Z"/><path fill="#ff3b00" d="M1231.0 746.6L1225.8 711.6L1223.3 712.0Z"/><path fill="#ff3b00" d="M1231.0 746.6L1224.0 711.9L1221.5 712.5Z"/><path fill="#ff3a00" d="M1231.0 746.6L1222.2 712.3L1219.7 713.0Z"/><path fill="#ff3a00" d="M1231.0 746.6L1220.4 712.8L1218.0 713.7Z"/><path fill="#ff3900" d="M1231.0 746.6L1218.7 713.4L1216.3 714.4Z"/><path fill="#ff3900" d="M1231.0 746.6L1216.9 714.1L1214.6 715.2Z"/><path fill="#ff3800" d="M1231.0 746.6L1215.3 714.9L1213.0 716.1Z"/><path fill="#ff3800" d="M1231.0 746.6L1213.6 715.7L1211.4 717.1Z"/><path fill="#ff3700" d="M1231.0 746.6L1212.0 716.7L1209.9 718.2Z"/><path fill="#ff3700" d="M1231.0 746.6L1210.5 717.7L1208.4 719.3Z"/><path fill="#ff3600" d="M1231.0 746.6L1209.0 718.8L1207.0 720.5Z"/><path fill="#ff3600" d="M1231.0 746.6L1207.6 720.0L1205.7 721.8Z"/><path fill="#ff3500" d="M1231.0 746.6L1206.2 721.3L1204.4 723.2Z"/><path fill="#ff3500" d="M1231.0 746.6L1204.9 722.6L1203.2 724.6Z"/><path fill="#ff3400" d="M1231.0 746.6L1203.7 724.0L1202.1 726.1Z"/><path fill="#ff3400" d="M1231.0 746.6L1202.6 725.5L1201.1 727.6Z"/><path fill="#ff3300" d="M1231.0 746.6L1201.5 727.0L1200.1 729.2Z"/><path fill="#ff3300" d="M1231.0 746.6L1200.5 728.6L1199.3 730.9Z"/><path fill="#ff3300" d="M1231.0 746.6L1199.6 730.2L1198.5 732.5Z"/><path fill="#ff3300" d="M1231.0 746.6L1198.8 731.9L1197.8 734.3Z"/><path fill="#ff3300" d="M1231.0 746.6L1198.1 733.6L1197.2 736.0Z"/><path fill="#ff3300" d="M1231.0 746.6L1197.4 735.3L1196.7 737.8Z"/><path fill="#ff3300" d="M1231.0 746.6L1196.9 737.1L1196.3 739.6Z"/><path fill="#ff3300" d="M1231.0 746.6L1196.4 738.9L1196.0 741.4Z"/><path fill="#ff3300" d="M1231.0 746.6L1196.1 740.7L1195.7 743.3Z"/><path fill="#ff3300" d="M1231.0 746.6L1195.8 742.5L1195.6 745.1Z"/><path fill="#ff3300" d="M1231.0 746.6L1195.7 744.4L1195.6 747.0Z"/><path fill="#ff3200" d="M1231.0 746.6L1195.6 746.2L1195.7 748.8Z"/><path fill="#ff3000" d="M1231.0 746.6L1195.6 748.1L1195.8 750.7Z"/><path fill="#ff2e00" d="M1231.0 746.6L1195.7 749.9L1196.1 752.5Z"/><path fill="#ff2c00" d="M1231.0 746.6L1196.0 751.8L1196.4 754.3Z"/><path fill="#ff2a00" d="M1231.0 746.6L1196.3 753.6L1196.9 756.1Z"/><path fill="#ff2800" d="M1231.0 746.6L1196.7 755.4L1197.4 757.9Z"/><path fill="#ff2600" d="M1231.0 746.6L1197.2 757.2L1198.1 759.6Z"/><path fill="#ff2400" d="M1231.0 746.6L1197.8 758.9L1198.8 761.3Z"/><path fill="#ff2200" d="M1231.0 746.6L1198.5 760.7L1199.6 763.0Z"/><path fill="#ff2000" d="M1231.0 746.6L1199.3 762.3L1200.5 764.6Z"/><path fill="#ff1e00" d="M1231.0 746.6L1200.1 764.0L1201.5 766.2Z"/><path fill="#ff1c00" d="M1231.0 746.6L1201.1 765.6L1202.6 767.7Z"/><path fill="#ff1a00" d="M1231.0 746.6L1202.1 767.1L1203.7 769.2Z"/><path fill="#ff1700" d="M1231.0 746.6L1203.2 768.6L1204.9 770.6Z"/><path fill="#ff1500" d="M1231.0 746.6L1204.4 770.0L1206.2 771.9Z"/><path fill="#ff1e00" d="M1231.0 746.6L1205.7 771.4L1207.6 773.2Z"/><path fill="#ff3200" d="M1231.0 746.6L1207.0 772.7L1209.0 774.4Z"/><path fill="#ff4600" d="M1231.0 746.6L1208.4 773.9L1210.5 775.5Z"/><path fill="#ff5a00" d="M1231.0 746.6L1209.9 775.0L1212.0 776.5Z"/><path fill="#ff6e00" d="M1231.0 746.6L1211.4 776.1L1213.6 777.5Z"/><path fill="#ff8200" d="M1231.0 746.6L1213.0 777.1L1215.3 778.3Z"/><path fill="#ff9600" d="M1231.0 746.6L1214.6 778.0L1216.9 779.1Z"/><path fill="#ffaa00" d="M1231.0 746.6L1216.3 778.8L1218.7 779.8Z"/><path fill="#ffbe00" d="M1231.0 746.6L1218.0 779.5L1220.4 780.4Z"/><path fill="#ffd300" d="M1231.0 746.6L1219.7 780.2L1222.2 780.9Z"/><path fill="#ffe700" d="M1231.0 746.6L1221.5 780.7L1224.0 781.3Z"/><path fill="#fffc00" d="M1231.0 746.6L1223.3 781.2L1225.8 781.6Z"/><path fill="#eeff00" d="M1231.0 746.6L1225.1 781.5L1227.7 781.9Z"/><path fill="#daff00" d="M1231.0 746.6L1226.9 781.8L1229.5 782.0Z"/><path fill="#c5ff00" d="M1231.0 746.6L1228.8 781.9L1231.4 782.0Z"/><path fill="#b1ff00" d="M1231.0 746.6L1230.6 782.0L1233.2 781.9Z"/><path fill="#9cff00" d="M1231.0 746.6L1232.5 782.0L1235.1 781.8Z"/><path fill="#8fff00" d="M1231.0 746.6L1234.3 781.9L1236.9 781.5Z"/><path fill="#83ff00" d="M1231.0 746.6L1236.2 781.6L1238.7 781.2Z"/><path fill="#76ff00" d="M1231.0 746.6L1238.0 781.3L1240.5 780.7Z"/><path fill="#6aff00" d="M1231.0 746.6L1239.8 780.9L1242.3 780.2Z"/><path fill="#5eff00" d="M1231.0 746.6L1241.6 780.4L1244.0 779.5Z"/><path fill="#52ff00" d="M1231.0 746.6L1243.3 779.8L1245.7 778.8Z"/><path fill="#45ff00" d="M1231.0 746.6L1245.1 779.1L1247.4 778.0Z"/><path fill="#39ff00" d="M1231.0 746.6L1246.7 778.3L1249.0 777.1Z"/><path fill="#30ff00" d="M1231.0 746.6L1248.4 777.5L1250.6 776.1Z"/><path fill="#2bff00" d="M1231.0 746.6L1250.0 776.5L1252.1 775.0Z"/><path fill="#26ff00" d="M1231.0 746.6L1251.5 775.5L1253.6 773.9Z"/><path fill="#21ff00" d="M1231.0 746.6L1253.0 774.4L1255.0 772.7Z"/><path fill="#1cff00" d="M1231.0 746.6L1254.4 773.2L1256.3 771.4Z"/><path fill="#17ff00" d="M1231.0 746.6L1255.8 771.9L1257.6 770.0Z"/><path fill="#12ff00" d="M1231.0 746.6L1257.1 770.6L1258.8 768.6Z"/><path fill="#0dff00" d="M1231.0 746.6L1258.3 769.2L1259.9 767.1Z"/><path fill="#08ff00" d="M1231.0 746.6L1259.4 767.7L1260.9 765.6Z"/><path fill="#03ff00" d="M1231.0 746.6L1260.5 766.2L1261.9 764.0Z"/><path fill="#05ff00" d="M1231.0 746.6L1261.5 764.6L1262.7 762.3Z"/><path fill="#0eff00" d="M1231.0 746.6L1262.4 763.0L1263.5 760.7Z"/><path fill="#17ff00" d="M1231.0 746.6L1263.2 761.3L1264.2 758.9Z"/><path fill="#20ff00" d="M1231.0 746.6L1263.9 759.6L1264.8 757.2Z"/><path fill="#29ff00" d="M1231.0 746.6L1264.6 757.9L1265.3 755.4Z"/><path fill="#32ff00" d="M1231.0 746.6L1265.1 756.1L1265.7 753.6Z"/><path fill="#3cff00" d="M1231.0 746.6L1265.6 754.3L1266.0 751.8Z"/><path fill="#61ff00" d="M1231.0 746.6L1265.9 752.5L1266.3 749.9Z"/><path fill="#8cff00" d="M1231.0 746.6L1266.2 750.7L1266.4 748.1Z"/><path fill="#b7ff00" d="M1231.0 746.6L1266.3 748.8L1266.4 746.2Z"/></g></g>
<g fill="none" stroke="#ffff00" stroke-width="3.4"><circle cx="1231.00" cy="746.60" r="194.50"/><circle cx="1231.00" cy="746.60" r="129.67"/><circle cx="1231.00" cy="746.60" r="64.83"/><circle cx="1231.00" cy="746.60" r="32.42"/><path d="M1036.50 746.60H1198.58M1263.42 746.60H1425.50M1231.00 681.77V714.18M1231.00 779.02V811.43M1263.42 690.45L1328.25 578.16M1198.58 690.45L1133.75 578.16M1198.58 802.75L1133.75 915.04M1263.42 802.75L1328.25 915.04"/></g>
<g font-family="Liberation Sans, Arial, sans-serif" font-weight="bold" font-size="23.5" fill="#000" text-anchor="middle"><text transform="translate(1231.0 592.1) scale(0.87 1)">6</text><text transform="translate(1090.6 673.2) scale(0.87 1)">52</text><text transform="translate(1371.4 673.2) scale(0.87 1)">91</text><text transform="translate(1090.6 835.3) scale(0.87 1)">47</text><text transform="translate(1371.4 835.3) scale(0.87 1)">83</text><text transform="translate(1231.0 916.3) scale(0.87 1)">76</text><text transform="translate(1231.0 657.0) scale(0.87 1)">3</text><text transform="translate(1146.8 705.6) scale(0.87 1)">9</text><text transform="translate(1315.2 705.6) scale(0.87 1)">97</text><text transform="translate(1146.8 802.8) scale(0.87 1)">80</text><text transform="translate(1315.2 802.8) scale(0.87 1)">88</text><text transform="translate(1231.0 851.5) scale(0.87 1)">95</text><text transform="translate(1196.6 719.8) scale(0.87 1)">15</text><text transform="translate(1265.4 719.8) scale(0.87 1)">37</text><text transform="translate(1196.6 788.6) scale(0.87 1)">42</text><text transform="translate(1265.4 788.6) scale(0.87 1)">93</text><text transform="translate(1231.0 754.2) scale(0.87 1)">47</text></g>
<g font-family="Liberation Sans, Arial, sans-serif" font-size="23.5" fill="#ececec" text-anchor="middle" stroke="#000" stroke-width="3" paint-order="stroke"><text transform="translate(1231.0 535.8) scale(0.88 1)">ANT_SEPT</text><text transform="translate(1231.5 974.3) scale(0.88 1)">POST</text><text transform="translate(1042.7 646.4) scale(0.88 1)">SEPT</text><text transform="translate(1419.8 646.4) scale(0.88 1)">ANT</text><text transform="translate(1041.0 865.6) scale(0.88 1)">INF</text><text transform="translate(1419.8 865.4) scale(0.88 1)">LAT</text></g>
<g fill="none"><clipPath id="cD2"><circle cx="1691.10" cy="747.20" r="195.00"/></clipPath><g clip-path="url(#cD2)"><g filter="url(#bl)" stroke-width="9"><path stroke="#af0" d="M1646 546h16M1726 546h8M1646 554h16M1718 554h16M1654 562h8M1718 562h16M1654 570h16M1710 570h16M1654 578h72M1654 586h72M1662 594h64M1662 602h56M1670 610h32M1590 674h24M1582 682h40M1574 690h48M1574 698h16M1614 698h16M1566 706h16M1614 706h16M1566 714h16M1614 714h8M1566 722h8M1606 722h16M1566 730h56M1566 738h48"/><path stroke="#bf0" d="M1662 546h64M1662 554h56M1662 562h56M1670 570h40M1590 698h24M1582 706h32M1582 714h32M1574 722h32"/><path stroke="#9f0" d="M1734 546h8M1638 554h8M1734 554h16M1646 562h8M1734 562h16M1646 570h8M1726 570h16M1646 578h8M1726 578h16M1646 586h8M1726 586h16M1646 594h16M1726 594h16M1646 602h16M1718 602h16M1646 610h24M1702 610h24M1646 618h32M1702 618h16M1606 650h8M1598 658h32M1590 666h40M1582 674h8M1614 674h24M1574 682h8M1622 682h16M1622 690h16M1566 698h8M1630 698h8M1558 706h8M1630 706h8M1558 714h8M1622 714h16M1558 722h8M1622 722h8M1622 730h8M1558 738h8M1614 738h16M1566 746h64"/><path stroke="#8f0" d="M1614 554h24M1750 554h16M1598 562h48M1750 562h32M1582 570h64M1742 570h48M1574 578h72M1742 578h48M1558 586h88M1742 586h40M1550 594h96M1742 594h40M1542 602h104M1734 602h40M1550 610h96M1726 610h48M1558 618h88M1678 618h24M1718 618h48M1566 626h136M1574 634h112M1582 642h96M1582 650h24M1614 650h64M1582 658h16M1630 658h48M1574 666h16M1630 666h48M1566 674h16M1638 674h32M1566 682h8M1638 682h16M1558 690h16M1638 690h8M1550 698h16M1638 698h8M1550 706h8M1550 714h8M1558 730h8M1558 746h8"/><path stroke="#7f0" d="M1790 570h8M1798 578h8M1534 610h16M1526 618h32M1526 626h40M1702 626h24M1742 626h16M1518 634h56M1686 634h32M1510 642h72M1678 642h40M1510 650h72M1678 650h40M1502 658h80M1678 658h40M1510 666h64M1678 666h32M1518 674h48M1670 674h32M1534 682h32M1654 682h32M1534 690h24M1646 690h16M1542 698h8M1542 706h8M1542 714h8M1550 722h8M1550 730h8M1550 738h8"/><path stroke="#6f0" d="M1790 578h8M1806 578h8M1782 586h40M1782 594h16M1774 602h16M1774 610h16M1766 618h16M1726 626h16M1758 626h16M1718 634h56M1718 642h40M1718 650h32M1718 658h24M1502 666h8M1710 666h24M1494 674h24M1702 674h32M1494 682h40M1686 682h16M1494 690h40M1494 698h48M1486 706h56M1486 714h56M1486 722h64M1486 730h64M1486 738h64M1630 738h8M1486 746h48M1542 746h16M1630 746h8M1558 754h72"/><path stroke="#5f0" d="M1798 594h32M1790 602h48M1790 610h40M1782 618h40M1774 626h40M1774 634h32M1758 642h40M1750 650h8M1742 658h8M1734 666h8M1702 682h24M1630 722h8M1630 730h8M1886 738h8M1534 746h8M1854 746h48M1486 754h24M1550 754h8M1838 754h56M1486 762h8M1558 762h72M1830 762h64M1558 770h56M1830 770h64M1566 778h24M1830 778h64M1566 786h8M1830 786h64M1830 794h64M1822 802h72M1814 810h72M1806 818h80M1798 826h88M1790 834h88M1582 842h16M1782 842h96M1574 850h40M1750 850h120M1566 858h56M1742 858h120M1558 866h88M1734 866h128M1550 874h112M1718 874h136M1542 882h304M1542 890h296M1550 898h280M1558 906h264M1566 914h248M1582 922h216M1590 930h200M1614 938h160M1630 946h120M1686 954h16"/><path stroke="#4f0" d="M1830 610h16M1822 618h32M1814 626h48M1806 634h56M1798 642h72M1758 650h112M1750 658h16M1782 658h96M1742 666h16M1798 666h80M1734 674h8M1814 674h72M1822 682h64M1662 690h16M1830 690h64M1646 698h8M1838 698h56M1638 706h8M1838 706h56M1638 714h8M1846 714h48M1638 722h8M1846 722h48M1638 730h8M1846 730h48M1638 738h8M1838 738h48M1638 746h8M1830 746h24M1510 754h40M1630 754h8M1822 754h16M1494 762h64M1822 762h8M1486 770h72M1614 770h16M1822 770h8M1486 778h80M1590 778h32M1814 778h16M1486 786h80M1574 786h48M1814 786h16M1486 794h128M1814 794h16M1494 802h112M1806 802h16M1494 810h104M1806 810h8M1494 818h96M1798 818h8M1502 826h88M1502 834h96M1510 842h72M1598 842h8M1742 842h40M1510 850h64M1742 850h8M1518 858h48M1622 858h24M1734 858h8M1518 866h40M1646 866h8M1726 866h8M1526 874h24M1534 882h8"/><path stroke="#3f0" d="M1766 658h16M1758 666h40M1742 674h32M1798 674h16M1726 682h32M1806 682h16M1678 690h16M1718 690h8M1806 690h24M1654 698h32M1814 698h24M1646 706h32M1814 706h24M1646 714h24M1814 714h32M1646 722h16M1822 722h24M1646 730h16M1822 730h24M1646 738h16M1814 738h24M1646 746h16M1782 746h48M1638 754h8M1766 754h56M1630 762h8M1766 762h56M1766 770h56M1622 778h8M1774 778h40M1622 786h16M1774 786h40M1614 794h24M1774 794h40M1606 802h32M1774 802h32M1598 810h40M1782 810h24M1590 818h40M1774 818h24M1590 826h40M1766 826h32M1598 834h32M1742 834h48M1606 842h40M1734 842h8M1614 850h40M1726 850h16M1646 858h8M1726 858h8M1654 866h8M1718 866h8M1662 874h8M1710 874h8"/><path stroke="#2f0" d="M1774 674h24M1758 682h48M1694 690h24M1726 690h80M1686 698h8M1734 698h80M1678 706h16M1742 706h72M1670 714h24M1750 714h64M1662 722h8M1750 722h72M1662 730h8M1750 730h72M1758 738h56M1758 746h24M1646 754h16M1750 754h16M1638 762h16M1750 762h16M1630 770h16M1750 770h16M1630 778h16M1750 778h24M1638 786h8M1742 786h32M1638 794h8M1734 794h40M1638 802h16M1734 802h40M1638 810h40M1686 810h8M1726 810h56M1630 818h144M1630 826h136M1630 834h112M1646 842h88M1654 850h72M1654 858h72M1662 866h56M1670 874h40"/><path stroke="#1f0" d="M1694 698h40M1694 706h48M1694 714h56M1670 722h80M1670 730h80M1662 738h96M1662 746h96M1662 754h88M1654 762h96M1646 770h104M1646 778h104M1646 786h96M1646 794h88M1654 802h80M1678 810h8M1694 810h32"/></g></g></g>

<g fill="none" stroke="#ffff00" stroke-width="3.4"><circle cx="1691.10" cy="747.20" r="195.00"/><circle cx="1691.10" cy="747.20" r="130.00"/><circle cx="1691.10" cy="747.20" r="65.00"/><circle cx="1691.10" cy="747.20" r="32.50"/><path d="M1496.10 747.20H1658.60M1723.60 747.20H1886.10M1691.10 682.20V714.70M1691.10 779.70V812.20M1723.60 690.91L1788.60 578.33M1658.60 690.91L1593.60 578.33M1658.60 803.49L1593.60 916.07M1723.60 803.49L1788.60 916.07"/></g>
<g font-family="Liberation Sans, Arial, sans-serif" font-weight="bold" font-size="23.5" fill="#000" text-anchor="middle"><text transform="translate(1691.1 592.3) scale(0.87 1)">81</text><text transform="translate(1550.4 673.6) scale(0.87 1)">87</text><text transform="translate(1831.8 673.6) scale(0.87 1)">96</text><text transform="translate(1550.4 836.1) scale(0.87 1)">96</text><text transform="translate(1831.8 836.1) scale(0.87 1)">93</text><text transform="translate(1691.1 917.3) scale(0.87 1)">93</text><text transform="translate(1691.1 657.3) scale(0.87 1)">90</text><text transform="translate(1606.7 706.1) scale(0.87 1)">72</text><text transform="translate(1775.5 706.1) scale(0.87 1)">99</text><text transform="translate(1606.7 803.6) scale(0.87 1)">99</text><text transform="translate(1775.5 803.6) scale(0.87 1)">97</text><text transform="translate(1691.1 852.3) scale(0.87 1)">98</text><text transform="translate(1656.6 720.3) scale(0.87 1)">97</text><text transform="translate(1725.6 720.3) scale(0.87 1)">99</text><text transform="translate(1656.6 789.3) scale(0.87 1)">99</text><text transform="translate(1725.6 789.3) scale(0.87 1)">99</text><text transform="translate(1691.1 754.8) scale(0.87 1)">98</text></g>
<g font-family="Liberation Sans, Arial, sans-serif" font-size="23.5" fill="#ececec" text-anchor="middle" stroke="#000" stroke-width="3" paint-order="stroke"><text transform="translate(1691.1 536.4) scale(0.88 1)">ANT_SEPT</text><text transform="translate(1691.6 974.9) scale(0.88 1)">POST</text><text transform="translate(1502.8 647.0) scale(0.88 1)">SEPT</text><text transform="translate(1879.9 647.0) scale(0.88 1)">ANT</text><text transform="translate(1501.1 866.2) scale(0.88 1)">INF</text><text transform="translate(1879.9 866.0) scale(0.88 1)">LAT</text></g>
<path d="M132.9 1041.5H136.9M136.9 1041.5V1295.5M132.9 1295.5H533.0M136.9 1295.5V1300.5M180.9 1295.5V1300.5M224.9 1295.5V1300.5M268.9 1295.5V1300.5M312.9 1295.5V1300.5M357.0 1295.5V1300.5M401.0 1295.5V1300.5M445.0 1295.5V1300.5M489.0 1295.5V1300.5M533.0 1295.5V1300.5" stroke="#d8d8d8" stroke-width="1.7" fill="none"/>
<g font-family="Liberation Sans, Arial, sans-serif" font-weight="bold" font-size="14.5" fill="#dedede"><text transform="translate(136.9 1314.3) scale(0.85 1)" text-anchor="middle">-30</text><text transform="translate(180.9 1314.3) scale(0.85 1)" text-anchor="middle">-25</text><text transform="translate(224.9 1314.3) scale(0.85 1)" text-anchor="middle">-20</text><text transform="translate(268.9 1314.3) scale(0.85 1)" text-anchor="middle">-15</text><text transform="translate(312.9 1314.3) scale(0.85 1)" text-anchor="middle">-10</text><text transform="translate(357.0 1314.3) scale(0.85 1)" text-anchor="middle">-5</text><text transform="translate(401.0 1314.3) scale(0.85 1)" text-anchor="middle">0</text><text transform="translate(445.0 1314.3) scale(0.85 1)" text-anchor="middle">5</text><text transform="translate(489.0 1314.3) scale(0.85 1)" text-anchor="middle">10</text><text transform="translate(533.0 1314.3) scale(0.85 1)" text-anchor="middle">15</text><text transform="translate(130.9 1300.8) scale(0.85 1)" text-anchor="end">0</text><text transform="translate(130.9 1046.8) scale(0.85 1)" text-anchor="end">111</text></g>
<text transform="translate(334.9 1334.8) scale(0.9 1)" font-family="Liberation Sans, Arial, sans-serif" font-weight="bold" font-size="14" fill="#dedede" text-anchor="middle">Strain(%)</text>
<text transform="translate(101.4 1168.5) rotate(-90) scale(0.92 1)" font-family="Liberation Sans, Arial, sans-serif" font-weight="bold" font-size="14" fill="#dedede" text-anchor="middle">LVP (mmHg)</text>
<path d="M338.0 1271.8L339.5 1264.8L339.5 1221.9L341.0 1180.0L342.5 1150.0L342.7 1132.0L344.1 1113.4L346.0 1094.9L348.7 1081.9L351.5 1070.8L355.2 1059.7L358.9 1051.3L363.6 1044.8L369.1 1041.6L375.6 1041.6L381.2 1043.9L386.7 1049.5L391.4 1056.9L393.7 1065.2L394.1 1076.3L394.6 1090.2L396.9 1104.1L399.2 1118.0L400.6 1132.0L401.6 1145.8L402.0 1159.7L402.8 1176.9L404.3 1202.9L405.8 1229.8L405.8 1251.8L401.8 1251.3L397.8 1252.3L389.9 1254.8L381.9 1257.3L375.9 1260.8L369.9 1264.8L359.9 1267.3L349.9 1269.8L341.0 1272.3L336.0 1275.5L332.0 1276.5L330.0 1274.5L333.0 1273.0Z" stroke="#ff1010" stroke-width="2.2" fill="none" stroke-linejoin="round"/>
<path d="M592.9 1044.6H596.9M596.9 1044.6V1297.3M592.9 1297.3H990.6M596.9 1297.3V1302.3M653.1 1297.3V1302.3M709.4 1297.3V1302.3M765.6 1297.3V1302.3M821.9 1297.3V1302.3M878.1 1297.3V1302.3M934.4 1297.3V1302.3M990.6 1297.3V1302.3" stroke="#d8d8d8" stroke-width="1.7" fill="none"/>
<g font-family="Liberation Sans, Arial, sans-serif" font-weight="bold" font-size="14.5" fill="#dedede"><text transform="translate(596.9 1316.1) scale(0.85 1)" text-anchor="middle">-20</text><text transform="translate(653.1 1316.1) scale(0.85 1)" text-anchor="middle">-15</text><text transform="translate(709.4 1316.1) scale(0.85 1)" text-anchor="middle">-10</text><text transform="translate(765.6 1316.1) scale(0.85 1)" text-anchor="middle">-5</text><text transform="translate(821.9 1316.1) scale(0.85 1)" text-anchor="middle">0</text><text transform="translate(878.1 1316.1) scale(0.85 1)" text-anchor="middle">5</text><text transform="translate(934.4 1316.1) scale(0.85 1)" text-anchor="middle">10</text><text transform="translate(990.6 1316.1) scale(0.85 1)" text-anchor="middle">15</text><text transform="translate(590.9 1302.6) scale(0.85 1)" text-anchor="end">0</text><text transform="translate(590.9 1049.9) scale(0.85 1)" text-anchor="end">110</text></g>
<text transform="translate(793.8 1336.6) scale(0.9 1)" font-family="Liberation Sans, Arial, sans-serif" font-weight="bold" font-size="14" fill="#dedede" text-anchor="middle">Strain(%)</text>
<text transform="translate(561.7 1170.9) rotate(-90) scale(0.92 1)" font-family="Liberation Sans, Arial, sans-serif" font-weight="bold" font-size="14" fill="#dedede" text-anchor="middle">LVP (mmHg)</text>
<path d="M679.0 1150.0L677.4 1159.8L676.0 1170.0L673.5 1194.9L672.0 1229.8L674.0 1254.8L678.0 1273.8L683.0 1277.7L696.9 1277.7L706.9 1275.7L724.9 1274.8L744.8 1274.3L759.8 1271.8L766.8 1269.8L770.8 1266.3L779.8 1264.8L799.7 1262.8L814.7 1260.8L823.7 1258.8L819.7 1257.8L817.2 1253.8L816.2 1239.8L814.2 1219.9L811.7 1199.9L807.7 1179.9L802.7 1162.0L797.3 1143.7L791.0 1126.8L784.8 1111.6L779.4 1098.3L771.4 1086.7L762.5 1074.2L750.9 1061.7L742.0 1055.5L733.1 1048.8L722.4 1044.8L717.9 1044.4L709.9 1047.5L704.6 1050.6L697.4 1064.4L692.1 1076.0L690.3 1086.7L687.6 1101.8L685.0 1115.2L681.4 1133.0Z" stroke="#ff1010" stroke-width="2.2" fill="none" stroke-linejoin="round"/>
<path d="M1051.5 1045.1H1055.5M1055.5 1045.1V1297.3M1051.5 1297.3H1449.9M1055.5 1297.3V1302.3M1121.2 1297.3V1302.3M1187.0 1297.3V1302.3M1252.7 1297.3V1302.3M1318.4 1297.3V1302.3M1384.2 1297.3V1302.3M1449.9 1297.3V1302.3" stroke="#d8d8d8" stroke-width="1.7" fill="none"/>
<g font-family="Liberation Sans, Arial, sans-serif" font-weight="bold" font-size="14.5" fill="#dedede"><text transform="translate(1055.5 1316.1) scale(0.85 1)" text-anchor="middle">-20</text><text transform="translate(1121.2 1316.1) scale(0.85 1)" text-anchor="middle">-15</text><text transform="translate(1187.0 1316.1) scale(0.85 1)" text-anchor="middle">-10</text><text transform="translate(1252.7 1316.1) scale(0.85 1)" text-anchor="middle">-5</text><text transform="translate(1318.4 1316.1) scale(0.85 1)" text-anchor="middle">0</text><text transform="translate(1384.2 1316.1) scale(0.85 1)" text-anchor="middle">5</text><text transform="translate(1449.9 1316.1) scale(0.85 1)" text-anchor="middle">10</text><text transform="translate(1049.5 1302.6) scale(0.85 1)" text-anchor="end">0</text><text transform="translate(1049.5 1050.4) scale(0.85 1)" text-anchor="end">115</text></g>
<text transform="translate(1252.7 1336.6) scale(0.9 1)" font-family="Liberation Sans, Arial, sans-serif" font-weight="bold" font-size="14" fill="#dedede" text-anchor="middle">Strain(%)</text>
<text transform="translate(1018.7 1171.2) rotate(-90) scale(0.92 1)" font-family="Liberation Sans, Arial, sans-serif" font-weight="bold" font-size="14" fill="#dedede" text-anchor="middle">LVP (mmHg)</text>
<path d="M1227.7 1278.7L1239.2 1272.4L1247.9 1261.8L1253.7 1250.3L1257.1 1238.7L1259.5 1227.2L1260.9 1212.7L1261.9 1195.4L1263.3 1191.6L1263.3 1155.0L1262.2 1144.4L1261.7 1103.6L1260.8 1072.1L1260.8 1053.5L1262.2 1048.0L1265.4 1045.7L1270.0 1045.7L1275.6 1048.4L1283.0 1056.3L1290.4 1064.7L1296.9 1073.9L1301.6 1082.3L1304.3 1090.6L1306.2 1099.9L1306.7 1109.1L1307.1 1123.0L1308.0 1146.2L1308.1 1174.2L1309.0 1196.4L1310.0 1215.6L1311.4 1230.1L1313.4 1244.5L1314.8 1255.1L1318.2 1257.0L1312.4 1258.5L1301.8 1260.9L1287.4 1263.8L1277.7 1265.7L1271.0 1269.5L1263.3 1273.4L1256.6 1275.3L1236.4 1275.8Z" stroke="#ff1010" stroke-width="2.2" fill="none" stroke-linejoin="round"/>
<path d="M1513.9 1043.4H1517.9M1517.9 1043.4V1294.4M1513.9 1294.4H1912.8M1517.9 1294.4V1299.4M1583.7 1294.4V1299.4M1649.5 1294.4V1299.4M1715.3 1294.4V1299.4M1781.2 1294.4V1299.4M1847.0 1294.4V1299.4M1912.8 1294.4V1299.4" stroke="#d8d8d8" stroke-width="1.7" fill="none"/>
<g font-family="Liberation Sans, Arial, sans-serif" font-weight="bold" font-size="14.5" fill="#dedede"><text transform="translate(1517.9 1313.2) scale(0.85 1)" text-anchor="middle">-25</text><text transform="translate(1583.7 1313.2) scale(0.85 1)" text-anchor="middle">-20</text><text transform="translate(1649.5 1313.2) scale(0.85 1)" text-anchor="middle">-15</text><text transform="translate(1715.3 1313.2) scale(0.85 1)" text-anchor="middle">-10</text><text transform="translate(1781.2 1313.2) scale(0.85 1)" text-anchor="middle">-5</text><text transform="translate(1847.0 1313.2) scale(0.85 1)" text-anchor="middle">0</text><text transform="translate(1912.8 1313.2) scale(0.85 1)" text-anchor="middle">5</text><text transform="translate(1511.9 1299.7) scale(0.85 1)" text-anchor="end">0</text><text transform="translate(1511.9 1048.7) scale(0.85 1)" text-anchor="end">126</text></g>
<text transform="translate(1715.3 1333.7) scale(0.9 1)" font-family="Liberation Sans, Arial, sans-serif" font-weight="bold" font-size="14" fill="#dedede" text-anchor="middle">Strain(%)</text>
<text transform="translate(1479.5 1168.9) rotate(-90) scale(0.92 1)" font-family="Liberation Sans, Arial, sans-serif" font-weight="bold" font-size="14" fill="#dedede" text-anchor="middle">LVP (mmHg)</text>
<path d="M1687.0 1150.0L1686.0 1168.0L1685.0 1231.8L1683.5 1253.8L1683.5 1272.3L1687.0 1275.2L1706.9 1274.3L1720.9 1272.3L1744.9 1271.8L1757.8 1270.3L1767.8 1267.8L1770.8 1263.8L1774.8 1262.3L1784.8 1260.8L1796.8 1259.8L1812.7 1258.8L1828.7 1257.8L1842.7 1256.8L1851.6 1254.8L1849.7 1245.8L1846.7 1229.8L1843.7 1209.9L1841.7 1189.9L1838.7 1170.0L1837.3 1159.9L1835.8 1143.8L1833.0 1129.6L1828.3 1117.3L1820.7 1102.2L1807.5 1085.1L1796.1 1075.7L1777.2 1063.4L1760.1 1053.9L1746.0 1047.3L1733.7 1043.5L1715.7 1043.5L1703.4 1050.1L1693.9 1064.3L1691.6 1074.7L1688.7 1086.1L1687.8 1099.3L1686.8 1116.4Z" stroke="#ff1010" stroke-width="2.2" fill="none" stroke-linejoin="round"/>
<g font-family="Liberation Sans, Arial, sans-serif" font-weight="bold" font-size="35.5" fill="#fff" text-anchor="middle"><text x="125.0" y="59.6">A</text><text x="578.5" y="59.6">B</text><text x="1043.3" y="59.6">C</text><text x="1500.8" y="59.6">D</text></g>
</svg></body></html>
